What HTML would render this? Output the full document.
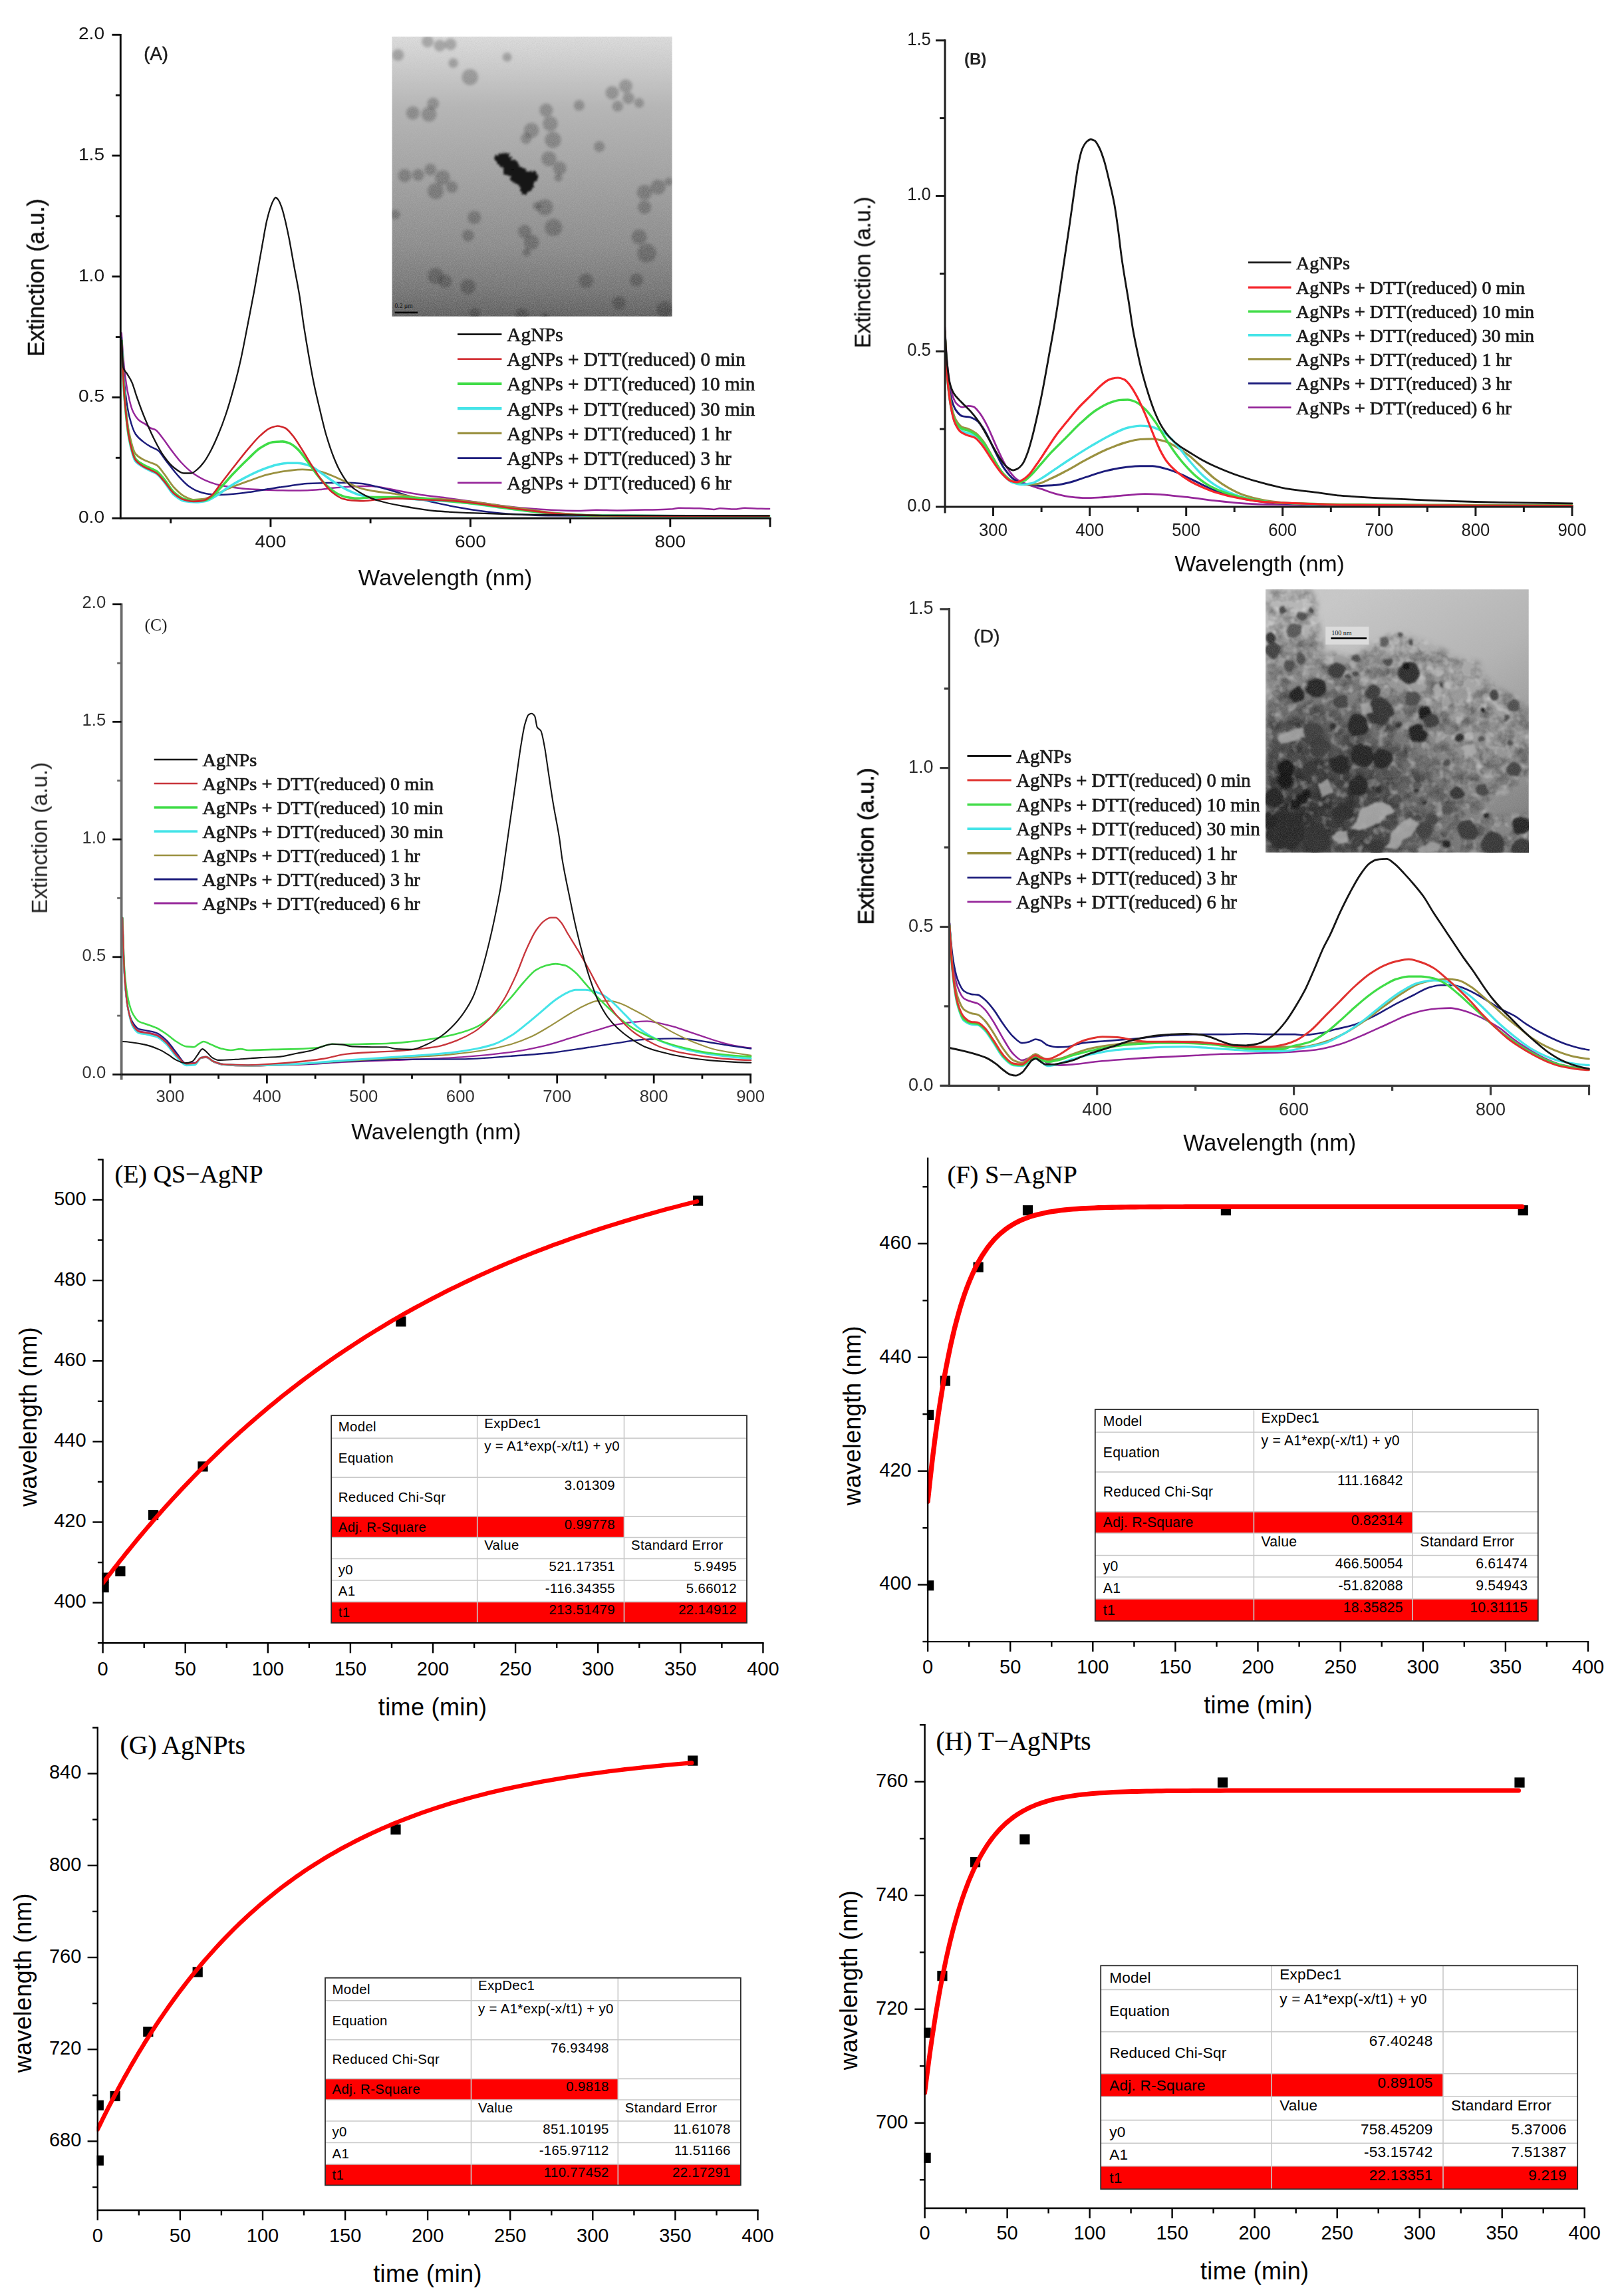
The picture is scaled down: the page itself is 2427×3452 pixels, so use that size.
<!DOCTYPE html>
<html><head><meta charset="utf-8"><title>Figure</title>
<style>html,body{margin:0;padding:0;background:#fff}svg{display:block}</style>
</head><body>
<svg width="2427" height="3452" viewBox="0 0 2427 3452">
<rect width="2427" height="3452" fill="#fff"/>
<defs>
<clipPath id="clA"><rect x="181.3" y="40" width="978" height="745"/></clipPath>
<clipPath id="clB"><rect x="1421" y="40" width="945" height="730"/></clipPath>
<clipPath id="clC"><rect x="182.6" y="890" width="948" height="732"/></clipPath>
<clipPath id="clD"><rect x="1427.4" y="890" width="964" height="748"/></clipPath>
<filter id="soft" x="-2%" y="-2%" width="104%" height="104%"><feGaussianBlur stdDeviation="0.6"/></filter>
</defs>
<g filter="url(#soft)">
<g clip-path="url(#clA)">
<path d="M182.7 500.4C184.2 522.8 185.7 543.1 187.2 556.1C189 572.5 190.9 584.6 192.8 593.3C195.2 604.9 197.7 614.3 200.2 619.3C203.3 625.6 206.4 629.7 209.5 632.3C212.6 634.9 215.7 635.8 218.8 637.9C221.3 639.6 223.7 642.3 226.2 643.5C228.7 644.7 231.2 644.8 233.6 646.1C236.7 647.7 239.8 652.7 242.9 656.5C247.9 662.6 252.9 670.5 257.8 677C262.8 683.4 267.7 690.3 272.7 695.5C278.9 702.1 285.1 708 291.3 712.3C297.5 716.5 303.7 720.1 309.9 722.7C316 725.3 322.2 727.6 328.4 729C335.9 730.7 343.3 731.7 350.7 732.7C358.2 733.7 365.6 734.8 373 735.3C380.5 735.8 387.9 736.1 395.4 736.4C402.8 736.7 410.2 737 417.7 737.2C425.1 737.3 432.5 737.5 440 737.5C447.4 737.5 454.8 737.4 462.3 737.2C469.7 737 477.1 736.3 484.6 735.7C489.5 735.2 494.5 734.3 499.4 733.8C506.9 733.1 514.3 732.4 521.7 732C529.2 731.5 536.6 730.9 544.1 730.9C549 730.9 554 730.9 558.9 730.9C565.1 730.9 571.3 732.4 577.5 733.5C583.7 734.5 589.9 736 596.1 737.2C608.5 739.5 620.9 742 633.3 743.9C647.3 745.9 661.3 747.3 675.3 749.2C688.1 750.9 700.9 752.7 713.7 754.5C726.5 756.3 739.3 758.3 752.1 759.9C764.9 761.5 777.7 763 790.5 764.1C803.3 765.2 816.1 766.3 828.9 766.8C841.7 767.4 854.5 768 867.3 768C877.2 768 887 766.8 896.9 766.8C907.2 766.8 917.5 767.4 927.8 767.4C938.2 767.4 948.5 767 958.8 766.8C969.1 766.6 979.5 766.5 989.8 766.2C997 766 1004.2 765.8 1011.5 765.3C1014.6 765 1017.7 763.7 1020.8 763.7C1025.9 763.7 1031.1 763.9 1036.3 764C1041.4 764.1 1046.6 764.2 1051.7 764.3C1059 764.6 1066.2 765.9 1073.4 765.9C1076.5 765.9 1079.6 764.3 1082.7 764.3C1090 764.3 1097.2 765.6 1104.4 765.6C1109.6 765.6 1114.7 763.7 1119.9 763.7C1126.1 763.7 1132.3 764.5 1138.5 764.7C1144.7 764.8 1150.9 765 1157.1 765" fill="none" stroke="#96289a" stroke-width="2.5" stroke-linejoin="round" stroke-linecap="round"/>
<path d="M182.7 507.8C184.2 536.6 185.7 564.2 187.2 578.4C189.7 602.1 192.1 616.9 194.6 626.8C197.7 639.1 200.8 648.2 203.9 652.8C207.6 658.3 211.3 661 215.1 663.9C218.8 666.9 222.5 669.3 226.2 671.4C229.9 673.5 233.6 674.3 237.4 677C241.7 680 246 688.2 250.4 693.7C255.3 700 260.3 706.7 265.2 712.3C271.4 719.2 277.6 726.5 283.8 730.9C288.8 734.3 293.7 737.3 298.7 739C303.7 740.7 308.6 742.2 313.6 742.8C318.5 743.3 323.5 743.9 328.4 743.9C335.9 743.9 343.3 743.3 350.7 742.8C358.2 742.2 365.6 741.2 373 740.1C383 738.8 392.9 736.9 402.8 735.3C412.7 733.8 422.6 732.2 432.5 730.9C442.4 729.5 452.4 727.7 462.3 727.1C472.2 726.6 482.1 726.2 492 726C501.9 725.8 511.8 725.7 521.7 725.7C529.2 725.7 536.6 726.4 544.1 727.1C551.5 727.9 558.9 729.9 566.4 731.6C573.8 733.3 581.2 735.4 588.7 737.5C597.3 740 606 743.3 614.7 745.7C628.5 749.6 642.3 753 656 756.1C668.8 758.9 681.7 761.6 694.5 763.8C707.3 766 720.1 768.1 732.9 769.5C745.7 771 758.5 772.3 771.3 773C790.5 774.1 809.7 775.2 828.9 775.3C867.3 775.5 905.8 775.7 944.2 775.7C1015 775.7 1085.8 775.7 1156.6 775.7" fill="none" stroke="#1f1f7c" stroke-width="2.5" stroke-linejoin="round" stroke-linecap="round"/>
<path d="M182.7 511.5C184.2 544.5 185.7 576.2 187.2 593.3C189.7 621.8 192.1 641.3 194.6 652.8C197.7 667.2 200.8 678.8 203.9 682.5C207.6 687 211.3 688.7 215.1 690.7C218.8 692.7 222.5 694 226.2 695.5C229.3 696.8 232.4 697.4 235.5 699.3C239.2 701.4 242.9 707.6 246.7 712.3C251.6 718.5 256.6 727.4 261.5 732.7C266.5 738 271.4 743.1 276.4 745.7C281.4 748.3 286.3 751.3 291.3 751.3C296.2 751.3 301.2 750.8 306.1 750.2C311.1 749.6 316 746.9 321 745C328.4 742 335.9 737.7 343.3 734.6C353.2 730.4 363.1 726.9 373 723.4C383 719.9 392.9 715.8 402.8 713.4C412.7 711 422.6 708.9 432.5 707.8C440 707 447.4 705.9 454.8 705.9C462.3 705.9 469.7 706.8 477.1 707.8C484.6 708.8 492 712.4 499.4 715.2C506.9 718.1 514.3 722.1 521.7 725.3C529.2 728.5 536.6 732.6 544.1 734.6C551.5 736.6 558.9 737.9 566.4 739C576.3 740.6 586.2 741.4 596.1 742.8C608.5 744.5 620.9 747.6 633.3 748.7C647.3 749.9 661.3 750.1 675.3 751.1C688.1 752 700.9 753.4 713.7 754.9C726.5 756.4 739.3 758.6 752.1 760.3C764.9 762 777.7 763.6 790.5 765.3C803.3 767 816.1 769.5 828.9 770.7C841.7 771.9 854.5 772.6 867.3 773.4C880.1 774.1 892.9 775.2 905.8 775.3C944.2 775.6 982.6 775.7 1021 775.7C1066.2 775.7 1111.4 775.7 1156.6 775.7" fill="none" stroke="#9a9140" stroke-width="2.8" stroke-linejoin="round" stroke-linecap="round"/>
<path d="M182.7 511.5C184.2 545.8 185.7 578.6 187.2 597C189.7 627.8 192.1 649.7 194.6 662.1C197.7 677.5 200.8 689.9 203.9 693.7C207.6 698.3 211.3 699.6 215.1 701.9C218.8 704.2 222.5 705.9 226.2 707.8C229.3 709.4 232.4 710.2 235.5 712.3C239.2 714.7 242.9 719.8 246.7 724.2C251.6 730 256.6 739.7 261.5 743.9C266.5 748.1 271.4 752.3 276.4 753.2C282.6 754.3 288.8 755 295 755C299.9 755 304.9 754.2 309.9 753.2C314.8 752.2 319.8 748.6 324.7 745.7C330.9 742.1 337.1 736.7 343.3 732.7C350.7 728 358.2 723.7 365.6 719.7C373 715.7 380.5 711.7 387.9 708.6C395.4 705.4 402.8 702.2 410.2 700.4C417.7 698.6 425.1 696.3 432.5 696.3C437.5 696.3 442.4 696.3 447.4 696.3C453.6 696.3 459.8 698.3 466 700.4C472.2 702.4 478.4 708.1 484.6 712.3C490.8 716.4 497 721.3 503.2 725.3C509.4 729.3 515.6 733.5 521.7 736.4C527.9 739.4 534.1 742.2 540.3 743.9C546.5 745.5 552.7 747.2 558.9 747.6C571.3 748.3 583.7 748.2 596.1 748.7C608.5 749.2 620.9 750.5 633.3 751.3C647.3 752.2 661.3 752.7 675.3 753.8C688.1 754.7 700.9 756.1 713.7 757.6C726.5 759.1 739.3 761.3 752.1 763C764.9 764.7 777.7 766.5 790.5 768C803.3 769.4 816.1 770.8 828.9 771.8C841.7 772.9 854.5 774.1 867.3 774.5C880.1 774.9 892.9 775.2 905.8 775.3C944.2 775.5 982.6 775.7 1021 775.7C1066.2 775.7 1111.4 775.7 1156.6 775.7" fill="none" stroke="#45e4e8" stroke-width="3.6" stroke-linejoin="round" stroke-linecap="round"/>
<path d="M182.7 511.5C184.2 546 185.7 578.9 187.2 597C189.7 627.2 192.1 648.5 194.6 660.2C197.7 674.9 200.8 686.1 203.9 690C207.6 694.6 211.3 696.3 215.1 698.5C218.8 700.8 222.5 702.3 226.2 704.1C229.3 705.6 232.4 706.5 235.5 708.6C239.2 711 242.9 716.1 246.7 720.4C251.6 726.3 256.6 735.7 261.5 740.1C266.5 744.6 271.4 748.7 276.4 750.2C281.4 751.7 286.3 753.2 291.3 753.2C296.2 753.2 301.2 752.9 306.1 752.4C309.9 752.1 313.6 749.8 317.3 747.6C322.2 744.6 327.2 737.9 332.2 732.7C338.4 726.2 344.5 718.8 350.7 712.3C358.2 704.5 365.6 697 373 690C379.2 684.1 385.4 677 391.6 673.2C397.8 669.5 404 665.2 410.2 664.7C415.2 664.2 420.1 663.9 425.1 663.9C428.8 663.9 432.5 665.5 436.2 666.9C440 668.4 443.7 671.7 447.4 675.1C452.4 679.6 457.3 687.2 462.3 693.7C467.2 700.2 472.2 708 477.1 714.1C482.1 720.3 487.1 726.4 492 730.9C497 735.3 501.9 739.5 506.9 742C511.8 744.5 516.8 746.7 521.7 747.6C526.7 748.5 531.7 749.4 536.6 749.4C544.1 749.4 551.5 747.6 558.9 747.6C571.3 747.6 583.7 747.6 596.1 747.6C608.5 747.6 620.9 748.6 633.3 749.4C647.3 750.4 661.3 752 675.3 753.4C688.1 754.6 700.9 755.7 713.7 757.2C726.5 758.7 739.3 760.9 752.1 762.6C764.9 764.3 777.7 766.1 790.5 767.6C803.3 769.1 816.1 770.8 828.9 771.8C841.7 772.8 854.5 773.6 867.3 774.1C880.1 774.6 892.9 775.2 905.8 775.3C944.2 775.6 982.6 775.7 1021 775.7C1066.2 775.7 1111.4 775.7 1156.6 775.7" fill="none" stroke="#3fdc46" stroke-width="3.6" stroke-linejoin="round" stroke-linecap="round"/>
<path d="M182.7 511.5C184.2 546 185.7 578.9 187.2 597C189.7 627.2 192.1 648 194.6 660.2C197.7 675.5 200.8 687.6 203.9 691.8C207.6 696.9 211.3 698.8 215.1 701.1C218.8 703.4 222.5 704.8 226.2 706.7C229.3 708.3 232.4 709.4 235.5 711.5C239.2 714.1 242.9 719.2 246.7 723.4C251.6 729.1 256.6 737.9 261.5 742C266.5 746.1 271.4 749.9 276.4 751.3C281.4 752.7 286.3 753.9 291.3 753.9C296.2 753.9 301.2 753.3 306.1 752.4C309.9 751.8 313.6 748.7 317.3 745.7C322.2 741.8 327.2 733.5 332.2 727.1C338.4 719.2 344.5 710.9 350.7 703C358.2 693.5 365.6 683.8 373 675.1C379.2 667.9 385.4 660.1 391.6 654.6C396.6 650.3 401.5 645.4 406.5 643.5C410.2 642.1 413.9 640.5 417.7 640.5C421.4 640.5 425.1 641.9 428.8 643.5C432.5 645.1 436.2 650.2 440 654.6C444.9 660.5 449.9 669.2 454.8 677C459.8 684.7 464.7 693.4 469.7 701.1C474.7 708.8 479.6 717 484.6 723.4C489.5 729.8 494.5 736.2 499.4 740.1C504.4 744.1 509.4 747.9 514.3 749.4C519.3 750.9 524.2 752 529.2 752.4C534.1 752.8 539.1 753.2 544.1 753.2C551.5 753.2 558.9 751.8 566.4 751.3C576.3 750.6 586.2 749.4 596.1 749.4C608.5 749.4 620.9 750.8 633.3 751.3C647.3 751.8 661.3 751.9 675.3 752.6C688.1 753.2 700.9 755 713.7 756.5C726.5 758 739.3 760.1 752.1 761.8C764.9 763.6 777.7 765.2 790.5 766.8C803.3 768.4 816.1 770.3 828.9 771.4C841.7 772.6 854.5 773.6 867.3 774.1C880.1 774.7 892.9 775.2 905.8 775.3C944.2 775.6 982.6 775.7 1021 775.7C1066.2 775.7 1111.4 775.7 1156.6 775.7" fill="none" stroke="#d0262c" stroke-width="2.6" stroke-linejoin="round" stroke-linecap="round"/>
<path d="M183.1 511.5C183.8 528.7 184.6 549.8 185.3 552.4C187.2 558.9 189 558.5 190.9 561.7C193.4 565.9 195.8 569.2 198.3 574.7C200.8 580.2 203.3 590 205.8 597C209.5 607.6 213.2 617.7 216.9 626.8C221.9 638.9 226.8 650.5 231.8 660.2C236.7 670 241.7 679.5 246.7 686.2C251.6 693 256.6 699.2 261.5 703C266.5 706.7 271.4 711.5 276.4 711.5C280.1 711.5 283.8 711.5 287.5 711.5C290.6 711.5 293.7 708.1 296.8 705.6C299.9 703.1 303 699.6 306.1 695.5C309.9 690.7 313.6 684 317.3 677C321 669.9 324.7 661.7 328.4 652.8C332.2 643.9 335.9 634.1 339.6 623C343.3 612 347 599.4 350.7 585.9C354.5 572.4 358.2 557.8 361.9 541.3C365.6 524.7 369.3 504.5 373 485.5C376.1 469.7 379.2 454.1 382.3 437.2C384.9 423 387.5 407.4 390.1 392.6C391.9 382.7 393.6 372.4 395.4 362.8C397.2 352.6 399.1 341.2 400.9 333.1C402.8 325 404.6 318.1 406.5 312.6C408 308.2 409.5 303.9 411 301.5C412.2 299.5 413.4 297 414.7 297C415.9 297 417.2 298.8 418.4 300.4C420 302.4 421.6 306.4 423.2 310.8C425.1 315.8 427 323.6 428.8 331.2C430.8 339.4 432.8 349.1 434.8 359.1C437.2 371.6 439.7 386.4 442.2 400C444.9 414.9 447.6 427.7 450.4 444.6C452.5 457.6 454.6 475.5 456.7 489.2C459.2 505.3 461.6 519.6 464.1 533.8C466.6 548.1 469.1 562.6 471.6 574.7C474.7 589.9 477.8 602.6 480.9 615.6C484 628.6 487.1 642.1 490.1 652.8C493.9 665.6 497.6 676.9 501.3 686.2C505 695.6 508.7 704 512.5 710.4C516.8 717.9 521.1 724.7 525.5 729C530.4 733.9 535.4 737.2 540.3 740.1C546.5 743.9 552.7 747.1 558.9 749.4C565.1 751.8 571.3 753.5 577.5 755C589.9 758.1 602.3 760.3 614.7 762.5C627.1 764.6 639.5 767 651.9 768C672.5 769.8 693.1 770.6 713.7 771.4C739.3 772.5 764.9 773.4 790.5 773.7C828.9 774.3 867.3 774.8 905.8 774.9C989.4 775.1 1073 775.3 1156.6 775.3" fill="none" stroke="#141414" stroke-width="2.3" stroke-linejoin="round" stroke-linecap="round"/>
</g>
<line x1="181.3" y1="50.9" x2="181.3" y2="780.7" stroke="#111" stroke-width="2.9"/>
<line x1="181.3" y1="779.2" x2="1159.5" y2="779.2" stroke="#111" stroke-width="2.9"/>
<line x1="406.9" y1="779.2" x2="406.9" y2="792.2" stroke="#111" stroke-width="2.9"/>
<text x="0" y="0" font-family="'Liberation Sans',Arial,sans-serif" font-size="26" text-anchor="middle" fill="#161616" transform="translate(406.9 822.6) scale(1.08 1)">400</text>
<line x1="707.4" y1="779.2" x2="707.4" y2="792.2" stroke="#111" stroke-width="2.9"/>
<text x="0" y="0" font-family="'Liberation Sans',Arial,sans-serif" font-size="26" text-anchor="middle" fill="#161616" transform="translate(707.4 822.6) scale(1.08 1)">600</text>
<line x1="1007.8" y1="779.2" x2="1007.8" y2="792.2" stroke="#111" stroke-width="2.9"/>
<text x="0" y="0" font-family="'Liberation Sans',Arial,sans-serif" font-size="26" text-anchor="middle" fill="#161616" transform="translate(1007.8 822.6) scale(1.08 1)">800</text>
<line x1="1158" y1="779.2" x2="1158" y2="792.2" stroke="#111" stroke-width="2.9"/>
<line x1="256.7" y1="779.2" x2="256.7" y2="786.7" stroke="#111" stroke-width="2.9"/>
<line x1="557.1" y1="779.2" x2="557.1" y2="786.7" stroke="#111" stroke-width="2.9"/>
<line x1="857.6" y1="779.2" x2="857.6" y2="786.7" stroke="#111" stroke-width="2.9"/>
<line x1="168.4" y1="779.2" x2="181.3" y2="779.2" stroke="#111" stroke-width="2.9"/>
<text x="0" y="0" font-family="'Liberation Sans',Arial,sans-serif" font-size="26" text-anchor="end" fill="#161616" transform="translate(157 785.9) scale(1.08 1)">0.0</text>
<line x1="168.4" y1="597.5" x2="181.3" y2="597.5" stroke="#111" stroke-width="2.9"/>
<text x="0" y="0" font-family="'Liberation Sans',Arial,sans-serif" font-size="26" text-anchor="end" fill="#161616" transform="translate(157 604.2) scale(1.08 1)">0.5</text>
<line x1="168.4" y1="415.8" x2="181.3" y2="415.8" stroke="#111" stroke-width="2.9"/>
<text x="0" y="0" font-family="'Liberation Sans',Arial,sans-serif" font-size="26" text-anchor="end" fill="#161616" transform="translate(157 422.5) scale(1.08 1)">1.0</text>
<line x1="168.4" y1="234" x2="181.3" y2="234" stroke="#111" stroke-width="2.9"/>
<text x="0" y="0" font-family="'Liberation Sans',Arial,sans-serif" font-size="26" text-anchor="end" fill="#161616" transform="translate(157 240.7) scale(1.08 1)">1.5</text>
<line x1="168.4" y1="52.3" x2="181.3" y2="52.3" stroke="#111" stroke-width="2.9"/>
<text x="0" y="0" font-family="'Liberation Sans',Arial,sans-serif" font-size="26" text-anchor="end" fill="#161616" transform="translate(157 59) scale(1.08 1)">2.0</text>
<line x1="173.9" y1="688.3" x2="181.3" y2="688.3" stroke="#111" stroke-width="2.9"/>
<line x1="173.9" y1="506.6" x2="181.3" y2="506.6" stroke="#111" stroke-width="2.9"/>
<line x1="173.9" y1="324.9" x2="181.3" y2="324.9" stroke="#111" stroke-width="2.9"/>
<line x1="173.9" y1="143.2" x2="181.3" y2="143.2" stroke="#111" stroke-width="2.9"/>
<text x="216.3" y="90.2" font-family="'Liberation Sans',Arial,sans-serif" font-size="27.5" text-anchor="start" fill="#1a1a1a" stroke="#1a1a1a" stroke-width="0.5">(A)</text>
<text x="53.4" y="417.4" font-family="'Liberation Sans',Arial,sans-serif" font-size="34.2" text-anchor="middle" fill="#111" transform="rotate(-90 53.4 417.4)" dy="0.36em" stroke="#111" stroke-width="0.5">Extinction (a.u.)</text>
<text x="0" y="0" font-family="'Liberation Sans',Arial,sans-serif" font-size="33.2" text-anchor="middle" fill="#111" transform="translate(669.4 879.8) scale(1.04 1)">Wavelength (nm)</text>
<line x1="688" y1="502.6" x2="754.4" y2="502.6" stroke="#141414" stroke-width="2.6"/>
<text x="762.3" y="513" font-family="'Liberation Serif','Times New Roman',serif" font-size="29.2" text-anchor="start" fill="#1a1a1a" stroke="#1a1a1a" stroke-width="0.7">AgNPs</text>
<line x1="688" y1="539.8" x2="754.4" y2="539.8" stroke="#d0262c" stroke-width="2.6"/>
<text x="762.3" y="550.2" font-family="'Liberation Serif','Times New Roman',serif" font-size="29.2" text-anchor="start" fill="#1a1a1a" stroke="#1a1a1a" stroke-width="0.7">AgNPs + DTT(reduced) 0 min</text>
<line x1="688" y1="577" x2="754.4" y2="577" stroke="#3fdc46" stroke-width="4.2"/>
<text x="762.3" y="587.4" font-family="'Liberation Serif','Times New Roman',serif" font-size="29.2" text-anchor="start" fill="#1a1a1a" stroke="#1a1a1a" stroke-width="0.7">AgNPs + DTT(reduced) 10 min</text>
<line x1="688" y1="614.2" x2="754.4" y2="614.2" stroke="#45e4e8" stroke-width="4.2"/>
<text x="762.3" y="624.6" font-family="'Liberation Serif','Times New Roman',serif" font-size="29.2" text-anchor="start" fill="#1a1a1a" stroke="#1a1a1a" stroke-width="0.7">AgNPs + DTT(reduced) 30 min</text>
<line x1="688" y1="651.4" x2="754.4" y2="651.4" stroke="#9a9140" stroke-width="3.2"/>
<text x="762.3" y="661.8" font-family="'Liberation Serif','Times New Roman',serif" font-size="29.2" text-anchor="start" fill="#1a1a1a" stroke="#1a1a1a" stroke-width="0.7">AgNPs + DTT(reduced) 1 hr</text>
<line x1="688" y1="688.6" x2="754.4" y2="688.6" stroke="#1f1f7c" stroke-width="2.8"/>
<text x="762.3" y="699" font-family="'Liberation Serif','Times New Roman',serif" font-size="29.2" text-anchor="start" fill="#1a1a1a" stroke="#1a1a1a" stroke-width="0.7">AgNPs + DTT(reduced) 3 hr</text>
<line x1="688" y1="725.8" x2="754.4" y2="725.8" stroke="#96289a" stroke-width="2.8"/>
<text x="762.3" y="736.2" font-family="'Liberation Serif','Times New Roman',serif" font-size="29.2" text-anchor="start" fill="#1a1a1a" stroke="#1a1a1a" stroke-width="0.7">AgNPs + DTT(reduced) 6 hr</text>
</g>
<g filter="url(#soft)">
<g clip-path="url(#clB)">
<path d="M1420.9 492.5C1422.1 516.1 1423.4 538.2 1424.6 550.1C1426.5 567.9 1428.3 580.4 1430.2 587.3C1432.7 596.5 1435.1 603.2 1437.6 605.9C1440.7 609.3 1443.8 612.2 1446.9 612.2C1450 612.2 1453.1 610.3 1456.2 610.3C1458.7 610.3 1461.2 610.8 1463.6 611.4C1466.7 612.2 1469.8 616.9 1472.9 620.7C1476.7 625.4 1480.4 632.3 1484.1 639.3C1489 648.8 1494 662.3 1499 672.8C1503.9 683.3 1508.9 695.1 1513.8 702.5C1518.8 710 1523.7 716.9 1528.7 720.4C1533.7 723.9 1538.6 725.8 1543.6 727.8C1551 730.8 1558.4 732.8 1565.9 735.2C1573.3 737.7 1580.7 740.8 1588.2 742.7C1595.6 744.5 1603 746.4 1610.5 747.1C1617.9 747.9 1625.4 748.6 1632.8 748.6C1640.2 748.6 1647.7 748.2 1655.1 747.9C1662.5 747.5 1670 746.6 1677.4 746C1684.8 745.4 1692.3 744.7 1699.7 744.2C1707.1 743.6 1714.6 742.7 1722 742.7C1729.4 742.7 1736.9 743 1744.3 743.4C1751.7 743.8 1759.2 744.9 1766.6 745.7C1774.1 746.4 1781.5 747 1788.9 747.9C1801.3 749.3 1813.7 751.3 1826.1 752.7C1838.5 754.1 1850.9 755.6 1863.3 756.4C1875.7 757.3 1888.1 758 1900.4 758.3C1925.2 758.9 1950 758.8 1974.8 759.4C1988.5 759.7 2002.1 761 2015.8 761.1C2035.1 761.1 2054.5 761.1 2073.8 761.2C2122.2 761.2 2170.5 761.3 2218.9 761.3C2267.2 761.4 2315.6 761.4 2364 761.4" fill="none" stroke="#96289a" stroke-width="2.8" stroke-linejoin="round" stroke-linecap="round"/>
<path d="M1420.9 498.1C1422.1 524.3 1423.4 549 1424.6 561.3C1426.5 579.6 1428.3 591.5 1430.2 598.4C1432.7 607.7 1435.1 613.6 1437.6 617C1440.7 621.3 1443.8 624.8 1446.9 625.6C1450.6 626.5 1454.3 626.3 1458.1 627.1C1461.8 627.8 1465.5 630 1469.2 632.6C1472.9 635.3 1476.7 641.1 1480.4 646.8C1485.3 654.4 1490.3 666.9 1495.2 676.5C1500.2 686.1 1505.2 697.4 1510.1 704.4C1515.1 711.4 1520 718.1 1525 721.1C1531.2 724.8 1537.4 727.7 1543.6 728.6C1551 729.6 1558.4 730.4 1565.9 730.4C1573.3 730.4 1580.7 729.9 1588.2 729.3C1595.6 728.7 1603 726.7 1610.5 724.8C1617.9 723 1625.4 719.8 1632.8 717.4C1642.7 714.2 1652.6 710.4 1662.5 708.1C1672.4 705.8 1682.4 703.7 1692.3 702.5C1699.7 701.7 1707.1 700.7 1714.6 700.7C1720.8 700.7 1727 700.7 1733.2 700.7C1739.4 700.7 1745.6 702.8 1751.7 704.4C1757.9 705.9 1764.1 708.3 1770.3 710.7C1776.5 713.1 1782.7 716.3 1788.9 719.3C1795.1 722.2 1801.3 725.6 1807.5 728.6C1813.7 731.5 1819.9 734.7 1826.1 737.1C1833.5 740 1841 742.5 1848.4 744.5C1858.3 747.3 1868.2 750 1878.1 751.6C1891.8 753.8 1905.4 755.6 1919 756.4C1937.6 757.6 1956.2 758 1974.8 758.7C1988.5 759.2 2002.1 760 2015.8 760.1C2035.1 760.3 2054.5 760.3 2073.8 760.3C2122.2 760.5 2170.5 760.6 2218.9 760.7C2267.2 760.8 2315.6 760.8 2364 760.9" fill="none" stroke="#1f1f7c" stroke-width="3.0" stroke-linejoin="round" stroke-linecap="round"/>
<path d="M1420.9 498.8C1422.4 529.5 1423.9 557.7 1425.4 572.4C1427.3 592 1429.3 605.1 1431.3 613.3C1433.4 622 1435.5 628.4 1437.6 631.9C1440.7 637.1 1443.8 640.9 1446.9 642.3C1450 643.7 1453.1 643.8 1456.2 644.9C1459.9 646.3 1463.6 648.4 1467.4 651.2C1471.1 654 1474.8 658.6 1478.5 663.5C1483.5 670 1488.4 680.4 1493.4 688.4C1498.3 696.4 1503.3 706.6 1508.3 711.8C1513.8 717.7 1519.4 722.7 1525 724.8C1529.9 726.7 1534.9 728.6 1539.9 728.6C1546 728.6 1552.2 728.2 1558.4 727.8C1565.9 727.3 1573.3 722.5 1580.7 719.3C1588.2 716 1595.6 712 1603 708.1C1613 702.9 1622.9 696.6 1632.8 691.4C1642.7 686.1 1652.6 680.8 1662.5 676.5C1672.4 672.3 1682.4 668 1692.3 665.4C1699.7 663.3 1707.1 661 1714.6 660.5C1720.8 660.1 1727 659.8 1733.2 659.8C1739.4 659.8 1745.6 661.7 1751.7 663.5C1757.9 665.3 1764.1 669.2 1770.3 672.8C1776.5 676.4 1782.7 680.9 1788.9 685.8C1795.1 690.7 1801.3 697 1807.5 702.5C1813.7 708.1 1819.9 714.5 1826.1 719.3C1833.5 725 1841 730 1848.4 734.1C1855.8 738.2 1863.3 742.1 1870.7 744.5C1880.6 747.8 1890.5 750.3 1900.4 752C1912.8 754 1925.2 755.7 1937.6 756.4C1950 757.2 1962.4 757.7 1974.8 757.9C1988.5 758.1 2002.1 758.2 2015.8 758.3C2035.1 758.4 2054.5 758.5 2073.8 758.6C2122.2 758.9 2170.5 759.2 2218.9 759.4C2267.2 759.5 2315.6 759.7 2364 759.8" fill="none" stroke="#9a9140" stroke-width="3.2" stroke-linejoin="round" stroke-linecap="round"/>
<path d="M1420.9 499.9C1422.4 532.7 1423.9 563 1425.4 578C1427.3 598 1429.3 610.1 1431.3 618.9C1433.4 628.2 1435.5 636 1437.6 639.3C1440.7 644.2 1443.8 647.3 1446.9 648.6C1450 650 1453.1 650.2 1456.2 651.2C1459.9 652.5 1463.6 653.8 1467.4 656.1C1471.1 658.3 1474.8 662.7 1478.5 667.2C1483.5 673.3 1488.4 683.6 1493.4 691.4C1498.3 699.1 1503.3 708.5 1508.3 713.7C1513.2 718.9 1518.2 723.8 1523.1 725.6C1527.5 727.1 1531.8 728.6 1536.1 728.6C1541.1 728.6 1546 727.7 1551 726.7C1556 725.7 1560.9 722.1 1565.9 719.3C1573.3 715 1580.7 709.3 1588.2 704.4C1595.6 699.4 1603 694.3 1610.5 689.5C1620.4 683.1 1630.3 676.8 1640.2 670.9C1650.1 665.1 1660 659 1670 654.2C1678.6 650 1687.3 645 1696 643C1702.2 641.6 1708.4 640.1 1714.6 640.1C1719.5 640.1 1724.5 640.6 1729.4 641.2C1734.4 641.8 1739.4 644.3 1744.3 646.8C1749.3 649.2 1754.2 653.5 1759.2 657.9C1764.1 662.4 1769.1 668.8 1774.1 674.6C1779 680.5 1784 687.4 1788.9 693.2C1795.1 700.5 1801.3 707.9 1807.5 713.7C1813.7 719.4 1819.9 724.6 1826.1 728.6C1833.5 733.3 1841 737.4 1848.4 740.4C1858.3 744.5 1868.2 748.2 1878.1 750.1C1891.8 752.8 1905.4 754.8 1919 755.7C1937.6 756.9 1956.2 757.2 1974.8 757.9C1988.5 758.5 2002.1 759.6 2015.8 759.7C2035.1 759.8 2054.5 759.8 2073.8 759.9C2122.2 760.1 2170.5 760.3 2218.9 760.4C2267.2 760.5 2315.6 760.6 2364 760.6" fill="none" stroke="#45e4e8" stroke-width="3.4" stroke-linejoin="round" stroke-linecap="round"/>
<path d="M1420.9 499.9C1422.4 531.8 1423.9 561.3 1425.4 576.1C1427.3 596 1429.3 608.8 1431.3 617C1433.4 625.7 1435.5 632.4 1437.6 635.6C1440.7 640.4 1443.8 643.6 1446.9 644.9C1450 646.3 1453.1 646.4 1456.2 647.5C1459.9 648.9 1463.6 650.8 1467.4 653.5C1471.1 656.1 1474.8 660.6 1478.5 665.4C1483.5 671.7 1488.4 681.8 1493.4 689.5C1498.3 697.2 1503.3 706.4 1508.3 711.8C1512.6 716.5 1516.9 721.2 1521.3 723C1524.4 724.2 1527.5 725.6 1530.6 725.6C1533.7 725.6 1536.8 724.3 1539.9 723C1543.6 721.4 1547.3 717.2 1551 713.7C1556 709 1560.9 702.5 1565.9 697C1570.8 691.4 1575.8 685.5 1580.7 680.2C1588.2 672.3 1595.6 665.4 1603 657.9C1610.5 650.5 1617.9 642.4 1625.4 635.6C1632.8 628.9 1640.2 621.9 1647.7 617C1655.1 612.2 1662.5 607.6 1670 605.1C1674.9 603.5 1679.9 601.7 1684.8 601.4C1688.6 601.2 1692.3 601 1696 601C1699.7 601 1703.4 602.6 1707.1 604C1712.1 605.9 1717.1 610.5 1722 615.2C1727 619.8 1731.9 626.8 1736.9 633.8C1741.8 640.8 1746.8 650.2 1751.7 657.9C1756.7 665.7 1761.7 673.5 1766.6 680.2C1771.6 687 1776.5 693.3 1781.5 698.8C1787.7 705.7 1793.9 712.3 1800.1 717.4C1806.3 722.5 1812.5 727.1 1818.7 730.4C1827.3 735.1 1836 738.8 1844.7 741.6C1857.1 745.5 1869.5 748.7 1881.9 750.9C1894.3 753 1906.6 755 1919 755.7C1937.6 756.7 1956.2 757 1974.8 757.5C1988.5 758 2002.1 758.6 2015.8 758.7C2035.1 758.9 2054.5 759 2073.8 759.1C2122.2 759.3 2170.5 759.6 2218.9 759.7C2267.2 759.9 2315.6 760 2364 760" fill="none" stroke="#3fdc46" stroke-width="3.4" stroke-linejoin="round" stroke-linecap="round"/>
<path d="M1420.9 498.1C1422.1 527.1 1423.4 554.4 1424.6 568.7C1426.5 590.2 1428.3 603.4 1430.2 613.3C1432 623.2 1433.9 631.4 1435.8 635.6C1438.9 642.7 1442 647.5 1445.1 649.7C1448.2 652 1451.3 653 1454.3 654.2C1458.1 655.7 1461.8 656.1 1465.5 657.9C1469.2 659.8 1472.9 664.7 1476.7 669.1C1481.6 675 1486.6 684.3 1491.5 691.4C1496.5 698.5 1501.4 706.6 1506.4 711.8C1510.7 716.4 1515.1 721.6 1519.4 723C1522.5 723.9 1525.6 724.8 1528.7 724.8C1531.8 724.8 1534.9 722.8 1538 721.1C1541.1 719.5 1544.2 716.8 1547.3 713.7C1551 710 1554.7 704 1558.4 698.8C1563.4 691.8 1568.4 683.9 1573.3 676.5C1578.3 669.1 1583.2 661 1588.2 654.2C1593.1 647.4 1598.1 641.7 1603 635.6C1609.2 628 1615.4 620.1 1621.6 613.3C1627.8 606.5 1634 600.9 1640.2 594.7C1645.2 589.8 1650.1 584 1655.1 579.9C1659.4 576.3 1663.8 571.9 1668.1 570.6C1672.4 569.2 1676.8 568 1681.1 568C1684.2 568 1687.3 569.2 1690.4 570.6C1693.5 571.9 1696.6 576 1699.7 579.9C1703.4 584.5 1707.1 591.4 1710.9 598.4C1714.6 605.4 1718.3 614 1722 622.6C1725.7 631.2 1729.4 641.5 1733.2 650.5C1736.9 659.5 1740.6 669.3 1744.3 676.5C1748 683.7 1751.7 690.4 1755.5 695.1C1760.4 701.4 1765.4 705.9 1770.3 710C1776.5 715.1 1782.7 719.4 1788.9 723C1795.1 726.6 1801.3 729.5 1807.5 732.3C1813.7 735 1819.9 737.7 1826.1 739.7C1838.5 743.6 1850.9 746.7 1863.3 749C1875.7 751.3 1888.1 753.7 1900.4 754.6C1925.2 756.2 1950 756.6 1974.8 757.5C1988.5 758.1 2002.1 759.1 2015.8 759.2C2035.1 759.4 2054.5 759.4 2073.8 759.5C2122.2 759.7 2170.5 759.9 2218.9 760C2267.2 760.2 2315.6 760.3 2364 760.3" fill="none" stroke="#f5252b" stroke-width="3.2" stroke-linejoin="round" stroke-linecap="round"/>
<path d="M1420.9 496.2C1421.9 514.9 1422.9 532.4 1423.9 542.7C1425.4 558.1 1426.8 570.2 1428.3 576.1C1430.2 583.6 1432 587.8 1433.9 591C1437.6 597.3 1441.3 600 1445.1 604C1450 609.4 1455 613.3 1459.9 618.9C1464.3 623.8 1468.6 629.2 1472.9 635.6C1477.9 642.9 1482.9 653 1487.8 661.6C1492.8 670.3 1497.7 680.4 1502.7 687.7C1506.4 693.1 1510.1 698.9 1513.8 701.8C1516.9 704.2 1520 707 1523.1 707C1525.6 707 1528.1 705.7 1530.6 704.4C1533 703.1 1535.5 700.4 1538 697C1540.5 693.5 1542.9 687 1545.4 680.2C1547.9 673.4 1550.4 663.7 1552.9 654.2C1555.3 644.7 1557.8 633.7 1560.3 622.6C1562.8 611.5 1565.3 599.9 1567.7 587.3C1570.2 574.7 1572.7 560 1575.2 546.4C1577.6 532.8 1580.1 519.7 1582.6 505.5C1585.1 491.3 1587.6 476.5 1590 460.9C1596.2 421.9 1602.4 378.7 1608.6 335.9C1610.7 321.3 1612.8 305.7 1614.9 291.3C1617.2 276 1619.4 257.7 1621.6 246.7C1623.5 237.4 1625.4 228.7 1627.2 224.3C1629.7 218.6 1632.2 214.4 1634.6 212.5C1636.5 211 1638.4 209.5 1640.2 209.5C1642.1 209.5 1643.9 210.4 1645.8 211.3C1648.3 212.7 1650.8 217.7 1653.2 222.5C1655.7 227.3 1658.2 234.9 1660.7 242.9C1663.1 251 1665.6 262.2 1668.1 272.7C1670.6 283.2 1673.1 292.7 1675.5 306.1C1677.4 316.2 1679.3 329.8 1681.1 343.3C1683 356.8 1684.8 374.7 1686.7 387.9C1690.4 414.3 1694.1 433.2 1697.8 457.2C1699.7 469.2 1701.6 483.7 1703.4 494.3C1705.9 508.6 1708.4 520.1 1710.9 531.5C1713.3 542.9 1715.8 553.7 1718.3 563.1C1721.4 574.9 1724.5 585.2 1727.6 594.7C1730.7 604.2 1733.8 613.5 1736.9 620.7C1740.6 629.5 1744.3 637.1 1748 643C1751.7 649 1755.5 654 1759.2 657.9C1764.1 663.2 1769.1 667.3 1774.1 670.9C1779 674.5 1784 677.2 1788.9 680.2C1795.1 684 1801.3 688 1807.5 691.4C1813.7 694.8 1819.9 697.9 1826.1 700.7C1838.5 706.2 1850.9 711.3 1863.3 715.5C1875.7 719.8 1888.1 723.5 1900.4 726.7C1912.8 729.9 1925.2 733.2 1937.6 735.2C1951.7 737.5 1965.9 738.6 1980 740.4C1991.9 742 2003.9 744.1 2015.8 745.2C2035.1 746.9 2054.5 747.9 2073.8 748.9C2098 750.2 2122.2 751.3 2146.3 752.2C2170.5 753.1 2194.7 753.9 2218.9 754.5C2243.1 755.1 2267.2 755.5 2291.4 755.9C2315.6 756.3 2339.8 756.6 2364 756.9" fill="none" stroke="#141414" stroke-width="2.8" stroke-linejoin="round" stroke-linecap="round"/>
</g>
<line x1="1421" y1="59.2" x2="1421" y2="771.5" stroke="#1e1e1e" stroke-width="3"/>
<line x1="1421" y1="762" x2="2365.5" y2="762" stroke="#1e1e1e" stroke-width="3"/>
<line x1="1493.5" y1="762" x2="1493.5" y2="776" stroke="#1e1e1e" stroke-width="3"/>
<text x="0" y="0" font-family="'Liberation Sans',Arial,sans-serif" font-size="28.5" text-anchor="middle" fill="#1c1c1c" transform="translate(1493.5 806.2) scale(0.9 1)">300</text>
<line x1="1638.6" y1="762" x2="1638.6" y2="776" stroke="#1e1e1e" stroke-width="3"/>
<text x="0" y="0" font-family="'Liberation Sans',Arial,sans-serif" font-size="28.5" text-anchor="middle" fill="#1c1c1c" transform="translate(1638.6 806.2) scale(0.9 1)">400</text>
<line x1="1783.7" y1="762" x2="1783.7" y2="776" stroke="#1e1e1e" stroke-width="3"/>
<text x="0" y="0" font-family="'Liberation Sans',Arial,sans-serif" font-size="28.5" text-anchor="middle" fill="#1c1c1c" transform="translate(1783.7 806.2) scale(0.9 1)">500</text>
<line x1="1928.7" y1="762" x2="1928.7" y2="776" stroke="#1e1e1e" stroke-width="3"/>
<text x="0" y="0" font-family="'Liberation Sans',Arial,sans-serif" font-size="28.5" text-anchor="middle" fill="#1c1c1c" transform="translate(1928.7 806.2) scale(0.9 1)">600</text>
<line x1="2073.8" y1="762" x2="2073.8" y2="776" stroke="#1e1e1e" stroke-width="3"/>
<text x="0" y="0" font-family="'Liberation Sans',Arial,sans-serif" font-size="28.5" text-anchor="middle" fill="#1c1c1c" transform="translate(2073.8 806.2) scale(0.9 1)">700</text>
<line x1="2218.9" y1="762" x2="2218.9" y2="776" stroke="#1e1e1e" stroke-width="3"/>
<text x="0" y="0" font-family="'Liberation Sans',Arial,sans-serif" font-size="28.5" text-anchor="middle" fill="#1c1c1c" transform="translate(2218.9 806.2) scale(0.9 1)">800</text>
<line x1="2364" y1="762" x2="2364" y2="776" stroke="#1e1e1e" stroke-width="3"/>
<text x="0" y="0" font-family="'Liberation Sans',Arial,sans-serif" font-size="28.5" text-anchor="middle" fill="#1c1c1c" transform="translate(2364 806.2) scale(0.9 1)">900</text>
<line x1="1566.1" y1="762" x2="1566.1" y2="770" stroke="#1e1e1e" stroke-width="3"/>
<line x1="1711.1" y1="762" x2="1711.1" y2="770" stroke="#1e1e1e" stroke-width="3"/>
<line x1="1856.2" y1="762" x2="1856.2" y2="770" stroke="#1e1e1e" stroke-width="3"/>
<line x1="2001.3" y1="762" x2="2001.3" y2="770" stroke="#1e1e1e" stroke-width="3"/>
<line x1="2146.3" y1="762" x2="2146.3" y2="770" stroke="#1e1e1e" stroke-width="3"/>
<line x1="2291.4" y1="762" x2="2291.4" y2="770" stroke="#1e1e1e" stroke-width="3"/>
<line x1="1407" y1="762" x2="1421" y2="762" stroke="#1e1e1e" stroke-width="3"/>
<text x="0" y="0" font-family="'Liberation Sans',Arial,sans-serif" font-size="28.5" text-anchor="end" fill="#1c1c1c" transform="translate(1399.8 768.8) scale(0.9 1)">0.0</text>
<line x1="1407" y1="528.2" x2="1421" y2="528.2" stroke="#1e1e1e" stroke-width="3"/>
<text x="0" y="0" font-family="'Liberation Sans',Arial,sans-serif" font-size="28.5" text-anchor="end" fill="#1c1c1c" transform="translate(1399.8 535.1) scale(0.9 1)">0.5</text>
<line x1="1407" y1="294.5" x2="1421" y2="294.5" stroke="#1e1e1e" stroke-width="3"/>
<text x="0" y="0" font-family="'Liberation Sans',Arial,sans-serif" font-size="28.5" text-anchor="end" fill="#1c1c1c" transform="translate(1399.8 301.3) scale(0.9 1)">1.0</text>
<line x1="1407" y1="60.8" x2="1421" y2="60.8" stroke="#1e1e1e" stroke-width="3"/>
<text x="0" y="0" font-family="'Liberation Sans',Arial,sans-serif" font-size="28.5" text-anchor="end" fill="#1c1c1c" transform="translate(1399.8 67.6) scale(0.9 1)">1.5</text>
<line x1="1413" y1="645.1" x2="1421" y2="645.1" stroke="#1e1e1e" stroke-width="3"/>
<line x1="1413" y1="411.4" x2="1421" y2="411.4" stroke="#1e1e1e" stroke-width="3"/>
<line x1="1413" y1="177.6" x2="1421" y2="177.6" stroke="#1e1e1e" stroke-width="3"/>
<text x="1450" y="97.4" font-family="'Liberation Sans',Arial,sans-serif" font-size="24" text-anchor="start" fill="#222" font-weight="bold">(B)</text>
<text x="1297.1" y="409.5" font-family="'Liberation Sans',Arial,sans-serif" font-size="32.8" text-anchor="middle" fill="#111" transform="rotate(-90 1297.1 409.5)" dy="0.36em" stroke="#111" stroke-width="0.3">Extinction (a.u.)</text>
<text x="1894.2" y="859.3" font-family="'Liberation Sans',Arial,sans-serif" font-size="33.7" text-anchor="middle" fill="#111">Wavelength (nm)</text>
<line x1="1877" y1="394.6" x2="1941.5" y2="394.6" stroke="#141414" stroke-width="2.8"/>
<text x="1949" y="404.5" font-family="'Liberation Serif','Times New Roman',serif" font-size="28" text-anchor="start" fill="#1a1a1a" stroke="#1a1a1a" stroke-width="0.7">AgNPs</text>
<line x1="1877" y1="432.2" x2="1941.5" y2="432.2" stroke="#f5252b" stroke-width="3.2"/>
<text x="1949" y="442.1" font-family="'Liberation Serif','Times New Roman',serif" font-size="28" text-anchor="start" fill="#1a1a1a" stroke="#1a1a1a" stroke-width="0.7">AgNPs + DTT(reduced) 0 min</text>
<line x1="1877" y1="468.2" x2="1941.5" y2="468.2" stroke="#3fdc46" stroke-width="3.6"/>
<text x="1949" y="478.1" font-family="'Liberation Serif','Times New Roman',serif" font-size="28" text-anchor="start" fill="#1a1a1a" stroke="#1a1a1a" stroke-width="0.7">AgNPs + DTT(reduced) 10 min</text>
<line x1="1877" y1="503.9" x2="1941.5" y2="503.9" stroke="#45e4e8" stroke-width="3.6"/>
<text x="1949" y="513.8" font-family="'Liberation Serif','Times New Roman',serif" font-size="28" text-anchor="start" fill="#1a1a1a" stroke="#1a1a1a" stroke-width="0.7">AgNPs + DTT(reduced) 30 min</text>
<line x1="1877" y1="539.9" x2="1941.5" y2="539.9" stroke="#9a9140" stroke-width="3.2"/>
<text x="1949" y="549.8" font-family="'Liberation Serif','Times New Roman',serif" font-size="28" text-anchor="start" fill="#1a1a1a" stroke="#1a1a1a" stroke-width="0.7">AgNPs + DTT(reduced) 1 hr</text>
<line x1="1877" y1="576.5" x2="1941.5" y2="576.5" stroke="#1f1f7c" stroke-width="3.0"/>
<text x="1949" y="586.4" font-family="'Liberation Serif','Times New Roman',serif" font-size="28" text-anchor="start" fill="#1a1a1a" stroke="#1a1a1a" stroke-width="0.7">AgNPs + DTT(reduced) 3 hr</text>
<line x1="1877" y1="612.6" x2="1941.5" y2="612.6" stroke="#96289a" stroke-width="2.8"/>
<text x="1949" y="622.5" font-family="'Liberation Serif','Times New Roman',serif" font-size="28" text-anchor="start" fill="#1a1a1a" stroke="#1a1a1a" stroke-width="0.7">AgNPs + DTT(reduced) 6 hr</text>
</g>
<g filter="url(#soft)">
<g clip-path="url(#clC)">
<path d="M184.2 1380.9C185.2 1416.1 186.2 1451.6 187.2 1466.4C189 1494 190.9 1509.6 192.8 1518.4C195.2 1530.1 197.7 1537.3 200.2 1541.1C203.3 1545.8 206.4 1549.5 209.5 1550.4C213.2 1551.5 216.9 1551.5 220.6 1552.2C225.6 1553.2 230.5 1554.1 235.5 1555.9C240.5 1557.8 245.4 1562.5 250.4 1567.1C255.3 1571.7 260.3 1580.6 265.2 1585.7C270.2 1590.8 275.2 1598.7 280.1 1598.7C284.4 1598.7 288.8 1598.4 293.1 1598C296.2 1597.6 299.3 1591.6 302.4 1590.9C304.9 1590.3 307.4 1589.8 309.9 1589.8C313.6 1589.8 317.3 1595 321 1596.5C326 1598.5 330.9 1600.5 335.9 1600.9C348.3 1601.9 360.7 1602.4 373 1602.4C385.4 1602.4 397.8 1601.9 410.2 1601.7C422.6 1601.4 435 1601.3 447.4 1600.9C472.2 1600.2 497 1597.6 521.7 1596.5C546.5 1595.4 571.3 1594.8 596.1 1593.9C628.8 1592.6 661.6 1591.4 694.3 1589.3C719.1 1587.7 743.9 1585.2 768.7 1581.9C786 1579.5 803.4 1575.9 820.7 1571.8C833.1 1568.9 845.5 1564.4 857.9 1560.7C870.3 1557 882.7 1553.1 895.1 1549.5C906.2 1546.3 917.4 1542.3 928.6 1540.2C937.2 1538.6 945.9 1537.2 954.6 1536.5C960.8 1536 967 1535.4 973.2 1535.4C979.4 1535.4 985.6 1537.2 991.7 1538.4C999.2 1539.8 1006.6 1541.8 1014.1 1543.9C1021.5 1546.1 1028.9 1548.9 1036.4 1551.4C1043.8 1553.9 1051.2 1556.3 1058.7 1558.8C1066.1 1561.3 1073.5 1564.1 1081 1566.2C1088.4 1568.4 1095.8 1570.5 1103.3 1571.8C1111.9 1573.4 1120.6 1574.8 1129.3 1575.5" fill="none" stroke="#96289a" stroke-width="2.3" stroke-linejoin="round" stroke-linecap="round"/>
<path d="M184.2 1380.1C185.2 1415.3 186.2 1450.9 187.2 1465.6C189 1493.2 190.9 1509.6 192.8 1517.7C195.2 1528.5 197.7 1534.4 200.2 1538.1C203.3 1542.7 206.4 1546.5 209.5 1547.4C213.2 1548.5 216.9 1548.5 220.6 1549.3C225.6 1550.2 230.5 1551.1 235.5 1553C240.5 1554.8 245.4 1559.5 250.4 1564.1C255.3 1568.8 260.3 1576.8 265.2 1582.7C270.2 1588.6 275.2 1599.4 280.1 1599.4C284.4 1599.4 288.8 1599.2 293.1 1598.7C296.2 1598.3 299.3 1590.9 302.4 1590.1C304.9 1589.5 307.4 1589 309.9 1589C313.6 1589 317.3 1594.2 321 1595.7C326 1597.7 330.9 1599.8 335.9 1600.2C348.3 1601.2 360.7 1601.7 373 1601.7C385.4 1601.7 397.8 1601.2 410.2 1600.9C422.6 1600.7 435 1600.5 447.4 1600.2C472.2 1599.5 497 1596.9 521.7 1595.7C546.5 1594.5 571.3 1593 596.1 1592.8C628.8 1592.5 661.6 1592.6 694.3 1592.3C719.1 1592 743.9 1589.5 768.7 1587.8C788.5 1586.4 808.4 1585 828.2 1583C845.5 1581.2 862.9 1578.1 880.2 1575.5C896.3 1573.2 912.4 1570.5 928.6 1568.1C939.7 1566.4 950.9 1564.1 962 1563.3C971.9 1562.5 981.8 1562 991.7 1561.8C999.2 1561.6 1006.6 1561.4 1014.1 1561.4C1021.5 1561.4 1028.9 1562 1036.4 1562.5C1046.3 1563.3 1056.2 1565.4 1066.1 1567C1076 1568.5 1085.9 1570.3 1095.8 1571.8C1107 1573.5 1118.1 1575.1 1129.3 1576.7" fill="none" stroke="#1f1f7c" stroke-width="2.3" stroke-linejoin="round" stroke-linecap="round"/>
<path d="M184.2 1380.9C185.2 1416.1 186.2 1451.6 187.2 1466.4C189 1494 190.9 1509.2 192.8 1518.4C195.2 1530.6 197.7 1538.7 200.2 1542.6C203.3 1547.4 206.4 1551 209.5 1551.9C213.2 1552.9 216.9 1553 220.6 1553.7C225.6 1554.7 230.5 1555.6 235.5 1557.4C240.5 1559.3 245.4 1563.9 250.4 1568.6C255.3 1573.2 260.3 1582.1 265.2 1587.2C270.2 1592.3 275.2 1600.2 280.1 1600.2C284.4 1600.2 288.8 1599.9 293.1 1599.4C296.2 1599.1 299.3 1591.7 302.4 1590.9C304.9 1590.3 307.4 1589.8 309.9 1589.8C313.6 1589.8 317.3 1595 321 1596.5C326 1598.5 330.9 1600.5 335.9 1600.9C348.3 1601.9 360.7 1602.4 373 1602.4C385.4 1602.4 397.8 1602 410.2 1601.7C422.6 1601.3 435 1600.8 447.4 1600.2C472.2 1599 497 1596.5 521.7 1595C546.5 1593.5 571.3 1592.4 596.1 1590.9C622.7 1589.3 649.2 1587.9 675.8 1585.6C694.3 1583.9 712.9 1581.6 731.5 1578.5C743.9 1576.4 756.3 1573.5 768.7 1570C778.6 1567.1 788.5 1563.3 798.4 1558.8C808.4 1554.3 818.3 1548 828.2 1542.1C838.1 1536.2 848 1529.3 857.9 1523.5C865.4 1519.2 872.8 1514.3 880.2 1511.2C886.4 1508.6 892.6 1504.9 898.8 1504.9C905 1504.9 911.2 1504.9 917.4 1504.9C922.4 1504.9 927.3 1507 932.3 1508.6C938.5 1510.6 944.7 1514.1 950.9 1517.2C957.1 1520.3 963.2 1523.7 969.4 1527.2C975.6 1530.7 981.8 1534.7 988 1538.4C995.5 1542.8 1002.9 1547.4 1010.3 1551.4C1016.5 1554.7 1022.7 1557.8 1028.9 1560.7C1036.4 1564.1 1043.8 1567.2 1051.2 1570C1058.7 1572.7 1066.1 1575.6 1073.5 1577.4C1083.4 1579.8 1093.4 1581.4 1103.3 1583C1111.9 1584.4 1120.6 1585.6 1129.3 1586.7" fill="none" stroke="#9a9140" stroke-width="2.1" stroke-linejoin="round" stroke-linecap="round"/>
<path d="M184.2 1380.1C185.2 1415.3 186.2 1450.9 187.2 1465.6C189 1493.2 190.9 1507.9 192.8 1517.7C195.2 1530.7 197.7 1540.1 200.2 1544.1C203.3 1549 206.4 1552.4 209.5 1553.3C213.2 1554.4 216.9 1554.5 220.6 1555.2C225.6 1556.2 230.5 1557.1 235.5 1558.9C240.5 1560.8 245.4 1565.4 250.4 1570.1C255.3 1574.7 260.3 1583.6 265.2 1588.7C270.2 1593.8 275.2 1601.7 280.1 1601.7C284.4 1601.7 288.8 1601.4 293.1 1600.9C296.2 1600.6 299.3 1590.9 302.4 1590.1C304.9 1589.5 307.4 1589 309.9 1589C313.6 1589 317.3 1594.2 321 1595.7C326 1597.7 330.9 1599.8 335.9 1600.2C348.3 1601.2 360.7 1601.7 373 1601.7C385.4 1601.7 397.8 1601.3 410.2 1600.9C422.6 1600.6 435 1600.1 447.4 1599.4C472.2 1598.2 497 1595.6 521.7 1593.9C546.5 1592.1 571.3 1590.8 596.1 1589C622.7 1587.2 649.2 1585.8 675.8 1583C688.2 1581.7 700.5 1579.7 712.9 1577.4C722.9 1575.5 732.8 1573.3 742.7 1570C751.4 1567 760 1562.2 768.7 1557C776.1 1552.5 783.6 1546.1 791 1540.2C798.4 1534.4 805.9 1527.8 813.3 1521.6C820.7 1515.4 828.2 1508.2 835.6 1503C841.8 1498.7 848 1494.5 854.2 1491.9C857.9 1490.3 861.6 1488.2 865.4 1488.2C870.3 1488.2 875.3 1488.2 880.2 1488.2C883.9 1488.2 887.7 1489.2 891.4 1490C896.3 1491.2 901.3 1493.1 906.2 1495.6C911.2 1498.1 916.2 1502.5 921.1 1506.8C927.3 1512 933.5 1519.2 939.7 1525.4C945.9 1531.5 952.1 1538.8 958.3 1543.9C964.5 1549 970.7 1553.3 976.9 1557C983.1 1560.6 989.3 1563.7 995.5 1566.2C1006.6 1570.8 1017.8 1574.6 1028.9 1577.4C1041.3 1580.5 1053.7 1583.1 1066.1 1584.8C1087.2 1587.8 1108.2 1590.5 1129.3 1591.5" fill="none" stroke="#45e4e8" stroke-width="3.0" stroke-linejoin="round" stroke-linecap="round"/>
<path d="M184.2 1380.1C185.2 1412.4 186.2 1445.3 187.2 1458.2C189 1482.3 190.9 1494.5 192.8 1502.8C195.2 1513.8 197.7 1520.8 200.2 1525.1C203.3 1530.5 206.4 1534.6 209.5 1536.2C213.2 1538.2 216.9 1538.7 220.6 1540C225.6 1541.7 230.5 1543.2 235.5 1545.5C240.5 1547.9 245.4 1551.5 250.4 1554.8C255.3 1558.2 260.3 1563 265.2 1566C270.2 1569 275.2 1572.9 280.1 1573.4C283.8 1573.8 287.5 1574.2 291.3 1574.2C293.7 1574.2 296.2 1571.1 298.7 1569.7C301.2 1568.4 303.7 1566 306.1 1566C309.9 1566 313.6 1569 317.3 1570.4C322.2 1572.4 327.2 1575.2 332.2 1576.4C337.1 1577.6 342.1 1579 347 1579C352 1579 356.9 1577.1 361.9 1577.1C365.6 1577.1 369.3 1579 373 1579C385.4 1579 397.8 1578.2 410.2 1577.9C422.6 1577.6 435 1577.5 447.4 1577.1C457.3 1576.8 467.2 1576.3 477.1 1575.3C484.6 1574.5 492 1569.7 499.4 1569.7C504.4 1569.7 509.4 1570.4 514.3 1570.4C524.2 1570.4 534.1 1569.9 544.1 1569.7C556.4 1569.4 568.8 1569.4 581.2 1569C593.6 1568.6 606 1567.2 618.4 1566C631.3 1564.7 644.3 1562.8 657.2 1560.7C667.1 1559 677 1557 686.9 1554.3C696.8 1551.7 706.7 1548.6 716.7 1543.9C725.3 1539.8 734 1532.6 742.7 1525.4C751.4 1518.1 760 1508.8 768.7 1499.3C774.9 1492.5 781.1 1483.8 787.3 1477C793.5 1470.3 799.7 1462.2 805.9 1458.4C810.8 1455.4 815.8 1453 820.7 1451.7C825.7 1450.5 830.7 1449.1 835.6 1449.1C840.6 1449.1 845.5 1450.4 850.5 1451.7C855.4 1453.1 860.4 1457.9 865.4 1462.2C870.3 1466.4 875.3 1473.3 880.2 1478.9C885.2 1484.5 890.1 1490.4 895.1 1495.6C901.3 1502.2 907.5 1508.3 913.7 1514.2C921.1 1521.3 928.6 1528.8 936 1534.6C942.2 1539.5 948.4 1544 954.6 1547.7C960.8 1551.3 967 1554.2 973.2 1557C979.4 1559.7 985.6 1562.2 991.7 1564.4C1004.1 1568.7 1016.5 1572.6 1028.9 1575.5C1041.3 1578.5 1053.7 1581.4 1066.1 1583C1087.2 1585.6 1108.2 1588.2 1129.3 1588.6" fill="none" stroke="#3fdc46" stroke-width="2.6" stroke-linejoin="round" stroke-linecap="round"/>
<path d="M184.2 1380.1C185.2 1415.3 186.2 1450.9 187.2 1465.6C189 1493.2 190.9 1508.5 192.8 1517.7C195.2 1529.9 197.7 1538 200.2 1541.8C203.3 1546.7 206.4 1550.2 209.5 1551.1C213.2 1552.2 216.9 1552.2 220.6 1553C225.6 1554 230.5 1554.8 235.5 1556.7C240.5 1558.6 245.4 1563.2 250.4 1567.8C255.3 1572.5 260.3 1581.3 265.2 1586.4C270.2 1591.5 275.2 1599.4 280.1 1599.4C284.4 1599.4 288.8 1599.2 293.1 1598.7C296.2 1598.3 299.3 1590.9 302.4 1590.1C304.9 1589.5 307.4 1589 309.9 1589C313.6 1589 317.3 1594.2 321 1595.7C326 1597.7 330.9 1599.9 335.9 1600.2C348.3 1601 360.7 1601.3 373 1601.3C385.4 1601.3 397.8 1600.2 410.2 1599.4C422.6 1598.7 435 1597.7 447.4 1596.5C459.8 1595.3 472.2 1593.9 484.6 1592C497 1590.1 509.4 1585.9 521.7 1584.6C534.1 1583.3 546.5 1582.7 558.9 1582C571.3 1581.2 583.7 1580.9 596.1 1580.1C603.5 1579.6 611 1579 618.4 1578.3C631.3 1577 644.3 1575.9 657.2 1573.7C667.1 1571.9 677 1568.2 686.9 1564.4C695.6 1561 704.3 1556.8 712.9 1551.4C720.4 1546.7 727.8 1540.4 735.2 1532.8C742.7 1525.2 750.1 1515 757.5 1503C763.7 1493.1 769.9 1479.7 776.1 1465.9C781.1 1454.8 786 1439.7 791 1428.7C796 1417.7 800.9 1406.1 805.9 1399C810.2 1392.7 814.5 1387 818.9 1384.1C822 1382 825.1 1379.6 828.2 1379.6C830.7 1379.6 833.1 1379.6 835.6 1379.6C838.1 1379.6 840.6 1383.2 843 1385.9C846.8 1390 850.5 1398.4 854.2 1404.5C859.2 1412.7 864.1 1420.3 869.1 1428.7C874 1437.1 879 1445.7 883.9 1454.7C888.9 1463.7 893.9 1473.7 898.8 1482.6C905 1493.7 911.2 1505.5 917.4 1514.2C923.6 1522.9 929.8 1530.1 936 1536.5C942.2 1542.9 948.4 1548.8 954.6 1553.2C960.8 1557.7 967 1561 973.2 1564.4C979.4 1567.8 985.6 1571.3 991.7 1573.7C999.2 1576.5 1006.6 1578.6 1014.1 1580.4C1025.2 1583 1036.4 1585 1047.5 1586.7C1059.9 1588.6 1072.3 1590.5 1084.7 1591.5C1099.6 1592.7 1114.4 1593.8 1129.3 1594.1" fill="none" stroke="#c8343a" stroke-width="2.3" stroke-linejoin="round" stroke-linecap="round"/>
<path d="M184.2 1566C195.1 1566.2 206 1568.3 216.9 1570.4C224.3 1571.9 231.8 1574.7 239.2 1577.9C244.2 1580 249.1 1583.4 254.1 1586.4C257.8 1588.7 261.5 1592.2 265.2 1593.9C269.6 1595.8 273.9 1598.3 278.3 1598.3C282 1598.3 285.7 1597.3 289.4 1595.7C291.9 1594.7 294.4 1589.5 296.8 1586.4C299.3 1583.3 301.8 1577.1 304.3 1577.1C306.8 1577.1 309.2 1580.6 311.7 1582.7C314.2 1584.8 316.7 1588.7 319.1 1590.1C322.2 1591.9 325.3 1593.9 328.4 1593.9C337.1 1593.9 345.8 1593.2 354.5 1592.8C366.9 1592.1 379.2 1590.8 391.6 1590.1C400.3 1589.7 409 1589.6 417.7 1589C427.6 1588.4 437.5 1585.4 447.4 1583.5C454.8 1582 462.3 1581 469.7 1579C474.7 1577.7 479.6 1574.9 484.6 1573.4C489.5 1571.9 494.5 1569.7 499.4 1569.7C504.4 1569.7 509.4 1570 514.3 1570.4C519.3 1570.8 524.2 1573.2 529.2 1573.4C539.1 1573.9 549 1574.2 558.9 1574.2C566.4 1574.2 573.8 1574.2 581.2 1574.2C586.2 1574.2 591.1 1576.8 596.1 1577.1C603.5 1577.6 611 1577.9 618.4 1577.9C626.4 1577.9 634.3 1573.3 642.3 1570C649.7 1566.8 657.2 1562.2 664.6 1557C670.8 1552.5 677 1546.7 683.2 1540.2C688.2 1535 693.1 1528.8 698.1 1521.6C702.4 1515.3 706.7 1508.7 711.1 1499.3C714.2 1492.7 717.3 1483.4 720.4 1473.3C730.9 1439 741.4 1396.2 752 1338.6C755.1 1321.6 758.2 1296.7 761.3 1275.4C763.7 1258.2 766.2 1240.7 768.7 1223.3C771.2 1206 773.7 1188.6 776.1 1171.3C778.6 1153.9 781.1 1134.1 783.6 1119.2C785.4 1108 787.3 1096.1 789.1 1089.5C791 1082.9 792.9 1075.9 794.7 1074.6C796.2 1073.6 797.7 1072.8 799.2 1072.8C800.8 1072.8 802.4 1074.3 804 1076.5C805.3 1078.1 806.5 1091.1 807.7 1093.2C809.6 1096.4 811.4 1095.8 813.3 1098.8C815.2 1101.8 817 1113.2 818.9 1122.9C820.7 1132.7 822.6 1147.9 824.5 1160.1C826.9 1176.4 829.4 1193.5 831.9 1208.4C835 1227.1 838.1 1240.2 841.2 1260.5C842.6 1269.4 843.9 1282.5 845.3 1291.2C846.4 1298.2 847.5 1303.8 848.6 1309.7C851.1 1322.9 853.6 1334.8 856.1 1346.9C859.2 1362.1 862.3 1378 865.4 1391.5C869.1 1407.8 872.8 1422.6 876.5 1436.1C880.2 1449.7 883.9 1462.3 887.7 1473.3C891.4 1484.3 895.1 1495.1 898.8 1503C903.8 1513.6 908.7 1522.3 913.7 1529.1C918.6 1535.9 923.6 1541.1 928.6 1545.8C934.7 1551.6 940.9 1556.5 947.1 1560.7C954.6 1565.7 962 1570.5 969.4 1573.7C976.9 1576.8 984.3 1579.1 991.7 1581.1C1004.1 1584.5 1016.5 1587.3 1028.9 1589.3C1041.3 1591.3 1053.7 1593.1 1066.1 1594.1C1087.2 1595.9 1108.2 1597.5 1129.3 1597.8" fill="none" stroke="#141414" stroke-width="2.1" stroke-linejoin="round" stroke-linecap="round"/>
</g>
<line x1="182.6" y1="907.2" x2="182.6" y2="1623.4" stroke="#6a6a6a" stroke-width="3.8"/>
<line x1="182.6" y1="1615.5" x2="1130.1" y2="1615.5" stroke="#111" stroke-width="2.8"/>
<line x1="255.9" y1="1615.5" x2="255.9" y2="1628.9" stroke="#111" stroke-width="2.8"/>
<text x="255.9" y="1657.2" font-family="'Liberation Sans',Arial,sans-serif" font-size="25.7" text-anchor="middle" fill="#333">300</text>
<line x1="401.4" y1="1615.5" x2="401.4" y2="1628.9" stroke="#111" stroke-width="2.8"/>
<text x="401.4" y="1657.2" font-family="'Liberation Sans',Arial,sans-serif" font-size="25.7" text-anchor="middle" fill="#333">400</text>
<line x1="546.8" y1="1615.5" x2="546.8" y2="1628.9" stroke="#111" stroke-width="2.8"/>
<text x="546.8" y="1657.2" font-family="'Liberation Sans',Arial,sans-serif" font-size="25.7" text-anchor="middle" fill="#333">500</text>
<line x1="692.3" y1="1615.5" x2="692.3" y2="1628.9" stroke="#111" stroke-width="2.8"/>
<text x="692.3" y="1657.2" font-family="'Liberation Sans',Arial,sans-serif" font-size="25.7" text-anchor="middle" fill="#333">600</text>
<line x1="837.7" y1="1615.5" x2="837.7" y2="1628.9" stroke="#111" stroke-width="2.8"/>
<text x="837.7" y="1657.2" font-family="'Liberation Sans',Arial,sans-serif" font-size="25.7" text-anchor="middle" fill="#333">700</text>
<line x1="983.2" y1="1615.5" x2="983.2" y2="1628.9" stroke="#111" stroke-width="2.8"/>
<text x="983.2" y="1657.2" font-family="'Liberation Sans',Arial,sans-serif" font-size="25.7" text-anchor="middle" fill="#333">800</text>
<line x1="1128.6" y1="1615.5" x2="1128.6" y2="1628.9" stroke="#111" stroke-width="2.8"/>
<text x="1128.6" y="1657.2" font-family="'Liberation Sans',Arial,sans-serif" font-size="25.7" text-anchor="middle" fill="#333">900</text>
<line x1="328.6" y1="1615.5" x2="328.6" y2="1621.9" stroke="#111" stroke-width="2.8"/>
<line x1="474.1" y1="1615.5" x2="474.1" y2="1621.9" stroke="#111" stroke-width="2.8"/>
<line x1="619.5" y1="1615.5" x2="619.5" y2="1621.9" stroke="#111" stroke-width="2.8"/>
<line x1="765" y1="1615.5" x2="765" y2="1621.9" stroke="#111" stroke-width="2.8"/>
<line x1="910.5" y1="1615.5" x2="910.5" y2="1621.9" stroke="#111" stroke-width="2.8"/>
<line x1="1055.9" y1="1615.5" x2="1055.9" y2="1621.9" stroke="#111" stroke-width="2.8"/>
<line x1="169.2" y1="1615.5" x2="182.6" y2="1615.5" stroke="#111" stroke-width="2.8"/>
<text x="159.2" y="1621.3" font-family="'Liberation Sans',Arial,sans-serif" font-size="25.7" text-anchor="end" fill="#333">0.0</text>
<line x1="169.2" y1="1438.8" x2="182.6" y2="1438.8" stroke="#111" stroke-width="2.8"/>
<text x="159.2" y="1444.6" font-family="'Liberation Sans',Arial,sans-serif" font-size="25.7" text-anchor="end" fill="#333">0.5</text>
<line x1="169.2" y1="1262" x2="182.6" y2="1262" stroke="#111" stroke-width="2.8"/>
<text x="159.2" y="1267.9" font-family="'Liberation Sans',Arial,sans-serif" font-size="25.7" text-anchor="end" fill="#333">1.0</text>
<line x1="169.2" y1="1085.3" x2="182.6" y2="1085.3" stroke="#111" stroke-width="2.8"/>
<text x="159.2" y="1091.1" font-family="'Liberation Sans',Arial,sans-serif" font-size="25.7" text-anchor="end" fill="#333">1.5</text>
<line x1="169.2" y1="908.6" x2="182.6" y2="908.6" stroke="#111" stroke-width="2.8"/>
<text x="159.2" y="914.4" font-family="'Liberation Sans',Arial,sans-serif" font-size="25.7" text-anchor="end" fill="#333">2.0</text>
<line x1="176.2" y1="1527.1" x2="182.6" y2="1527.1" stroke="#6a6a6a" stroke-width="2.8"/>
<line x1="176.2" y1="1350.4" x2="182.6" y2="1350.4" stroke="#6a6a6a" stroke-width="2.8"/>
<line x1="176.2" y1="1173.7" x2="182.6" y2="1173.7" stroke="#6a6a6a" stroke-width="2.8"/>
<line x1="176.2" y1="997" x2="182.6" y2="997" stroke="#6a6a6a" stroke-width="2.8"/>
<text x="217.5" y="948" font-family="'Liberation Serif','Times New Roman',serif" font-size="25.5" text-anchor="start" fill="#222">(C)</text>
<text x="58.7" y="1259.9" font-family="'Liberation Sans',Arial,sans-serif" font-size="32.8" text-anchor="middle" fill="#222" transform="rotate(-90 58.7 1259.9)" dy="0.36em">Extinction (a.u.)</text>
<text x="655.9" y="1712.5" font-family="'Liberation Sans',Arial,sans-serif" font-size="33.7" text-anchor="middle" fill="#111">Wavelength (nm)</text>
<line x1="231.7" y1="1142" x2="297" y2="1142" stroke="#141414" stroke-width="2.6"/>
<text x="304.6" y="1152" font-family="'Liberation Serif','Times New Roman',serif" font-size="28.3" text-anchor="start" fill="#1a1a1a" stroke="#1a1a1a" stroke-width="0.7">AgNPs</text>
<line x1="231.7" y1="1178" x2="297" y2="1178" stroke="#c8343a" stroke-width="2.6"/>
<text x="304.6" y="1188" font-family="'Liberation Serif','Times New Roman',serif" font-size="28.3" text-anchor="start" fill="#1a1a1a" stroke="#1a1a1a" stroke-width="0.7">AgNPs + DTT(reduced) 0 min</text>
<line x1="231.7" y1="1214" x2="297" y2="1214" stroke="#3fdc46" stroke-width="3.4"/>
<text x="304.6" y="1224" font-family="'Liberation Serif','Times New Roman',serif" font-size="28.3" text-anchor="start" fill="#1a1a1a" stroke="#1a1a1a" stroke-width="0.7">AgNPs + DTT(reduced) 10 min</text>
<line x1="231.7" y1="1250" x2="297" y2="1250" stroke="#45e4e8" stroke-width="3.6"/>
<text x="304.6" y="1260" font-family="'Liberation Serif','Times New Roman',serif" font-size="28.3" text-anchor="start" fill="#1a1a1a" stroke="#1a1a1a" stroke-width="0.7">AgNPs + DTT(reduced) 30 min</text>
<line x1="231.7" y1="1286" x2="297" y2="1286" stroke="#9a9140" stroke-width="2.4"/>
<text x="304.6" y="1296" font-family="'Liberation Serif','Times New Roman',serif" font-size="28.3" text-anchor="start" fill="#1a1a1a" stroke="#1a1a1a" stroke-width="0.7">AgNPs + DTT(reduced) 1 hr</text>
<line x1="231.7" y1="1322" x2="297" y2="1322" stroke="#1f1f7c" stroke-width="2.8"/>
<text x="304.6" y="1332" font-family="'Liberation Serif','Times New Roman',serif" font-size="28.3" text-anchor="start" fill="#1a1a1a" stroke="#1a1a1a" stroke-width="0.7">AgNPs + DTT(reduced) 3 hr</text>
<line x1="231.7" y1="1358" x2="297" y2="1358" stroke="#96289a" stroke-width="2.8"/>
<text x="304.6" y="1368" font-family="'Liberation Serif','Times New Roman',serif" font-size="28.3" text-anchor="start" fill="#1a1a1a" stroke="#1a1a1a" stroke-width="0.7">AgNPs + DTT(reduced) 6 hr</text>
</g>
<g filter="url(#soft)">
<g clip-path="url(#clD)">
<path d="M1427.9 1387.8C1429.5 1412.3 1431.1 1435.5 1432.8 1447.3C1435.2 1465.5 1437.7 1477.8 1440.2 1484.5C1443.3 1492.8 1446.4 1499 1449.5 1501.2C1453.2 1503.8 1456.9 1504.8 1460.6 1506C1463.7 1507.1 1466.8 1507.3 1469.9 1508.6C1473.6 1510.2 1477.4 1514 1481.1 1517.9C1485.4 1522.5 1489.8 1529.7 1494.1 1536.5C1499 1544.3 1504 1554.5 1509 1562.5C1513.9 1570.5 1518.9 1580.1 1523.8 1584.8C1528.2 1589 1532.5 1594.1 1536.8 1594.1C1540.6 1594.1 1544.3 1591.9 1548 1590.4C1551.1 1589.1 1554.2 1585.6 1557.3 1585.6C1559.8 1585.6 1562.2 1588.7 1564.7 1590.4C1568.4 1593 1572.2 1597.9 1575.9 1599C1580.8 1600.4 1585.8 1601.6 1590.7 1601.6C1598.2 1601.6 1605.6 1601 1613 1600.4C1625.4 1599.6 1637.8 1597.2 1650.2 1596C1662.6 1594.8 1675 1593.9 1687.4 1593C1699.8 1592.1 1712.2 1591.1 1724.6 1590.4C1737 1589.7 1749.4 1589.2 1761.7 1588.6C1774.1 1587.9 1786.5 1587.3 1798.9 1586.7C1811.3 1586.1 1823.7 1585.2 1836.1 1584.8C1848.5 1584.5 1860.9 1584.4 1873.3 1584.1C1885.7 1583.8 1898.1 1583.4 1910.4 1583C1922.8 1582.5 1935.2 1581.9 1947.6 1581.1C1957.7 1580.5 1967.8 1579.7 1978 1578.5C1990.3 1576.9 2002.6 1573.6 2014.9 1570C2027.3 1566.4 2039.6 1560.4 2051.9 1555.2C2064.3 1549.9 2076.6 1544 2088.9 1538.5C2098.8 1534.1 2108.7 1528.9 2118.5 1525.6C2125.9 1523.1 2133.3 1520.6 2140.7 1519.3C2148.1 1517.9 2155.5 1516.8 2162.9 1516.3C2169.1 1515.9 2175.2 1515.6 2181.4 1515.6C2187.6 1515.6 2193.7 1517.7 2199.9 1519.3C2206.1 1520.9 2212.2 1523.4 2218.4 1525.9C2224.6 1528.5 2230.7 1531.5 2236.9 1534.8C2243 1538.1 2249.2 1541.7 2255.4 1545.9C2261.5 1550.1 2267.7 1556.1 2273.9 1560.7C2280 1565.3 2286.2 1569.7 2292.4 1573.7C2298.5 1577.6 2304.7 1581.4 2310.9 1584.8C2317 1588.1 2323.2 1591.4 2329.4 1594C2335.5 1596.6 2341.7 1599.3 2347.8 1600.7C2361.7 1603.8 2375.5 1606.8 2389.3 1606.9" fill="none" stroke="#96289a" stroke-width="2.6" stroke-linejoin="round" stroke-linecap="round"/>
<path d="M1427.9 1387.8C1429.5 1409.1 1431.1 1429.3 1432.8 1439.9C1435.2 1456.1 1437.7 1466.8 1440.2 1473.3C1443.3 1481.4 1446.4 1487.8 1449.5 1490C1453.2 1492.7 1456.9 1494.4 1460.6 1494.9C1463.7 1495.3 1466.8 1495.2 1469.9 1495.6C1473.6 1496.1 1477.4 1499.9 1481.1 1503C1485.4 1506.7 1489.8 1512.3 1494.1 1517.9C1499 1524.3 1504 1533.5 1509 1540.2C1513.9 1547 1518.9 1554.3 1523.8 1558.8C1528.2 1562.7 1532.5 1568.1 1536.8 1568.1C1540.6 1568.1 1544.3 1567.1 1548 1566.2C1551.1 1565.5 1554.2 1562.5 1557.3 1562.5C1559.8 1562.5 1562.2 1563.5 1564.7 1564.4C1568.4 1565.7 1572.2 1570.8 1575.9 1571.8C1580.8 1573.2 1585.8 1574.4 1590.7 1574.4C1595.7 1574.4 1600.7 1574.1 1605.6 1573.7C1613 1573.1 1620.5 1569.1 1627.9 1568.1C1637.8 1566.8 1647.7 1566.3 1657.7 1565.5C1667.6 1564.7 1677.5 1564.1 1687.4 1563.3C1697.3 1562.5 1707.2 1561.6 1717.1 1560.7C1729.5 1559.5 1741.9 1557.7 1754.3 1557C1769.2 1556.1 1784.1 1555.1 1798.9 1555.1C1811.3 1555.1 1823.7 1555.1 1836.1 1555.1C1848.5 1555.1 1860.9 1554.3 1873.3 1554.3C1885.7 1554.3 1898.1 1555.1 1910.4 1555.1C1922.8 1555.1 1935.2 1555.1 1947.6 1555.1C1951.6 1555.1 1955.5 1556.3 1959.5 1556.3C1968.1 1556.3 1976.7 1554.7 1985.4 1553.3C1992.8 1552.1 2000.1 1549.6 2007.5 1547.8C2017.4 1545.3 2027.3 1543.5 2037.1 1540.4C2047 1537.2 2056.9 1532.3 2066.7 1527.4C2076.6 1522.6 2086.5 1516 2096.3 1510.8C2106.2 1505.6 2116 1500.9 2125.9 1496C2133.3 1492.3 2140.7 1487 2148.1 1484.9C2154.3 1483.1 2160.4 1481.2 2166.6 1481.2C2172.8 1481.2 2178.9 1481.2 2185.1 1481.2C2191.3 1481.2 2197.4 1484.4 2203.6 1486.7C2209.8 1489 2215.9 1492.6 2222.1 1496C2228.2 1499.3 2234.4 1503.4 2240.6 1507.1C2246.7 1510.8 2252.9 1514.8 2259.1 1518.2C2265.2 1521.5 2271.4 1523.8 2277.6 1527.4C2283.7 1531 2289.9 1536.4 2296.1 1540.4C2302.2 1544.3 2308.4 1548.1 2314.6 1551.5C2320.7 1554.8 2326.9 1557.9 2333.1 1560.7C2340.4 1564.1 2347.8 1567.4 2355.2 1570C2361.4 1572.1 2367.6 1574.1 2373.7 1575.5C2378.9 1576.7 2384.1 1577.7 2389.3 1578.5" fill="none" stroke="#1f1f7c" stroke-width="2.6" stroke-linejoin="round" stroke-linecap="round"/>
<path d="M1427.9 1391.5C1429.5 1419.1 1431.1 1445.4 1432.8 1458.4C1435.2 1478.6 1437.7 1491.9 1440.2 1499.3C1443.3 1508.6 1446.4 1515.4 1449.5 1517.9C1453.2 1520.9 1456.9 1522.4 1460.6 1523.5C1463.7 1524.4 1466.8 1524.4 1469.9 1525.4C1473.6 1526.5 1477.4 1530.8 1481.1 1534.6C1485.4 1539.2 1489.8 1546.6 1494.1 1553.2C1499 1560.8 1504 1570.8 1509 1577.4C1513.9 1584 1518.9 1591.9 1523.8 1594.1C1528.2 1596.1 1532.5 1597.8 1536.8 1597.8C1540.6 1597.8 1544.3 1592.8 1548 1590.4C1551.1 1588.5 1554.2 1584.8 1557.3 1584.8C1559.8 1584.8 1562.2 1587.3 1564.7 1588.6C1568.4 1590.4 1572.2 1594.1 1575.9 1594.1C1580.8 1594.1 1585.8 1593.1 1590.7 1592.3C1598.2 1591 1605.6 1587.3 1613 1584.8C1620.5 1582.4 1627.9 1579.3 1635.4 1577.4C1642.8 1575.5 1650.2 1574.1 1657.7 1572.9C1667.6 1571.4 1677.5 1570 1687.4 1569.2C1699.8 1568.2 1712.2 1567.4 1724.6 1567C1737 1566.6 1749.4 1566.2 1761.7 1566.2C1774.1 1566.2 1786.5 1566.2 1798.9 1566.2C1811.3 1566.2 1823.7 1570.3 1836.1 1571.8C1848.5 1573.3 1860.9 1575.5 1873.3 1575.5C1885.7 1575.5 1898.1 1575.5 1910.4 1575.5C1920.4 1575.5 1930.3 1573.7 1940.2 1573.7C1946.6 1573.7 1953 1573.7 1959.5 1573.7C1970.6 1573.6 1981.7 1569.5 1992.8 1566.3C2002.6 1563.3 2012.5 1558.4 2022.3 1553.3C2032.2 1548.2 2042.1 1541.5 2051.9 1534.8C2061.8 1528.1 2071.7 1519.8 2081.5 1512.6C2090.2 1506.3 2098.8 1499.6 2107.4 1494.1C2116 1488.6 2124.7 1482.3 2133.3 1479.3C2140.7 1476.8 2148.1 1474.7 2155.5 1473.8C2162.9 1472.9 2170.3 1471.9 2177.7 1471.9C2182.6 1471.9 2187.6 1472.8 2192.5 1473.8C2198.7 1475 2204.8 1479.2 2211 1483C2217.2 1486.8 2223.3 1492.6 2229.5 1497.8C2235.6 1503 2241.8 1508.9 2248 1514.5C2254.1 1520 2260.3 1525.9 2266.5 1531.1C2272.6 1536.3 2278.8 1541 2285 1545.9C2291.1 1550.8 2297.3 1556.5 2303.5 1560.7C2310.9 1565.7 2318.3 1570.1 2325.7 1573.7C2333.1 1577.3 2340.4 1580.3 2347.8 1582.9C2354 1585 2360.2 1587.1 2366.3 1588.5C2374 1590.1 2381.6 1591.5 2389.3 1592.1" fill="none" stroke="#9a9140" stroke-width="3.0" stroke-linejoin="round" stroke-linecap="round"/>
<path d="M1427.9 1391.5C1429.5 1422.1 1431.1 1451.1 1432.8 1465.9C1435.2 1488.6 1437.7 1503.6 1440.2 1512.3C1443.3 1523.3 1446.4 1532 1449.5 1534.6C1453.2 1537.8 1456.9 1539.7 1460.6 1540.2C1463.7 1540.6 1466.8 1540.5 1469.9 1541C1473.6 1541.5 1477.4 1545.8 1481.1 1549.5C1485.4 1553.8 1489.8 1561.8 1494.1 1568.1C1499 1575.4 1504 1585.5 1509 1590.4C1513.9 1595.4 1518.9 1600.8 1523.8 1601.6C1528.2 1602.2 1532.5 1602.7 1536.8 1602.7C1540.6 1602.7 1544.3 1598 1548 1596C1551.1 1594.3 1554.2 1591.5 1557.3 1591.5C1559.8 1591.5 1562.2 1594.5 1564.7 1596C1568.4 1598.2 1572.2 1602.7 1575.9 1602.7C1580.8 1602.7 1585.8 1600.9 1590.7 1599.7C1598.2 1597.9 1605.6 1594.4 1613 1592.3C1623 1589.4 1632.9 1587 1642.8 1584.8C1652.7 1582.7 1662.6 1580.4 1672.5 1579.3C1683.7 1578 1694.8 1577.4 1706 1576.7C1718.4 1575.8 1730.8 1574.8 1743.2 1574.4C1755.6 1574.1 1767.9 1573.7 1780.3 1573.7C1792.7 1573.7 1805.1 1574.8 1817.5 1575.5C1829.9 1576.3 1842.3 1577.3 1854.7 1578.1C1867.1 1578.9 1879.5 1580.4 1891.9 1580.4C1904.3 1580.4 1916.6 1580.4 1929 1580.4C1939.2 1580.4 1949.3 1577.4 1959.5 1575.5C1970.6 1573.4 1981.7 1571.5 1992.8 1568.1C2002.6 1565 2012.5 1559 2022.3 1553.3C2032.2 1547.6 2042.1 1540.3 2051.9 1533C2061.8 1525.6 2071.7 1516.4 2081.5 1508.9C2090.2 1502.4 2098.8 1495.5 2107.4 1490.4C2116 1485.4 2124.7 1479.6 2133.3 1477.5C2140.7 1475.7 2148.1 1473.8 2155.5 1473.8C2161.7 1473.8 2167.8 1474.6 2174 1475.6C2180.2 1476.7 2186.3 1481.3 2192.5 1484.9C2198.7 1488.5 2204.8 1493 2211 1497.8C2217.2 1502.7 2223.3 1508.6 2229.5 1514.5C2235.6 1520.3 2241.8 1527.1 2248 1533C2254.1 1538.8 2260.3 1544.4 2266.5 1549.6C2272.6 1554.8 2278.8 1559.8 2285 1564.4C2291.1 1569 2297.3 1573.7 2303.5 1577.4C2310.9 1581.7 2318.3 1585.5 2325.7 1588.5C2333.1 1591.4 2340.4 1594.4 2347.8 1595.8C2361.7 1598.6 2375.5 1601.3 2389.3 1601.4" fill="none" stroke="#45e4e8" stroke-width="3.2" stroke-linejoin="round" stroke-linecap="round"/>
<path d="M1427.9 1391.5C1429.5 1421.2 1431.1 1449.4 1432.8 1464C1435.2 1486.5 1437.7 1501.7 1440.2 1510.5C1443.3 1521.4 1446.4 1530.2 1449.5 1532.8C1453.2 1535.9 1456.9 1537.7 1460.6 1538.4C1463.7 1539 1466.8 1538.9 1469.9 1539.5C1473.6 1540.2 1477.4 1544.1 1481.1 1547.7C1485.4 1551.8 1489.8 1559.9 1494.1 1566.2C1499 1573.5 1504 1583.4 1509 1588.6C1513.9 1593.7 1518.9 1599.7 1523.8 1600.4C1528.2 1601.1 1532.5 1601.6 1536.8 1601.6C1540.6 1601.6 1544.3 1596.3 1548 1594.1C1551.1 1592.3 1554.2 1589.3 1557.3 1589.3C1559.8 1589.3 1562.2 1592 1564.7 1593C1568.4 1594.5 1572.2 1596.7 1575.9 1596.7C1580.8 1596.7 1585.8 1595.2 1590.7 1594.1C1598.2 1592.5 1605.6 1588.8 1613 1586.7C1623 1583.8 1632.9 1581.4 1642.8 1579.3C1652.7 1577.1 1662.6 1575.1 1672.5 1573.7C1683.7 1572.1 1694.8 1570.7 1706 1570C1718.4 1569.1 1730.8 1568.1 1743.2 1568.1C1755.6 1568.1 1767.9 1568.1 1780.3 1568.1C1792.7 1568.1 1805.1 1569.1 1817.5 1570C1829.9 1570.8 1842.3 1573.2 1854.7 1574.4C1867.1 1575.6 1879.5 1577.4 1891.9 1577.4C1904.3 1577.4 1916.6 1577.4 1929 1577.4C1933 1577.4 1937 1574.8 1941 1573.7C1950.8 1570.9 1960.7 1569.8 1970.6 1566.3C1978 1563.6 1985.4 1558.4 1992.8 1553.3C2000.1 1548.2 2007.5 1541.3 2014.9 1534.8C2022.3 1528.4 2029.7 1520.9 2037.1 1514.5C2044.5 1508 2051.9 1501.5 2059.3 1496C2066.7 1490.5 2074.1 1485.4 2081.5 1481.2C2087.7 1477.7 2093.9 1473.7 2100 1471.9C2106.2 1470.2 2112.4 1468.2 2118.5 1468.2C2124.7 1468.2 2130.8 1468.2 2137 1468.2C2143.2 1468.2 2149.3 1469.5 2155.5 1470.8C2161.7 1472.1 2167.8 1475.7 2174 1479.3C2180.2 1482.9 2186.3 1488.9 2192.5 1494.1C2198.7 1499.3 2204.8 1505.2 2211 1510.8C2217.2 1516.3 2223.3 1521.9 2229.5 1527.4C2235.6 1533 2241.8 1538.8 2248 1544.1C2254.1 1549.3 2260.3 1554.3 2266.5 1558.9C2272.6 1563.5 2278.8 1567.8 2285 1571.8C2291.1 1575.8 2297.3 1579.5 2303.5 1582.9C2310.9 1586.9 2318.3 1591 2325.7 1594C2333.1 1597 2340.4 1599.7 2347.8 1601.4C2361.7 1604.5 2375.5 1607.4 2389.3 1608.1" fill="none" stroke="#3fdc46" stroke-width="3.2" stroke-linejoin="round" stroke-linecap="round"/>
<path d="M1427.9 1391.5C1429.5 1420.4 1431.1 1447.6 1432.8 1462.2C1435.2 1484.5 1437.7 1500.4 1440.2 1508.6C1443.3 1518.9 1446.4 1525.8 1449.5 1529.1C1453.2 1532.9 1456.9 1536 1460.6 1536.5C1463.7 1536.9 1466.8 1536.8 1469.9 1537.2C1473.6 1537.8 1477.4 1542.1 1481.1 1545.8C1485.4 1550.1 1489.8 1558 1494.1 1564.4C1499 1571.6 1504 1581.4 1509 1586.7C1513.9 1592 1518.9 1598 1523.8 1599C1528.2 1599.8 1532.5 1600.4 1536.8 1600.4C1540.6 1600.4 1544.3 1594.7 1548 1592.3C1551.1 1590.2 1554.2 1586.7 1557.3 1586.7C1559.8 1586.7 1562.2 1589.8 1564.7 1590.4C1568.4 1591.4 1572.2 1592.3 1575.9 1592.3C1580.8 1592.3 1585.8 1589 1590.7 1586.7C1595.7 1584.4 1600.7 1580.5 1605.6 1577.4C1610.6 1574.3 1615.5 1570.3 1620.5 1568.1C1626.7 1565.3 1632.9 1563.1 1639.1 1561.8C1645.3 1560.4 1651.5 1558.8 1657.7 1558.8C1665.1 1558.8 1672.5 1559.1 1680 1559.6C1687.4 1560 1694.8 1562.2 1702.3 1563.3C1709.7 1564.4 1717.1 1566.2 1724.6 1566.2C1737 1566.2 1749.4 1566.2 1761.7 1566.2C1774.1 1566.2 1786.5 1566.6 1798.9 1567C1811.3 1567.4 1823.7 1568.9 1836.1 1570C1848.5 1571.1 1860.9 1573.7 1873.3 1573.7C1885.7 1573.7 1898.1 1573.7 1910.4 1573.7C1917.9 1573.7 1925.3 1571.7 1932.8 1570C1938 1568.8 1943.2 1566.8 1948.4 1564.4C1955.8 1561 1963.2 1555.5 1970.6 1549.6C1978 1543.7 1985.4 1534.8 1992.8 1527.4C2000.1 1520 2007.5 1512.6 2014.9 1505.2C2022.3 1497.8 2029.7 1489.8 2037.1 1483C2044.5 1476.3 2051.9 1469.6 2059.3 1464.5C2066.7 1459.5 2074.1 1454.7 2081.5 1451.6C2087.7 1449 2093.9 1446.6 2100 1445.3C2106.2 1444 2112.4 1442.3 2118.5 1442.3C2124.7 1442.3 2130.8 1444.8 2137 1446.8C2143.2 1448.7 2149.3 1451.7 2155.5 1455.3C2161.7 1458.9 2167.8 1464.9 2174 1470.1C2180.2 1475.3 2186.3 1480.9 2192.5 1486.7C2198.7 1492.6 2204.8 1498.8 2211 1505.2C2217.2 1511.7 2223.3 1519.1 2229.5 1525.6C2235.6 1532 2241.8 1538.2 2248 1544.1C2254.1 1549.9 2260.3 1555.9 2266.5 1560.7C2272.6 1565.6 2278.8 1569.7 2285 1573.7C2291.1 1577.6 2297.3 1581.4 2303.5 1584.8C2310.9 1588.8 2318.3 1592.9 2325.7 1595.8C2333.1 1598.8 2340.4 1601.8 2347.8 1603.2C2361.7 1606 2375.5 1608.7 2389.3 1608.8" fill="none" stroke="#e0302e" stroke-width="3.0" stroke-linejoin="round" stroke-linecap="round"/>
<path d="M1427.9 1575.5C1433.9 1576.6 1439.8 1577.9 1445.8 1579.3C1452 1580.7 1458.2 1582.3 1464.3 1584.1C1470.5 1585.9 1476.7 1587.7 1482.9 1590.4C1487.9 1592.6 1492.9 1596.1 1497.8 1599.7C1501.5 1602.4 1505.2 1606.2 1509 1609C1512.1 1611.3 1515.2 1614.4 1518.3 1615.3C1521.4 1616.3 1524.4 1617.2 1527.5 1617.2C1530.6 1617.2 1533.7 1614.9 1536.8 1612.7C1539.3 1611 1541.8 1606.5 1544.3 1603.4C1546.8 1600.3 1549.2 1595.8 1551.7 1594.1C1553.6 1592.9 1555.4 1591.5 1557.3 1591.5C1559.8 1591.5 1562.2 1594.5 1564.7 1596C1567.2 1597.5 1569.7 1600.4 1572.2 1600.4C1575.9 1600.4 1579.6 1600.4 1583.3 1600.4C1588.3 1600.4 1593.2 1598.9 1598.2 1597.8C1603.1 1596.8 1608.1 1595.6 1613 1594.1C1619.2 1592.2 1625.4 1589 1631.6 1586.7C1637.8 1584.4 1644 1582.4 1650.2 1580.4C1657.7 1578 1665.1 1576 1672.5 1573.7C1680 1571.3 1687.4 1568.4 1694.8 1566.2C1702.3 1564.1 1709.7 1562.2 1717.1 1560.7C1724.6 1559.2 1732 1557.8 1739.4 1557C1746.9 1556.1 1754.3 1555.4 1761.7 1555.1C1769.2 1554.7 1776.6 1554.3 1784.1 1554.3C1791.5 1554.3 1798.9 1555 1806.4 1555.8C1811.3 1556.4 1816.3 1558 1821.2 1559.6C1826.2 1561.1 1831.1 1563.8 1836.1 1565.5C1842.3 1567.6 1848.5 1570.6 1854.7 1571.1C1860.9 1571.5 1867.1 1571.8 1873.3 1571.8C1878.2 1571.8 1883.2 1570.9 1888.1 1570C1893.1 1569 1898.1 1566.9 1903 1564.4C1908 1561.9 1912.9 1557.7 1917.9 1553.2C1922.8 1548.8 1927.8 1542.9 1932.8 1536.5C1937.7 1530.1 1942.7 1522.2 1947.6 1514.2C1952.6 1506.2 1957.5 1497.9 1962.5 1488.2C1967.4 1478.4 1972.4 1466.1 1977.4 1454.7C1981.6 1445 1985.8 1433.9 1990 1425C1993.4 1417.8 1996.8 1412.4 2000.1 1405.4C2005.1 1395.1 2010 1382.5 2014.9 1372.1C2019.9 1361.6 2024.8 1351.7 2029.7 1342.5C2034.7 1333.3 2039.6 1323.8 2044.5 1316.6C2049.5 1309.4 2054.4 1301.5 2059.3 1298.1C2063 1295.5 2066.7 1293 2070.4 1292.5C2075.4 1291.9 2080.3 1291.4 2085.2 1291.4C2088.9 1291.4 2092.6 1295.3 2096.3 1298.1C2101.3 1301.7 2106.2 1307.7 2111.1 1312.9C2116 1318.1 2121 1323.7 2125.9 1329.5C2130.8 1335.4 2135.8 1341.1 2140.7 1348C2145.6 1355 2150.6 1364.4 2155.5 1372.1C2160.4 1379.8 2165.4 1386.9 2170.3 1394.3C2175.2 1401.7 2180.2 1409.1 2185.1 1416.5C2190 1423.8 2195 1431.6 2199.9 1438.6C2204.8 1445.7 2209.8 1451.9 2214.7 1459C2219.6 1466.1 2224.6 1474.1 2229.5 1481.2C2234.4 1488.3 2239.3 1495.4 2244.3 1501.5C2249.2 1507.6 2254.1 1512.9 2259.1 1518.2C2264 1523.4 2268.9 1528 2273.9 1533C2280 1539.1 2286.2 1545.6 2292.4 1551.5C2298.5 1557.3 2304.7 1562.9 2310.9 1568.1C2317 1573.3 2323.2 1578.7 2329.4 1582.9C2335.5 1587.1 2341.7 1591 2347.8 1594C2354 1597 2360.2 1599.5 2366.3 1601.4C2374 1603.7 2381.6 1605.8 2389.3 1606.9" fill="none" stroke="#141414" stroke-width="2.8" stroke-linejoin="round" stroke-linecap="round"/>
</g>
<line x1="1427.4" y1="914.1" x2="1427.4" y2="1633.9" stroke="#3c3c3c" stroke-width="3.2"/>
<line x1="1427.4" y1="1632.3" x2="2391.1" y2="1632.3" stroke="#3c3c3c" stroke-width="3.2"/>
<line x1="1649.7" y1="1632.3" x2="1649.7" y2="1646.4" stroke="#3c3c3c" stroke-width="3.2"/>
<text x="1649.7" y="1677" font-family="'Liberation Sans',Arial,sans-serif" font-size="27" text-anchor="middle" fill="#2a2a2a">400</text>
<line x1="1945.6" y1="1632.3" x2="1945.6" y2="1646.4" stroke="#3c3c3c" stroke-width="3.2"/>
<text x="1945.6" y="1677" font-family="'Liberation Sans',Arial,sans-serif" font-size="27" text-anchor="middle" fill="#2a2a2a">600</text>
<line x1="2241.5" y1="1632.3" x2="2241.5" y2="1646.4" stroke="#3c3c3c" stroke-width="3.2"/>
<text x="2241.5" y="1677" font-family="'Liberation Sans',Arial,sans-serif" font-size="27" text-anchor="middle" fill="#2a2a2a">800</text>
<line x1="2389.5" y1="1632.3" x2="2389.5" y2="1646.4" stroke="#3c3c3c" stroke-width="3.2"/>
<line x1="1501.8" y1="1632.3" x2="1501.8" y2="1639.9" stroke="#3c3c3c" stroke-width="3.2"/>
<line x1="1797.7" y1="1632.3" x2="1797.7" y2="1639.9" stroke="#3c3c3c" stroke-width="3.2"/>
<line x1="2093.6" y1="1632.3" x2="2093.6" y2="1639.9" stroke="#3c3c3c" stroke-width="3.2"/>
<line x1="1413.3" y1="1632.3" x2="1427.4" y2="1632.3" stroke="#3c3c3c" stroke-width="3.2"/>
<text x="1403.6" y="1639.7" font-family="'Liberation Sans',Arial,sans-serif" font-size="27" text-anchor="end" fill="#2a2a2a">0.0</text>
<line x1="1413.3" y1="1393.5" x2="1427.4" y2="1393.5" stroke="#3c3c3c" stroke-width="3.2"/>
<text x="1403.6" y="1400.8" font-family="'Liberation Sans',Arial,sans-serif" font-size="27" text-anchor="end" fill="#2a2a2a">0.5</text>
<line x1="1413.3" y1="1154.6" x2="1427.4" y2="1154.6" stroke="#3c3c3c" stroke-width="3.2"/>
<text x="1403.6" y="1162" font-family="'Liberation Sans',Arial,sans-serif" font-size="27" text-anchor="end" fill="#2a2a2a">1.0</text>
<line x1="1413.3" y1="915.8" x2="1427.4" y2="915.8" stroke="#3c3c3c" stroke-width="3.2"/>
<text x="1403.6" y="923.1" font-family="'Liberation Sans',Arial,sans-serif" font-size="27" text-anchor="end" fill="#2a2a2a">1.5</text>
<line x1="1419.8" y1="1512.9" x2="1427.4" y2="1512.9" stroke="#3c3c3c" stroke-width="3.2"/>
<line x1="1419.8" y1="1274" x2="1427.4" y2="1274" stroke="#3c3c3c" stroke-width="3.2"/>
<line x1="1419.8" y1="1035.2" x2="1427.4" y2="1035.2" stroke="#3c3c3c" stroke-width="3.2"/>
<text x="1464" y="965.8" font-family="'Liberation Sans',Arial,sans-serif" font-size="28.5" text-anchor="start" fill="#222" stroke="#222" stroke-width="0.4">(D)</text>
<text x="1300.8" y="1272.3" font-family="'Liberation Sans',Arial,sans-serif" font-size="34" text-anchor="middle" fill="#111" transform="rotate(-90 1300.8 1272.3)" dy="0.36em" stroke="#111" stroke-width="0.8">Extinction (a.u.)</text>
<text x="1909.2" y="1730" font-family="'Liberation Sans',Arial,sans-serif" font-size="34.3" text-anchor="middle" fill="#111">Wavelength (nm)</text>
<line x1="1454.5" y1="1136.6" x2="1520.7" y2="1136.6" stroke="#141414" stroke-width="3"/>
<text x="1528.2" y="1146.8" font-family="'Liberation Serif','Times New Roman',serif" font-size="28.7" text-anchor="start" fill="#1a1a1a" stroke="#1a1a1a" stroke-width="0.7">AgNPs</text>
<line x1="1454.5" y1="1173.1" x2="1520.7" y2="1173.1" stroke="#e0302e" stroke-width="3"/>
<text x="1528.2" y="1183.3" font-family="'Liberation Serif','Times New Roman',serif" font-size="28.7" text-anchor="start" fill="#1a1a1a" stroke="#1a1a1a" stroke-width="0.7">AgNPs + DTT(reduced) 0 min</text>
<line x1="1454.5" y1="1209.7" x2="1520.7" y2="1209.7" stroke="#3fdc46" stroke-width="3.6"/>
<text x="1528.2" y="1219.9" font-family="'Liberation Serif','Times New Roman',serif" font-size="28.7" text-anchor="start" fill="#1a1a1a" stroke="#1a1a1a" stroke-width="0.7">AgNPs + DTT(reduced) 10 min</text>
<line x1="1454.5" y1="1246.2" x2="1520.7" y2="1246.2" stroke="#45e4e8" stroke-width="3.8"/>
<text x="1528.2" y="1256.4" font-family="'Liberation Serif','Times New Roman',serif" font-size="28.7" text-anchor="start" fill="#1a1a1a" stroke="#1a1a1a" stroke-width="0.7">AgNPs + DTT(reduced) 30 min</text>
<line x1="1454.5" y1="1282.8" x2="1520.7" y2="1282.8" stroke="#9a9140" stroke-width="3.4"/>
<text x="1528.2" y="1293" font-family="'Liberation Serif','Times New Roman',serif" font-size="28.7" text-anchor="start" fill="#1a1a1a" stroke="#1a1a1a" stroke-width="0.7">AgNPs + DTT(reduced) 1 hr</text>
<line x1="1454.5" y1="1319.3" x2="1520.7" y2="1319.3" stroke="#1f1f7c" stroke-width="2.8"/>
<text x="1528.2" y="1329.5" font-family="'Liberation Serif','Times New Roman',serif" font-size="28.7" text-anchor="start" fill="#1a1a1a" stroke="#1a1a1a" stroke-width="0.7">AgNPs + DTT(reduced) 3 hr</text>
<line x1="1454.5" y1="1355.9" x2="1520.7" y2="1355.9" stroke="#96289a" stroke-width="2.8"/>
<text x="1528.2" y="1366.1" font-family="'Liberation Serif','Times New Roman',serif" font-size="28.7" text-anchor="start" fill="#1a1a1a" stroke="#1a1a1a" stroke-width="0.7">AgNPs + DTT(reduced) 6 hr</text>
</g>
<defs>
<linearGradient id="gA" x1="0" y1="0" x2="0" y2="1"><stop offset="0" stop-color="#dedede"/><stop offset="0.1" stop-color="#cecece"/><stop offset="0.25" stop-color="#b5b5b5"/><stop offset="0.5" stop-color="#a0a0a0"/><stop offset="0.75" stop-color="#898989"/><stop offset="0.9" stop-color="#727272"/><stop offset="1" stop-color="#5a5a5a"/></linearGradient>
<filter id="bl2" x="-20%" y="-20%" width="140%" height="140%"><feGaussianBlur stdDeviation="1.6"/></filter>
<filter id="bl3" x="-30%" y="-30%" width="160%" height="160%"><feGaussianBlur stdDeviation="2.3"/></filter>
<filter id="bl4" x="-30%" y="-30%" width="160%" height="160%"><feGaussianBlur stdDeviation="3.5"/></filter>
<filter id="grain" x="0" y="0" width="100%" height="100%"><feTurbulence type="fractalNoise" baseFrequency="0.9" numOctaves="2" seed="3" result="n"/><feColorMatrix type="matrix" values="0 0 0 0 0.5  0 0 0 0 0.5  0 0 0 0 0.5  0.9 0 0 0 -0.28"/></filter>
<filter id="wobA" x="-20%" y="-20%" width="140%" height="140%"><feTurbulence type="fractalNoise" baseFrequency="0.25" numOctaves="2" seed="4" result="t"/><feDisplacementMap in="SourceGraphic" in2="t" scale="7" xChannelSelector="R" yChannelSelector="G"/><feGaussianBlur stdDeviation="1.5"/></filter>
<clipPath id="cpA"><rect x="589.6" y="55.1" width="421" height="420.6"/></clipPath>
<clipPath id="cpD"><rect x="1903.1" y="886.2" width="395.6" height="395.4"/></clipPath>
</defs>
<g clip-path="url(#cpA)">
<rect x="589.6" y="55.1" width="421" height="420.6" fill="url(#gA)"/>
<g filter="url(#bl3)" fill="#000" fill-opacity="0.25">
<circle cx="598.5" cy="82.7" r="8.9"/>
<circle cx="643.1" cy="62.4" r="8.9"/>
<circle cx="661.3" cy="68.5" r="8.9"/>
<circle cx="677.5" cy="66.5" r="8.9"/>
<circle cx="681.6" cy="94.8" r="7.3"/>
<circle cx="762.6" cy="85.9" r="6.9"/>
<circle cx="706.7" cy="115.9" r="12.2"/>
<circle cx="940.9" cy="129.3" r="10.1"/>
<circle cx="920.6" cy="139.4" r="10.1"/>
<circle cx="944.9" cy="147.5" r="8.9"/>
<circle cx="928.7" cy="159.7" r="8.1"/>
<circle cx="961.1" cy="154.8" r="7.3"/>
<circle cx="870.8" cy="158.4" r="8.1"/>
<circle cx="620.8" cy="169.8" r="10.1"/>
<circle cx="645.1" cy="171.8" r="11.3"/>
<circle cx="651.2" cy="155.6" r="8.9"/>
<circle cx="821.3" cy="165.7" r="10.1"/>
<circle cx="827.4" cy="186" r="11.3"/>
<circle cx="799.1" cy="196.1" r="11.3"/>
<circle cx="791" cy="208.3" r="8.1"/>
<circle cx="831.5" cy="210.3" r="12.2"/>
<circle cx="901.2" cy="220.4" r="8.1"/>
<circle cx="825.4" cy="238.7" r="11.3"/>
<circle cx="841.6" cy="252.9" r="10.1"/>
<circle cx="839.6" cy="267" r="6.1"/>
<circle cx="608.6" cy="264.2" r="10.1"/>
<circle cx="628.9" cy="263" r="8.9"/>
<circle cx="647.1" cy="254.9" r="8.9"/>
<circle cx="665.3" cy="267" r="11.3"/>
<circle cx="679.5" cy="281.2" r="8.9"/>
<circle cx="655.2" cy="287.3" r="12.2"/>
<circle cx="969.2" cy="289.3" r="11.3"/>
<circle cx="989.5" cy="281.2" r="11.3"/>
<circle cx="1005.7" cy="273.1" r="6.1"/>
<circle cx="969.2" cy="311.6" r="10.1"/>
<circle cx="594.4" cy="322.5" r="7.3"/>
<circle cx="713.2" cy="327" r="10.1"/>
<circle cx="819.3" cy="311.6" r="12.2"/>
<circle cx="807.2" cy="309.6" r="6.1"/>
<circle cx="832.3" cy="342" r="13"/>
<circle cx="703.8" cy="354.1" r="8.9"/>
<circle cx="788.9" cy="348.1" r="10.1"/>
<circle cx="799.1" cy="364.3" r="11.3"/>
<circle cx="791.8" cy="379.3" r="6.1"/>
<circle cx="961.1" cy="356.2" r="11.3"/>
<circle cx="972.5" cy="380.5" r="14.2"/>
<circle cx="655.2" cy="414.9" r="12.2"/>
<circle cx="669.4" cy="423" r="10.1"/>
<circle cx="703.8" cy="431.1" r="11.3"/>
<circle cx="881.3" cy="422.2" r="10.9"/>
<circle cx="957.1" cy="421" r="10.1"/>
<circle cx="930.7" cy="455.4" r="10.1"/>
<circle cx="999.6" cy="465.6" r="12.2"/>
<circle cx="714" cy="471.7" r="8.1"/>
<circle cx="784.9" cy="473.7" r="10.1"/>
<circle cx="819.3" cy="475.7" r="6.1"/>
</g>
<rect x="589.6" y="55.1" width="421" height="420.6" fill="#fff" filter="url(#grain)" opacity="0.75"/>
<g filter="url(#wobA)" fill="#121212">
<circle cx="757.7" cy="240.7" r="10.9"/>
<circle cx="768.7" cy="252" r="12.2"/>
<circle cx="780.8" cy="264.2" r="13.4"/>
<circle cx="791.8" cy="276.4" r="11.3"/>
<circle cx="799.9" cy="266.2" r="9.3"/>
<circle cx="788.9" cy="285.3" r="6.9"/>
<circle cx="749.6" cy="237.9" r="5.7"/>
<circle cx="762.6" cy="256.9" r="6.5"/>
</g>
<text x="593.5" y="463" font-family="'Liberation Serif','Times New Roman',serif" font-size="9.5" text-anchor="start" fill="#111">0.2 µm</text>
<rect x="593.6" y="468.6" width="34.5" height="2.6" fill="#000"/>
</g>
<defs>
<linearGradient id="gD" x1="0.35" y1="0" x2="0.95" y2="1"><stop offset="0" stop-color="#c8c8c8"/><stop offset="0.4" stop-color="#b4b4b4"/><stop offset="0.75" stop-color="#929292"/><stop offset="1" stop-color="#747474"/></linearGradient>
<radialGradient id="gD2" gradientUnits="userSpaceOnUse" cx="1955" cy="1225" r="290"><stop offset="0" stop-color="#000" stop-opacity="0.72"/><stop offset="0.45" stop-color="#000" stop-opacity="0.5"/><stop offset="0.8" stop-color="#000" stop-opacity="0.15"/><stop offset="1" stop-color="#000" stop-opacity="0"/></radialGradient>
<filter id="bl6" x="-10%" y="-10%" width="120%" height="120%"><feGaussianBlur stdDeviation="5"/></filter>
<filter id="tex" x="0" y="0" width="100%" height="100%"><feTurbulence type="fractalNoise" baseFrequency="0.05" numOctaves="3" seed="11"/><feColorMatrix type="matrix" values="0 0 0 0 0  0 0 0 0 0  0 0 0 0 0  1.7 0 0 0 -0.62"/></filter>
<filter id="tex2" x="0" y="0" width="100%" height="100%"><feTurbulence type="fractalNoise" baseFrequency="0.07" numOctaves="2" seed="5"/><feColorMatrix type="matrix" values="0 0 0 0 1  0 0 0 0 1  0 0 0 0 1  0 1.9 0 0 -0.95"/></filter>
<filter id="wob" x="-5%" y="-5%" width="110%" height="110%"><feTurbulence type="fractalNoise" baseFrequency="0.06" numOctaves="2" seed="8" result="t"/><feDisplacementMap in="SourceGraphic" in2="t" scale="9" xChannelSelector="R" yChannelSelector="G"/><feGaussianBlur stdDeviation="1.4"/></filter>
</defs>
<g clip-path="url(#cpD)">
<rect x="1903.1" y="886.2" width="395.6" height="395.4" fill="url(#gD)"/>
<mask id="mAgg" maskUnits="userSpaceOnUse" x="1890" y="870" width="420" height="420"><path d="M1903.2 886.2L1971.6 886.2L1981.8 906.1L1984.3 941.8L1992 980.1L2037.9 985.2L2068.6 962.2L2104.3 948.2L2129.8 959.7L2160.5 969.9L2188.6 987.8L2224.3 995.4L2231.9 1015.8L2254.9 1036.3L2288.1 1051.6L2300.9 1066.9L2300.9 1176.7L2277.9 1184.3L2252.4 1199.6L2229.4 1217.5L2257.5 1226.4L2300.9 1222.6L2300.9 1283.9L1903.2 1283.9Z" fill="#fff" filter="url(#bl4)"/></mask>
<path d="M1903.2 886.2L1971.6 886.2L1981.8 906.1L1984.3 941.8L1992 980.1L2037.9 985.2L2068.6 962.2L2104.3 948.2L2129.8 959.7L2160.5 969.9L2188.6 987.8L2224.3 995.4L2231.9 1015.8L2254.9 1036.3L2288.1 1051.6L2300.9 1066.9L2300.9 1176.7L2277.9 1184.3L2252.4 1199.6L2229.4 1217.5L2257.5 1226.4L2300.9 1222.6L2300.9 1283.9L1903.2 1283.9Z" fill="#8c8c8c" fill-opacity="0.3" filter="url(#bl4)"/>
<g mask="url(#mAgg)">
<rect x="1903.1" y="886.2" width="395.6" height="395.4" fill="url(#gD2)"/>
<rect x="1903.1" y="886.2" width="395.6" height="395.4" fill="#000" filter="url(#tex)" opacity="0.5"/>
<rect x="1903.1" y="886.2" width="395.6" height="395.4" fill="#fff" filter="url(#tex2)" opacity="0.55"/>
</g>
<g filter="url(#wob)">
<circle cx="2118.4" cy="1012" r="16.6" fill="rgb(33,33,33)" fill-opacity="0.95"/>
<circle cx="2114.5" cy="1000.5" r="5.6" fill="rgb(16,16,16)" fill-opacity="0.95"/>
<circle cx="1979.2" cy="1033.7" r="14.8" fill="rgb(27,27,27)" fill-opacity="0.95"/>
<circle cx="1951.2" cy="1043.9" r="11.2" fill="rgb(24,24,24)" fill-opacity="0.95"/>
<circle cx="2009.9" cy="1008.2" r="12.3" fill="rgb(49,49,49)" fill-opacity="0.95"/>
<circle cx="2075" cy="1069.4" r="19.9" fill="rgb(45,45,45)" fill-opacity="0.95"/>
<circle cx="2063.5" cy="1041.4" r="11.2" fill="rgb(51,51,51)" fill-opacity="0.95"/>
<circle cx="2041.8" cy="1089.9" r="16.3" fill="rgb(30,30,30)" fill-opacity="0.95"/>
<circle cx="2142.6" cy="1072" r="10.2" fill="rgb(16,16,16)" fill-opacity="0.95"/>
<circle cx="2132.4" cy="1102.6" r="13.3" fill="rgb(20,20,20)" fill-opacity="0.95"/>
<circle cx="2152.8" cy="1083.5" r="10.7" fill="rgb(51,51,51)" fill-opacity="0.95"/>
<circle cx="2015" cy="1148.6" r="14.8" fill="rgb(27,27,27)" fill-opacity="0.95"/>
<circle cx="2048.2" cy="1135.8" r="17.4" fill="rgb(30,30,30)" fill-opacity="0.95"/>
<circle cx="2078.8" cy="1140.9" r="14.8" fill="rgb(30,30,30)" fill-opacity="0.95"/>
<circle cx="2043.1" cy="1181.8" r="15.8" fill="rgb(27,27,27)" fill-opacity="0.95"/>
<circle cx="1933.3" cy="1156.2" r="12.3" fill="rgb(15,15,15)" fill-opacity="0.95"/>
<circle cx="1933.3" cy="1174.1" r="11.2" fill="rgb(18,18,18)" fill-opacity="0.95"/>
<circle cx="1957.5" cy="1200.9" r="8.7" fill="rgb(8,8,8)" fill-opacity="0.95"/>
<circle cx="1949.9" cy="1209.8" r="6.6" fill="rgb(8,8,8)" fill-opacity="0.95"/>
<circle cx="1963.9" cy="1193.3" r="6.1" fill="rgb(9,9,9)" fill-opacity="0.95"/>
<circle cx="1915.4" cy="1199.6" r="14.8" fill="rgb(30,30,30)" fill-opacity="0.95"/>
<circle cx="1971.6" cy="1102.6" r="17.4" fill="rgb(57,57,57)" fill-opacity="0.95"/>
<circle cx="1984.3" cy="1123.1" r="14.8" fill="rgb(54,54,54)" fill-opacity="0.95"/>
<circle cx="1969" cy="1156.2" r="10.7" fill="rgb(48,48,48)" fill-opacity="0.95"/>
<circle cx="2020.1" cy="1220.1" r="14.8" fill="rgb(39,39,39)" fill-opacity="0.95"/>
<circle cx="1933.3" cy="1248.1" r="29.4" fill="rgb(33,33,33)" fill-opacity="0.95"/>
<circle cx="1979.2" cy="1260.9" r="21.7" fill="rgb(42,42,42)" fill-opacity="0.95"/>
<circle cx="2206.4" cy="1248.1" r="14.8" fill="rgb(51,51,51)" fill-opacity="0.95"/>
<circle cx="2244.7" cy="1268.6" r="17.4" fill="rgb(48,48,48)" fill-opacity="0.95"/>
<circle cx="2288.1" cy="1240.5" r="13.3" fill="rgb(27,27,27)" fill-opacity="0.95"/>
<circle cx="2175.8" cy="1268.6" r="6.1" fill="rgb(24,24,24)" fill-opacity="0.95"/>
<circle cx="2101.8" cy="1272.4" r="4.3" fill="rgb(24,24,24)" fill-opacity="0.95"/>
<circle cx="2234.5" cy="1226.4" r="3.3" fill="rgb(24,24,24)" fill-opacity="0.95"/>
<circle cx="2141.3" cy="1248.1" r="13.3" fill="rgb(57,57,57)" fill-opacity="0.95"/>
<circle cx="2063.5" cy="1234.1" r="9.7" fill="rgb(42,42,42)" fill-opacity="0.95"/>
<circle cx="2191.1" cy="1193.3" r="9.7" fill="rgb(45,45,45)" fill-opacity="0.95"/>
<circle cx="2229.4" cy="1188.1" r="8.4" fill="rgb(63,63,63)" fill-opacity="0.95"/>
<circle cx="2276.6" cy="1157.5" r="10.7" fill="rgb(60,60,60)" fill-opacity="0.95"/>
<circle cx="2192.4" cy="1109" r="7.1" fill="rgb(33,33,33)" fill-opacity="0.95"/>
<circle cx="2246" cy="1045.2" r="8.4" fill="rgb(57,57,57)" fill-opacity="0.95"/>
<circle cx="2276.6" cy="1061.8" r="9.7" fill="rgb(73,73,73)" fill-opacity="0.95"/>
<circle cx="2229.4" cy="1068.2" r="3.6" fill="rgb(18,18,18)" fill-opacity="0.95"/>
<circle cx="2124.7" cy="1051.6" r="11.2" fill="rgb(69,69,69)" fill-opacity="0.95"/>
<circle cx="1914.1" cy="977.6" r="12.3" fill="rgb(57,57,57)" fill-opacity="0.95"/>
<circle cx="1911.6" cy="959.7" r="7.1" fill="rgb(45,45,45)" fill-opacity="0.95"/>
<circle cx="1946.1" cy="946.9" r="10.7" fill="rgb(79,79,79)" fill-opacity="0.95"/>
<circle cx="1957.5" cy="926.5" r="6.6" fill="rgb(72,72,72)" fill-opacity="0.95"/>
<circle cx="1928.2" cy="916.3" r="5.1" fill="rgb(66,66,66)" fill-opacity="0.95"/>
<circle cx="1971.6" cy="917.6" r="3.6" fill="rgb(63,63,63)" fill-opacity="0.95"/>
<circle cx="2017.5" cy="1054.1" r="10.7" fill="rgb(60,60,60)" fill-opacity="0.95"/>
<circle cx="2175.8" cy="1217.5" r="8.4" fill="rgb(72,72,72)" fill-opacity="0.95"/>
<circle cx="2086.4" cy="994.1" r="6.1" fill="rgb(67,67,67)" fill-opacity="0.95"/>
<circle cx="2040.5" cy="990.3" r="6.1" fill="rgb(67,67,67)" fill-opacity="0.95"/>
<circle cx="2122.2" cy="966.1" r="3.8" fill="rgb(60,60,60)" fill-opacity="0.95"/>
<circle cx="2106.9" cy="953.3" r="3.8" fill="rgb(67,67,67)" fill-opacity="0.95"/>
<circle cx="2081.3" cy="964.8" r="7.7" fill="rgb(84,84,84)" fill-opacity="0.95"/>
<circle cx="2037.9" cy="1012" r="4.6" fill="rgb(60,60,60)" fill-opacity="0.95"/>
<circle cx="2027.7" cy="1017.1" r="3.8" fill="rgb(60,60,60)" fill-opacity="0.95"/>
<circle cx="2166.9" cy="1029.9" r="3.3" fill="rgb(36,36,36)" fill-opacity="0.95"/>
<circle cx="2265.1" cy="1079.7" r="4.1" fill="rgb(67,67,67)" fill-opacity="0.95"/>
<circle cx="2270.2" cy="1117.9" r="4.6" fill="rgb(67,67,67)" fill-opacity="0.95"/>
<circle cx="2226.8" cy="1110.3" r="5.1" fill="rgb(73,73,73)" fill-opacity="0.95"/>
<circle cx="2175.8" cy="1146" r="5.6" fill="rgb(69,69,69)" fill-opacity="0.95"/>
<circle cx="2073.7" cy="1188.1" r="4.1" fill="rgb(36,36,36)" fill-opacity="0.95"/>
<circle cx="2131.1" cy="1189.4" r="3.3" fill="rgb(36,36,36)" fill-opacity="0.95"/>
<circle cx="2140.1" cy="1208.6" r="3.8" fill="rgb(42,42,42)" fill-opacity="0.95"/>
<circle cx="1907.8" cy="1232.8" r="11.5" fill="rgb(27,27,27)" fill-opacity="0.95"/>
<circle cx="2068.6" cy="1273.7" r="11.5" fill="rgb(48,48,48)" fill-opacity="0.95"/>
<circle cx="1956.3" cy="990.3" r="7.7" fill="rgb(72,72,72)" fill-opacity="0.95"/>
<circle cx="1938.4" cy="1000.5" r="8.9" fill="rgb(70,70,70)" fill-opacity="0.95"/>
<circle cx="2004.8" cy="1092.4" r="5.1" fill="rgb(36,36,36)" fill-opacity="0.95"/>
<circle cx="2104.3" cy="1089.9" r="5.6" fill="rgb(42,42,42)" fill-opacity="0.95"/>
<circle cx="2288.1" cy="1276.2" r="15.3" fill="rgb(46,46,46)" fill-opacity="0.95"/>
<circle cx="2152.8" cy="1230.3" r="8.9" fill="rgb(63,63,63)" fill-opacity="0.95"/>
<path d="M2032.8 1245.6L2048.2 1214.9L2078.8 1206L2099.2 1217.5L2073.7 1235.4L2058.4 1245.6Z" fill="rgb(178,178,178)" fill-opacity="0.85"/>
<path d="M2083.9 1276.2L2099.2 1243L2122.2 1227.7L2134.9 1240.5L2114.5 1260.9L2099.2 1276.2Z" fill="rgb(172,172,172)" fill-opacity="0.85"/>
<path d="M1920.5 1107.7L1958.8 1091.1L1963.9 1107.7L1925.6 1119.2Z" fill="rgb(168,168,168)" fill-opacity="0.85"/>
<path d="M2002.2 1258.3L2009.9 1248.1L2025.2 1250.7L2027.7 1266L2012.4 1271.1Z" fill="rgb(168,168,168)" fill-opacity="0.85"/>
<path d="M2132.4 1276.2L2150.3 1266L2168.1 1268.6L2165.6 1281.3L2134.9 1282.6Z" fill="rgb(160,160,160)" fill-opacity="0.85"/>
<path d="M2152.8 1036.3L2163 1028.6L2170.7 1038.8L2160.5 1046.5Z" fill="rgb(172,172,172)" fill-opacity="0.85"/>
<path d="M2180.9 1041.4L2203.9 1031.2L2209 1046.5L2186 1056.7Z" fill="rgb(150,150,150)" fill-opacity="0.85"/>
<path d="M2198.8 1123.1L2216.6 1117.9L2221.7 1133.3L2203.9 1135.8Z" fill="rgb(172,172,172)" fill-opacity="0.85"/>
<path d="M2045.6 1061.8L2058.4 1056.7L2063.5 1072L2048.2 1074.6Z" fill="rgb(165,165,165)" fill-opacity="0.85"/>
<path d="M1981.8 1179.2L1997.1 1171.6L2004.8 1192L1986.9 1199.6Z" fill="rgb(160,160,160)" fill-opacity="0.85"/>
</g>
<rect x="1903.1" y="886.2" width="395.6" height="395.4" fill="#fff" filter="url(#grain)" opacity="0.45"/>
<rect x="1993.3" y="942.3" width="65.1" height="26.8" fill="#dcdcdc"/>
<rect x="2001.4" y="958.3" width="53.6" height="2.8" fill="#000"/>
<text x="2002.2" y="954.6" font-family="'Liberation Serif','Times New Roman',serif" font-size="10" text-anchor="start" fill="#111">100 nm</text>
</g>
<g>
<rect x="148.5" y="2364.5" width="15.2" height="15.2" fill="#000"/>
<rect x="148.5" y="2379" width="15.2" height="15.2" fill="#000"/>
<rect x="173.3" y="2354.8" width="15.2" height="15.2" fill="#000"/>
<rect x="223" y="2270" width="15.2" height="15.2" fill="#000"/>
<rect x="297.4" y="2197.3" width="15.2" height="15.2" fill="#000"/>
<rect x="595.3" y="1979.3" width="15.2" height="15.2" fill="#000"/>
<rect x="1042" y="1797.6" width="15.2" height="15.2" fill="#000"/>
<path d="M154.6 2380.4L154.7 2380.2L155 2379.8L155.5 2379.2L156.1 2378.4L156.8 2377.4L157.7 2376.3L158.7 2375L159.8 2373.5L161 2371.9L162.3 2370.2L163.8 2368.3L165.3 2366.3L167 2364.1L168.8 2361.8L170.6 2359.4L172.6 2356.8L174.7 2354.2L176.9 2351.4L179.1 2348.5L181.5 2345.5L184 2342.4L186.5 2339.2L189.2 2335.8L192 2332.4L194.8 2328.9L197.8 2325.3L200.8 2321.6L203.9 2317.8L207.1 2313.9L210.4 2309.9L213.8 2305.9L217.3 2301.7L220.9 2297.5L224.5 2293.3L228.3 2288.9L232.1 2284.5L236 2280L240 2275.5L244.1 2270.8L248.3 2266.2L252.6 2261.4L256.9 2256.7L261.3 2251.8L265.8 2247L270.4 2242L275.1 2237L279.9 2232L284.7 2227L289.6 2221.9L294.6 2216.8L299.7 2211.6L304.9 2206.4L310.1 2201.2L315.4 2195.9L320.8 2190.7L326.3 2185.4L331.9 2180L337.5 2174.7L343.2 2169.3L349 2164L354.9 2158.6L360.8 2153.2L366.9 2147.8L373 2142.4L379.2 2137L385.4 2131.6L391.7 2126.2L398.2 2120.7L404.6 2115.3L411.2 2109.9L417.8 2104.5L424.5 2099.1L431.3 2093.7L438.2 2088.4L445.1 2083L452.1 2077.6L459.2 2072.3L466.4 2067L473.6 2061.7L480.9 2056.4L488.3 2051.1L495.7 2045.9L503.3 2040.7L510.9 2035.5L518.5 2030.3L526.3 2025.2L534.1 2020.1L542 2015L549.9 2009.9L558 2004.9L566.1 1999.9L574.3 1994.9L582.5 1990L590.8 1985.1L599.2 1980.2L607.7 1975.4L616.2 1970.6L624.8 1965.9L633.5 1961.2L642.2 1956.5L651 1951.9L659.9 1947.3L668.9 1942.7L677.9 1938.2L687 1933.8L696.1 1929.3L705.4 1925L714.7 1920.6L724 1916.3L733.5 1912.1L743 1907.9L752.6 1903.7L762.2 1899.6L771.9 1895.6L781.7 1891.5L791.5 1887.6L801.5 1883.6L811.4 1879.8L821.5 1875.9L831.6 1872.1L841.8 1868.4L852.1 1864.7L862.4 1861.1L872.8 1857.5L883.2 1853.9L893.8 1850.4L904.4 1846.9L915 1843.5L925.7 1840.2L936.5 1836.9L947.4 1833.6L958.3 1830.4L969.3 1827.2L980.4 1824.1L991.5 1821L1002.7 1817.9L1014 1815L1025.3 1812L1036.7 1809.1L1048.1 1806.3" fill="none" stroke="#f00" stroke-width="6.4" stroke-linejoin="round" stroke-linecap="round"/>
<rect x="142.6" y="1743.4" width="10.8" height="724.8" fill="#fff"/>
<line x1="154.6" y1="1742.2" x2="154.6" y2="2471.4" stroke="#000" stroke-width="2.4"/>
<line x1="154.6" y1="2470.2" x2="1148.6" y2="2470.2" stroke="#000" stroke-width="2.4"/>
<line x1="154.6" y1="2470.2" x2="154.6" y2="2485.4" stroke="#000" stroke-width="2.4"/>
<text x="154.6" y="2518.8" font-family="'Liberation Sans',Arial,sans-serif" font-size="29" text-anchor="middle" fill="#000">0</text>
<line x1="278.7" y1="2470.2" x2="278.7" y2="2485.4" stroke="#000" stroke-width="2.4"/>
<text x="278.7" y="2518.8" font-family="'Liberation Sans',Arial,sans-serif" font-size="29" text-anchor="middle" fill="#000">50</text>
<line x1="402.8" y1="2470.2" x2="402.8" y2="2485.4" stroke="#000" stroke-width="2.4"/>
<text x="402.8" y="2518.8" font-family="'Liberation Sans',Arial,sans-serif" font-size="29" text-anchor="middle" fill="#000">100</text>
<line x1="526.9" y1="2470.2" x2="526.9" y2="2485.4" stroke="#000" stroke-width="2.4"/>
<text x="526.9" y="2518.8" font-family="'Liberation Sans',Arial,sans-serif" font-size="29" text-anchor="middle" fill="#000">150</text>
<line x1="651" y1="2470.2" x2="651" y2="2485.4" stroke="#000" stroke-width="2.4"/>
<text x="651" y="2518.8" font-family="'Liberation Sans',Arial,sans-serif" font-size="29" text-anchor="middle" fill="#000">200</text>
<line x1="775.1" y1="2470.2" x2="775.1" y2="2485.4" stroke="#000" stroke-width="2.4"/>
<text x="775.1" y="2518.8" font-family="'Liberation Sans',Arial,sans-serif" font-size="29" text-anchor="middle" fill="#000">250</text>
<line x1="899.2" y1="2470.2" x2="899.2" y2="2485.4" stroke="#000" stroke-width="2.4"/>
<text x="899.2" y="2518.8" font-family="'Liberation Sans',Arial,sans-serif" font-size="29" text-anchor="middle" fill="#000">300</text>
<line x1="1023.3" y1="2470.2" x2="1023.3" y2="2485.4" stroke="#000" stroke-width="2.4"/>
<text x="1023.3" y="2518.8" font-family="'Liberation Sans',Arial,sans-serif" font-size="29" text-anchor="middle" fill="#000">350</text>
<line x1="1147.4" y1="2470.2" x2="1147.4" y2="2485.4" stroke="#000" stroke-width="2.4"/>
<text x="1147.4" y="2518.8" font-family="'Liberation Sans',Arial,sans-serif" font-size="29" text-anchor="middle" fill="#000">400</text>
<line x1="216.7" y1="2470.2" x2="216.7" y2="2477.9" stroke="#000" stroke-width="2.4"/>
<line x1="340.8" y1="2470.2" x2="340.8" y2="2477.9" stroke="#000" stroke-width="2.4"/>
<line x1="464.9" y1="2470.2" x2="464.9" y2="2477.9" stroke="#000" stroke-width="2.4"/>
<line x1="589" y1="2470.2" x2="589" y2="2477.9" stroke="#000" stroke-width="2.4"/>
<line x1="713.1" y1="2470.2" x2="713.1" y2="2477.9" stroke="#000" stroke-width="2.4"/>
<line x1="837.2" y1="2470.2" x2="837.2" y2="2477.9" stroke="#000" stroke-width="2.4"/>
<line x1="961.3" y1="2470.2" x2="961.3" y2="2477.9" stroke="#000" stroke-width="2.4"/>
<line x1="1085.4" y1="2470.2" x2="1085.4" y2="2477.9" stroke="#000" stroke-width="2.4"/>
<line x1="139.4" y1="2409.6" x2="154.6" y2="2409.6" stroke="#000" stroke-width="2.4"/>
<text x="129.6" y="2417.4" font-family="'Liberation Sans',Arial,sans-serif" font-size="29" text-anchor="end" fill="#000">400</text>
<line x1="139.4" y1="2288.5" x2="154.6" y2="2288.5" stroke="#000" stroke-width="2.4"/>
<text x="129.6" y="2296.3" font-family="'Liberation Sans',Arial,sans-serif" font-size="29" text-anchor="end" fill="#000">420</text>
<line x1="139.4" y1="2167.4" x2="154.6" y2="2167.4" stroke="#000" stroke-width="2.4"/>
<text x="129.6" y="2175.1" font-family="'Liberation Sans',Arial,sans-serif" font-size="29" text-anchor="end" fill="#000">440</text>
<line x1="139.4" y1="2046.2" x2="154.6" y2="2046.2" stroke="#000" stroke-width="2.4"/>
<text x="129.6" y="2054" font-family="'Liberation Sans',Arial,sans-serif" font-size="29" text-anchor="end" fill="#000">460</text>
<line x1="139.4" y1="1925.1" x2="154.6" y2="1925.1" stroke="#000" stroke-width="2.4"/>
<text x="129.6" y="1932.9" font-family="'Liberation Sans',Arial,sans-serif" font-size="29" text-anchor="end" fill="#000">480</text>
<line x1="139.4" y1="1804" x2="154.6" y2="1804" stroke="#000" stroke-width="2.4"/>
<text x="129.6" y="1811.7" font-family="'Liberation Sans',Arial,sans-serif" font-size="29" text-anchor="end" fill="#000">500</text>
<line x1="146.9" y1="2470.2" x2="154.6" y2="2470.2" stroke="#000" stroke-width="2.4"/>
<line x1="146.9" y1="2349.1" x2="154.6" y2="2349.1" stroke="#000" stroke-width="2.4"/>
<line x1="146.9" y1="2227.9" x2="154.6" y2="2227.9" stroke="#000" stroke-width="2.4"/>
<line x1="146.9" y1="2106.8" x2="154.6" y2="2106.8" stroke="#000" stroke-width="2.4"/>
<line x1="146.9" y1="1985.7" x2="154.6" y2="1985.7" stroke="#000" stroke-width="2.4"/>
<line x1="146.9" y1="1864.5" x2="154.6" y2="1864.5" stroke="#000" stroke-width="2.4"/>
<line x1="146.9" y1="1743.4" x2="154.6" y2="1743.4" stroke="#000" stroke-width="2.4"/>
<text x="172.5" y="1777.6" font-family="'Liberation Serif','Times New Roman',serif" font-size="38.0" text-anchor="start" fill="#000" stroke="#000" stroke-width="0.2">(E) QS−AgNP</text>
<text x="42.5" y="2130" font-family="'Liberation Sans',Arial,sans-serif" font-size="36" text-anchor="middle" fill="#000" transform="rotate(-90 42.5 2130)" dy="0.36em" letter-spacing="0.27">wavelength (nm)</text>
<text x="650.6" y="2578.5" font-family="'Liberation Sans',Arial,sans-serif" font-size="36" text-anchor="middle" fill="#000" letter-spacing="0.35">time (min)</text>
<rect x="498.2" y="2128.2" width="624.8" height="311.8" fill="#fff"/>
<rect x="498.2" y="2279.9" width="440.3" height="31.6" fill="#fe0000"/>
<rect x="498.2" y="2408.4" width="624.8" height="31.6" fill="#fe0000"/>
<line x1="498.2" y1="2162.4" x2="1123" y2="2162.4" stroke="#c9c9c9" stroke-width="1.6"/>
<line x1="498.2" y1="2221.3" x2="1123" y2="2221.3" stroke="#c9c9c9" stroke-width="1.6"/>
<line x1="498.2" y1="2279.9" x2="1123" y2="2279.9" stroke="#c9c9c9" stroke-width="1.6"/>
<line x1="498.2" y1="2311.5" x2="1123" y2="2311.5" stroke="#c9c9c9" stroke-width="1.6"/>
<line x1="498.2" y1="2343.5" x2="1123" y2="2343.5" stroke="#c9c9c9" stroke-width="1.6"/>
<line x1="498.2" y1="2376" x2="1123" y2="2376" stroke="#c9c9c9" stroke-width="1.6"/>
<line x1="498.2" y1="2408.4" x2="1123" y2="2408.4" stroke="#c9c9c9" stroke-width="1.6"/>
<line x1="717.7" y1="2128.2" x2="717.7" y2="2440" stroke="#c9c9c9" stroke-width="1.6"/>
<line x1="938.5" y1="2128.2" x2="938.5" y2="2440" stroke="#c9c9c9" stroke-width="1.6"/>
<rect x="498.2" y="2128.2" width="624.8" height="311.8" fill="none" stroke="#2a2a2a" stroke-width="1.8"/>
<text x="508.7" y="2152.4" font-family="'Liberation Sans',Arial,sans-serif" font-size="20.4" text-anchor="start" fill="#000" letter-spacing="0.35">Model</text>
<text x="508.7" y="2199" font-family="'Liberation Sans',Arial,sans-serif" font-size="20.4" text-anchor="start" fill="#000" letter-spacing="0.35">Equation</text>
<text x="508.7" y="2257.7" font-family="'Liberation Sans',Arial,sans-serif" font-size="20.4" text-anchor="start" fill="#000" letter-spacing="0.35">Reduced Chi-Sqr</text>
<text x="508.7" y="2302.8" font-family="'Liberation Sans',Arial,sans-serif" font-size="20.4" text-anchor="start" fill="#000" letter-spacing="0.35">Adj. R-Square</text>
<text x="508.7" y="2366.9" font-family="'Liberation Sans',Arial,sans-serif" font-size="20.4" text-anchor="start" fill="#000" letter-spacing="0.35">y0</text>
<text x="508.7" y="2399.3" font-family="'Liberation Sans',Arial,sans-serif" font-size="20.4" text-anchor="start" fill="#000" letter-spacing="0.35">A1</text>
<text x="508.7" y="2431.3" font-family="'Liberation Sans',Arial,sans-serif" font-size="20.4" text-anchor="start" fill="#000" letter-spacing="0.35">t1</text>
<text x="728.2" y="2146.9" font-family="'Liberation Sans',Arial,sans-serif" font-size="20.4" text-anchor="start" fill="#000" letter-spacing="0.35">ExpDec1</text>
<text x="728.2" y="2181.1" font-family="'Liberation Sans',Arial,sans-serif" font-size="20.4" text-anchor="start" fill="#000" letter-spacing="0.35">y = A1*exp(-x/t1) + y0</text>
<text x="925" y="2240" font-family="'Liberation Sans',Arial,sans-serif" font-size="20.4" text-anchor="end" fill="#000" letter-spacing="0.35">3.01309</text>
<text x="925" y="2298.6" font-family="'Liberation Sans',Arial,sans-serif" font-size="20.4" text-anchor="end" fill="#000" letter-spacing="0.35">0.99778</text>
<text x="728.2" y="2330.2" font-family="'Liberation Sans',Arial,sans-serif" font-size="20.4" text-anchor="start" fill="#000" letter-spacing="0.35">Value</text>
<text x="949" y="2330.2" font-family="'Liberation Sans',Arial,sans-serif" font-size="20.4" text-anchor="start" fill="#000" letter-spacing="0.35">Standard Error</text>
<text x="925" y="2362.2" font-family="'Liberation Sans',Arial,sans-serif" font-size="20.4" text-anchor="end" fill="#000" letter-spacing="0.35">521.17351</text>
<text x="1108" y="2362.2" font-family="'Liberation Sans',Arial,sans-serif" font-size="20.4" text-anchor="end" fill="#000" letter-spacing="0.35">5.9495</text>
<text x="925" y="2394.7" font-family="'Liberation Sans',Arial,sans-serif" font-size="20.4" text-anchor="end" fill="#000" letter-spacing="0.35">-116.34355</text>
<text x="1108" y="2394.7" font-family="'Liberation Sans',Arial,sans-serif" font-size="20.4" text-anchor="end" fill="#000" letter-spacing="0.35">5.66012</text>
<text x="925" y="2427.1" font-family="'Liberation Sans',Arial,sans-serif" font-size="20.4" text-anchor="end" fill="#000" letter-spacing="0.35">213.51479</text>
<text x="1108" y="2427.1" font-family="'Liberation Sans',Arial,sans-serif" font-size="20.4" text-anchor="end" fill="#000" letter-spacing="0.35">22.14912</text>
</g>
<g>
<rect x="1389" y="2119.8" width="15.2" height="15.2" fill="#000"/>
<rect x="1389" y="2376.2" width="15.2" height="15.2" fill="#000"/>
<rect x="1413.8" y="2068.5" width="15.2" height="15.2" fill="#000"/>
<rect x="1463.5" y="1897.6" width="15.2" height="15.2" fill="#000"/>
<rect x="1537.9" y="1812.1" width="15.2" height="15.2" fill="#000"/>
<rect x="1835.8" y="1812.1" width="15.2" height="15.2" fill="#000"/>
<rect x="2282.6" y="1812.1" width="15.2" height="15.2" fill="#000"/>
<path d="M1395.1 2257.2L1395.2 2256L1395.5 2253L1396 2248.6L1396.6 2243L1397.3 2236.1L1398.2 2228.2L1399.2 2219.3L1400.3 2209.6L1401.5 2199.2L1402.8 2188.1L1404.3 2176.4L1405.8 2164.2L1407.5 2151.7L1409.3 2138.8L1411.1 2125.8L1413.1 2112.6L1415.2 2099.3L1417.4 2086L1419.6 2072.7L1422 2059.6L1424.5 2046.7L1427.1 2033.9L1429.7 2021.5L1432.5 2009.3L1435.3 1997.5L1438.3 1986L1441.3 1975L1444.4 1964.3L1447.6 1954.1L1450.9 1944.3L1454.3 1935L1457.8 1926.1L1461.4 1917.7L1465 1909.7L1468.8 1902.1L1472.6 1895.1L1476.5 1888.4L1480.6 1882.2L1484.6 1876.3L1488.8 1870.9L1493.1 1865.8L1497.4 1861.1L1501.8 1856.8L1506.4 1852.8L1511 1849.1L1515.6 1845.7L1520.4 1842.6L1525.2 1839.7L1530.1 1837.1L1535.1 1834.7L1540.2 1832.6L1545.4 1830.6L1550.6 1828.8L1556 1827.2L1561.4 1825.8L1566.8 1824.5L1572.4 1823.3L1578 1822.2L1583.7 1821.3L1589.5 1820.5L1595.4 1819.7L1601.4 1819L1607.4 1818.4L1613.5 1817.9L1619.7 1817.5L1625.9 1817L1632.3 1816.7L1638.7 1816.4L1645.2 1816.1L1651.7 1815.8L1658.4 1815.6L1665.1 1815.4L1671.9 1815.3L1678.7 1815.1L1685.7 1815L1692.7 1814.9L1699.7 1814.8L1706.9 1814.7L1714.1 1814.6L1721.4 1814.6L1728.8 1814.5L1736.3 1814.5L1743.8 1814.5L1751.4 1814.4L1759.1 1814.4L1766.8 1814.4L1774.6 1814.4L1782.5 1814.3L1790.5 1814.3L1798.5 1814.3L1806.6 1814.3L1814.8 1814.3L1823 1814.3L1831.4 1814.3L1839.8 1814.3L1848.2 1814.3L1856.7 1814.3L1865.3 1814.3L1874 1814.3L1882.8 1814.3L1891.6 1814.3L1900.5 1814.3L1909.4 1814.3L1918.4 1814.2L1927.5 1814.2L1936.7 1814.2L1945.9 1814.2L1955.2 1814.2L1964.6 1814.2L1974 1814.2L1983.5 1814.2L1993.1 1814.2L2002.8 1814.2L2012.5 1814.2L2022.3 1814.2L2032.1 1814.2L2042 1814.2L2052 1814.2L2062.1 1814.2L2072.2 1814.2L2082.4 1814.2L2092.6 1814.2L2103 1814.2L2113.4 1814.2L2123.8 1814.2L2134.3 1814.2L2144.9 1814.2L2155.6 1814.2L2166.3 1814.2L2177.1 1814.2L2188 1814.2L2198.9 1814.2L2209.9 1814.2L2221 1814.2L2232.1 1814.2L2243.3 1814.2L2254.5 1814.2L2265.9 1814.2L2277.3 1814.2L2288.7 1814.2" fill="none" stroke="#f00" stroke-width="7.4" stroke-linejoin="round" stroke-linecap="round"/>
<rect x="1383.1" y="1741.6" width="10.8" height="724.5" fill="#fff"/>
<line x1="1395.1" y1="1740.4" x2="1395.1" y2="2469.3" stroke="#000" stroke-width="2.4"/>
<line x1="1395.1" y1="2468.1" x2="2389.2" y2="2468.1" stroke="#000" stroke-width="2.4"/>
<line x1="1395.1" y1="2468.1" x2="1395.1" y2="2483.3" stroke="#000" stroke-width="2.4"/>
<text x="1395.1" y="2516.1" font-family="'Liberation Sans',Arial,sans-serif" font-size="29" text-anchor="middle" fill="#000">0</text>
<line x1="1519.2" y1="2468.1" x2="1519.2" y2="2483.3" stroke="#000" stroke-width="2.4"/>
<text x="1519.2" y="2516.1" font-family="'Liberation Sans',Arial,sans-serif" font-size="29" text-anchor="middle" fill="#000">50</text>
<line x1="1643.3" y1="2468.1" x2="1643.3" y2="2483.3" stroke="#000" stroke-width="2.4"/>
<text x="1643.3" y="2516.1" font-family="'Liberation Sans',Arial,sans-serif" font-size="29" text-anchor="middle" fill="#000">100</text>
<line x1="1767.4" y1="2468.1" x2="1767.4" y2="2483.3" stroke="#000" stroke-width="2.4"/>
<text x="1767.4" y="2516.1" font-family="'Liberation Sans',Arial,sans-serif" font-size="29" text-anchor="middle" fill="#000">150</text>
<line x1="1891.5" y1="2468.1" x2="1891.5" y2="2483.3" stroke="#000" stroke-width="2.4"/>
<text x="1891.5" y="2516.1" font-family="'Liberation Sans',Arial,sans-serif" font-size="29" text-anchor="middle" fill="#000">200</text>
<line x1="2015.7" y1="2468.1" x2="2015.7" y2="2483.3" stroke="#000" stroke-width="2.4"/>
<text x="2015.7" y="2516.1" font-family="'Liberation Sans',Arial,sans-serif" font-size="29" text-anchor="middle" fill="#000">250</text>
<line x1="2139.8" y1="2468.1" x2="2139.8" y2="2483.3" stroke="#000" stroke-width="2.4"/>
<text x="2139.8" y="2516.1" font-family="'Liberation Sans',Arial,sans-serif" font-size="29" text-anchor="middle" fill="#000">300</text>
<line x1="2263.9" y1="2468.1" x2="2263.9" y2="2483.3" stroke="#000" stroke-width="2.4"/>
<text x="2263.9" y="2516.1" font-family="'Liberation Sans',Arial,sans-serif" font-size="29" text-anchor="middle" fill="#000">350</text>
<line x1="2388" y1="2468.1" x2="2388" y2="2483.3" stroke="#000" stroke-width="2.4"/>
<text x="2388" y="2516.1" font-family="'Liberation Sans',Arial,sans-serif" font-size="29" text-anchor="middle" fill="#000">400</text>
<line x1="1457.2" y1="2468.1" x2="1457.2" y2="2475.8" stroke="#000" stroke-width="2.4"/>
<line x1="1581.3" y1="2468.1" x2="1581.3" y2="2475.8" stroke="#000" stroke-width="2.4"/>
<line x1="1705.4" y1="2468.1" x2="1705.4" y2="2475.8" stroke="#000" stroke-width="2.4"/>
<line x1="1829.5" y1="2468.1" x2="1829.5" y2="2475.8" stroke="#000" stroke-width="2.4"/>
<line x1="1953.6" y1="2468.1" x2="1953.6" y2="2475.8" stroke="#000" stroke-width="2.4"/>
<line x1="2077.7" y1="2468.1" x2="2077.7" y2="2475.8" stroke="#000" stroke-width="2.4"/>
<line x1="2201.8" y1="2468.1" x2="2201.8" y2="2475.8" stroke="#000" stroke-width="2.4"/>
<line x1="2325.9" y1="2468.1" x2="2325.9" y2="2475.8" stroke="#000" stroke-width="2.4"/>
<line x1="1379.9" y1="2382.6" x2="1395.1" y2="2382.6" stroke="#000" stroke-width="2.4"/>
<text x="1370.7" y="2390.4" font-family="'Liberation Sans',Arial,sans-serif" font-size="29" text-anchor="end" fill="#000">400</text>
<line x1="1379.9" y1="2211.7" x2="1395.1" y2="2211.7" stroke="#000" stroke-width="2.4"/>
<text x="1370.7" y="2219.5" font-family="'Liberation Sans',Arial,sans-serif" font-size="29" text-anchor="end" fill="#000">420</text>
<line x1="1379.9" y1="2040.7" x2="1395.1" y2="2040.7" stroke="#000" stroke-width="2.4"/>
<text x="1370.7" y="2048.5" font-family="'Liberation Sans',Arial,sans-serif" font-size="29" text-anchor="end" fill="#000">440</text>
<line x1="1379.9" y1="1869.8" x2="1395.1" y2="1869.8" stroke="#000" stroke-width="2.4"/>
<text x="1370.7" y="1877.6" font-family="'Liberation Sans',Arial,sans-serif" font-size="29" text-anchor="end" fill="#000">460</text>
<line x1="1387.4" y1="2468.1" x2="1395.1" y2="2468.1" stroke="#000" stroke-width="2.4"/>
<line x1="1387.4" y1="2297.2" x2="1395.1" y2="2297.2" stroke="#000" stroke-width="2.4"/>
<line x1="1387.4" y1="2126.2" x2="1395.1" y2="2126.2" stroke="#000" stroke-width="2.4"/>
<line x1="1387.4" y1="1955.3" x2="1395.1" y2="1955.3" stroke="#000" stroke-width="2.4"/>
<line x1="1387.4" y1="1784.3" x2="1395.1" y2="1784.3" stroke="#000" stroke-width="2.4"/>
<text x="1424.4" y="1778.9" font-family="'Liberation Serif','Times New Roman',serif" font-size="38.4" text-anchor="start" fill="#000" stroke="#000" stroke-width="0.2">(F) S−AgNP</text>
<text x="1281.4" y="2128.4" font-family="'Liberation Sans',Arial,sans-serif" font-size="36" text-anchor="middle" fill="#000" transform="rotate(-90 1281.4 2128.4)" dy="0.36em" letter-spacing="0.27">wavelength (nm)</text>
<text x="1892" y="2576.3" font-family="'Liberation Sans',Arial,sans-serif" font-size="36" text-anchor="middle" fill="#000" letter-spacing="0.35">time (min)</text>
<rect x="1646.8" y="2119" width="666" height="318.1" fill="#fff"/>
<rect x="1646.8" y="2272.9" width="477.3" height="32.1" fill="#fe0000"/>
<rect x="1646.8" y="2404" width="666" height="33.1" fill="#fe0000"/>
<line x1="1646.8" y1="2153.3" x2="2312.8" y2="2153.3" stroke="#c9c9c9" stroke-width="1.6"/>
<line x1="1646.8" y1="2213.1" x2="2312.8" y2="2213.1" stroke="#c9c9c9" stroke-width="1.6"/>
<line x1="1646.8" y1="2272.9" x2="2312.8" y2="2272.9" stroke="#c9c9c9" stroke-width="1.6"/>
<line x1="1646.8" y1="2305" x2="2312.8" y2="2305" stroke="#c9c9c9" stroke-width="1.6"/>
<line x1="1646.8" y1="2338.5" x2="2312.8" y2="2338.5" stroke="#c9c9c9" stroke-width="1.6"/>
<line x1="1646.8" y1="2371" x2="2312.8" y2="2371" stroke="#c9c9c9" stroke-width="1.6"/>
<line x1="1646.8" y1="2404" x2="2312.8" y2="2404" stroke="#c9c9c9" stroke-width="1.6"/>
<line x1="1885.4" y1="2119" x2="1885.4" y2="2437.1" stroke="#c9c9c9" stroke-width="1.6"/>
<line x1="2124.1" y1="2119" x2="2124.1" y2="2437.1" stroke="#c9c9c9" stroke-width="1.6"/>
<rect x="1646.8" y="2119" width="666" height="318.1" fill="none" stroke="#2a2a2a" stroke-width="1.8"/>
<text x="1658.8" y="2143.5" font-family="'Liberation Sans',Arial,sans-serif" font-size="21.2" text-anchor="start" fill="#000" letter-spacing="0.2">Model</text>
<text x="1658.8" y="2190.6" font-family="'Liberation Sans',Arial,sans-serif" font-size="21.2" text-anchor="start" fill="#000" letter-spacing="0.2">Equation</text>
<text x="1658.8" y="2250.4" font-family="'Liberation Sans',Arial,sans-serif" font-size="21.2" text-anchor="start" fill="#000" letter-spacing="0.2">Reduced Chi-Sqr</text>
<text x="1658.8" y="2296.3" font-family="'Liberation Sans',Arial,sans-serif" font-size="21.2" text-anchor="start" fill="#000" letter-spacing="0.2">Adj. R-Square</text>
<text x="1658.8" y="2362.1" font-family="'Liberation Sans',Arial,sans-serif" font-size="21.2" text-anchor="start" fill="#000" letter-spacing="0.2">y0</text>
<text x="1658.8" y="2394.9" font-family="'Liberation Sans',Arial,sans-serif" font-size="21.2" text-anchor="start" fill="#000" letter-spacing="0.2">A1</text>
<text x="1658.8" y="2427.9" font-family="'Liberation Sans',Arial,sans-serif" font-size="21.2" text-anchor="start" fill="#000" letter-spacing="0.2">t1</text>
<text x="1896.6" y="2138.6" font-family="'Liberation Sans',Arial,sans-serif" font-size="21.2" text-anchor="start" fill="#000" letter-spacing="0.2">ExpDec1</text>
<text x="1896.6" y="2172.9" font-family="'Liberation Sans',Arial,sans-serif" font-size="21.2" text-anchor="start" fill="#000" letter-spacing="0.2">y = A1*exp(-x/t1) + y0</text>
<text x="2109.8" y="2232.7" font-family="'Liberation Sans',Arial,sans-serif" font-size="21.2" text-anchor="end" fill="#000" letter-spacing="0.2">111.16842</text>
<text x="2109.8" y="2292.5" font-family="'Liberation Sans',Arial,sans-serif" font-size="21.2" text-anchor="end" fill="#000" letter-spacing="0.2">0.82314</text>
<text x="1896.6" y="2324.6" font-family="'Liberation Sans',Arial,sans-serif" font-size="21.2" text-anchor="start" fill="#000" letter-spacing="0.2">Value</text>
<text x="2135.3" y="2324.6" font-family="'Liberation Sans',Arial,sans-serif" font-size="21.2" text-anchor="start" fill="#000" letter-spacing="0.2">Standard Error</text>
<text x="2109.8" y="2358.1" font-family="'Liberation Sans',Arial,sans-serif" font-size="21.2" text-anchor="end" fill="#000" letter-spacing="0.2">466.50054</text>
<text x="2297.2" y="2358.1" font-family="'Liberation Sans',Arial,sans-serif" font-size="21.2" text-anchor="end" fill="#000" letter-spacing="0.2">6.61474</text>
<text x="2109.8" y="2390.6" font-family="'Liberation Sans',Arial,sans-serif" font-size="21.2" text-anchor="end" fill="#000" letter-spacing="0.2">-51.82088</text>
<text x="2297.2" y="2390.6" font-family="'Liberation Sans',Arial,sans-serif" font-size="21.2" text-anchor="end" fill="#000" letter-spacing="0.2">9.54943</text>
<text x="2109.8" y="2423.6" font-family="'Liberation Sans',Arial,sans-serif" font-size="21.2" text-anchor="end" fill="#000" letter-spacing="0.2">18.35825</text>
<text x="2297.2" y="2423.6" font-family="'Liberation Sans',Arial,sans-serif" font-size="21.2" text-anchor="end" fill="#000" letter-spacing="0.2">10.31115</text>
</g>
<g>
<rect x="140.7" y="3157.7" width="15.2" height="15.2" fill="#000"/>
<rect x="140.7" y="3240.6" width="15.2" height="15.2" fill="#000"/>
<rect x="165.5" y="3143.9" width="15.2" height="15.2" fill="#000"/>
<rect x="215.2" y="3047.1" width="15.2" height="15.2" fill="#000"/>
<rect x="289.6" y="2957.3" width="15.2" height="15.2" fill="#000"/>
<rect x="587.4" y="2743.1" width="15.2" height="15.2" fill="#000"/>
<rect x="1034.1" y="2639.5" width="15.2" height="15.2" fill="#000"/>
<path d="M146.8 3201.6L146.9 3201.4L147.2 3200.7L147.7 3199.8L148.3 3198.5L149 3197L149.9 3195.2L150.9 3193.2L152 3190.9L153.2 3188.5L154.5 3185.7L156 3182.8L157.5 3179.7L159.2 3176.4L161 3172.8L162.8 3169.1L164.8 3165.3L166.9 3161.2L169.1 3157L171.3 3152.7L173.7 3148.2L176.2 3143.5L178.7 3138.7L181.4 3133.8L184.2 3128.8L187 3123.6L190 3118.3L193 3113L196.1 3107.5L199.3 3101.9L202.6 3096.3L206 3090.5L209.5 3084.7L213.1 3078.8L216.7 3072.8L220.5 3066.8L224.3 3060.8L228.2 3054.6L232.2 3048.5L236.3 3042.3L240.5 3036L244.8 3029.8L249.1 3023.5L253.5 3017.2L258 3010.8L262.6 3004.5L267.3 2998.1L272.1 2991.8L276.9 2985.5L281.8 2979.1L286.8 2972.8L291.9 2966.5L297.1 2960.2L302.3 2953.9L307.6 2947.7L313 2941.5L318.5 2935.3L324.1 2929.1L329.7 2923L335.4 2917L341.2 2911L347.1 2905L353 2899.1L359 2893.2L365.2 2887.4L371.3 2881.6L377.6 2875.9L383.9 2870.3L390.3 2864.7L396.8 2859.2L403.4 2853.7L410 2848.4L416.7 2843L423.5 2837.8L430.4 2832.6L437.3 2827.6L444.3 2822.5L451.4 2817.6L458.5 2812.7L465.8 2807.9L473.1 2803.2L480.5 2798.6L487.9 2794L495.4 2789.6L503 2785.2L510.7 2780.8L518.4 2776.6L526.3 2772.5L534.1 2768.4L542.1 2764.4L550.1 2760.5L558.2 2756.6L566.4 2752.9L574.7 2749.2L583 2745.6L591.4 2742L599.8 2738.6L608.4 2735.2L617 2731.9L625.6 2728.7L634.4 2725.6L643.2 2722.5L652.1 2719.5L661 2716.6L670 2713.7L679.1 2710.9L688.3 2708.2L697.5 2705.6L706.8 2703L716.2 2700.5L725.6 2698.1L735.1 2695.7L744.7 2693.4L754.3 2691.1L764 2689L773.8 2686.8L783.7 2684.8L793.6 2682.8L803.6 2680.8L813.6 2678.9L823.7 2677.1L833.9 2675.3L844.2 2673.6L854.5 2671.9L864.9 2670.3L875.4 2668.7L885.9 2667.2L896.5 2665.8L907.1 2664.3L917.9 2662.9L928.7 2661.6L939.5 2660.3L950.4 2659.1L961.4 2657.9L972.5 2656.7L983.6 2655.6L994.8 2654.5L1006.1 2653.4L1017.4 2652.4L1028.8 2651.4L1040.2 2650.5" fill="none" stroke="#f00" stroke-width="6.4" stroke-linejoin="round" stroke-linecap="round"/>
<rect x="134.8" y="2597.5" width="10.8" height="723.5" fill="#fff"/>
<line x1="146.8" y1="2596.3" x2="146.8" y2="3324.2" stroke="#000" stroke-width="2.4"/>
<line x1="146.8" y1="3323" x2="1140.7" y2="3323" stroke="#000" stroke-width="2.4"/>
<line x1="146.8" y1="3323" x2="146.8" y2="3338.2" stroke="#000" stroke-width="2.4"/>
<text x="146.8" y="3371.4" font-family="'Liberation Sans',Arial,sans-serif" font-size="29" text-anchor="middle" fill="#000">0</text>
<line x1="270.9" y1="3323" x2="270.9" y2="3338.2" stroke="#000" stroke-width="2.4"/>
<text x="270.9" y="3371.4" font-family="'Liberation Sans',Arial,sans-serif" font-size="29" text-anchor="middle" fill="#000">50</text>
<line x1="395" y1="3323" x2="395" y2="3338.2" stroke="#000" stroke-width="2.4"/>
<text x="395" y="3371.4" font-family="'Liberation Sans',Arial,sans-serif" font-size="29" text-anchor="middle" fill="#000">100</text>
<line x1="519.1" y1="3323" x2="519.1" y2="3338.2" stroke="#000" stroke-width="2.4"/>
<text x="519.1" y="3371.4" font-family="'Liberation Sans',Arial,sans-serif" font-size="29" text-anchor="middle" fill="#000">150</text>
<line x1="643.1" y1="3323" x2="643.1" y2="3338.2" stroke="#000" stroke-width="2.4"/>
<text x="643.1" y="3371.4" font-family="'Liberation Sans',Arial,sans-serif" font-size="29" text-anchor="middle" fill="#000">200</text>
<line x1="767.2" y1="3323" x2="767.2" y2="3338.2" stroke="#000" stroke-width="2.4"/>
<text x="767.2" y="3371.4" font-family="'Liberation Sans',Arial,sans-serif" font-size="29" text-anchor="middle" fill="#000">250</text>
<line x1="891.3" y1="3323" x2="891.3" y2="3338.2" stroke="#000" stroke-width="2.4"/>
<text x="891.3" y="3371.4" font-family="'Liberation Sans',Arial,sans-serif" font-size="29" text-anchor="middle" fill="#000">300</text>
<line x1="1015.4" y1="3323" x2="1015.4" y2="3338.2" stroke="#000" stroke-width="2.4"/>
<text x="1015.4" y="3371.4" font-family="'Liberation Sans',Arial,sans-serif" font-size="29" text-anchor="middle" fill="#000">350</text>
<line x1="1139.5" y1="3323" x2="1139.5" y2="3338.2" stroke="#000" stroke-width="2.4"/>
<text x="1139.5" y="3371.4" font-family="'Liberation Sans',Arial,sans-serif" font-size="29" text-anchor="middle" fill="#000">400</text>
<line x1="208.8" y1="3323" x2="208.8" y2="3330.7" stroke="#000" stroke-width="2.4"/>
<line x1="332.9" y1="3323" x2="332.9" y2="3330.7" stroke="#000" stroke-width="2.4"/>
<line x1="457" y1="3323" x2="457" y2="3330.7" stroke="#000" stroke-width="2.4"/>
<line x1="581.1" y1="3323" x2="581.1" y2="3330.7" stroke="#000" stroke-width="2.4"/>
<line x1="705.2" y1="3323" x2="705.2" y2="3330.7" stroke="#000" stroke-width="2.4"/>
<line x1="829.3" y1="3323" x2="829.3" y2="3330.7" stroke="#000" stroke-width="2.4"/>
<line x1="953.4" y1="3323" x2="953.4" y2="3330.7" stroke="#000" stroke-width="2.4"/>
<line x1="1077.5" y1="3323" x2="1077.5" y2="3330.7" stroke="#000" stroke-width="2.4"/>
<line x1="131.6" y1="3219.4" x2="146.8" y2="3219.4" stroke="#000" stroke-width="2.4"/>
<text x="122.3" y="3227.1" font-family="'Liberation Sans',Arial,sans-serif" font-size="29" text-anchor="end" fill="#000">680</text>
<line x1="131.6" y1="3081.2" x2="146.8" y2="3081.2" stroke="#000" stroke-width="2.4"/>
<text x="122.3" y="3088.9" font-family="'Liberation Sans',Arial,sans-serif" font-size="29" text-anchor="end" fill="#000">720</text>
<line x1="131.6" y1="2943" x2="146.8" y2="2943" stroke="#000" stroke-width="2.4"/>
<text x="122.3" y="2950.8" font-family="'Liberation Sans',Arial,sans-serif" font-size="29" text-anchor="end" fill="#000">760</text>
<line x1="131.6" y1="2804.8" x2="146.8" y2="2804.8" stroke="#000" stroke-width="2.4"/>
<text x="122.3" y="2812.6" font-family="'Liberation Sans',Arial,sans-serif" font-size="29" text-anchor="end" fill="#000">800</text>
<line x1="131.6" y1="2666.6" x2="146.8" y2="2666.6" stroke="#000" stroke-width="2.4"/>
<text x="122.3" y="2674.4" font-family="'Liberation Sans',Arial,sans-serif" font-size="29" text-anchor="end" fill="#000">840</text>
<line x1="139.1" y1="3288.5" x2="146.8" y2="3288.5" stroke="#000" stroke-width="2.4"/>
<line x1="139.1" y1="3150.3" x2="146.8" y2="3150.3" stroke="#000" stroke-width="2.4"/>
<line x1="139.1" y1="3012.1" x2="146.8" y2="3012.1" stroke="#000" stroke-width="2.4"/>
<line x1="139.1" y1="2873.9" x2="146.8" y2="2873.9" stroke="#000" stroke-width="2.4"/>
<line x1="139.1" y1="2735.7" x2="146.8" y2="2735.7" stroke="#000" stroke-width="2.4"/>
<line x1="139.1" y1="2597.5" x2="146.8" y2="2597.5" stroke="#000" stroke-width="2.4"/>
<text x="180.5" y="2636.6" font-family="'Liberation Serif','Times New Roman',serif" font-size="39.7" text-anchor="start" fill="#000" stroke="#000" stroke-width="0.2">(G) AgNPts</text>
<text x="33.6" y="2981.2" font-family="'Liberation Sans',Arial,sans-serif" font-size="36" text-anchor="middle" fill="#000" transform="rotate(-90 33.6 2981.2)" dy="0.36em" letter-spacing="0.27">wavelength (nm)</text>
<text x="643" y="3431" font-family="'Liberation Sans',Arial,sans-serif" font-size="36" text-anchor="middle" fill="#000" letter-spacing="0.35">time (min)</text>
<rect x="489" y="2973.7" width="624.8" height="311.8" fill="#fff"/>
<rect x="489" y="3125.4" width="440.3" height="31.6" fill="#fe0000"/>
<rect x="489" y="3253.9" width="624.8" height="31.6" fill="#fe0000"/>
<line x1="489" y1="3007.9" x2="1113.8" y2="3007.9" stroke="#c9c9c9" stroke-width="1.6"/>
<line x1="489" y1="3066.8" x2="1113.8" y2="3066.8" stroke="#c9c9c9" stroke-width="1.6"/>
<line x1="489" y1="3125.4" x2="1113.8" y2="3125.4" stroke="#c9c9c9" stroke-width="1.6"/>
<line x1="489" y1="3157" x2="1113.8" y2="3157" stroke="#c9c9c9" stroke-width="1.6"/>
<line x1="489" y1="3189" x2="1113.8" y2="3189" stroke="#c9c9c9" stroke-width="1.6"/>
<line x1="489" y1="3221.5" x2="1113.8" y2="3221.5" stroke="#c9c9c9" stroke-width="1.6"/>
<line x1="489" y1="3253.9" x2="1113.8" y2="3253.9" stroke="#c9c9c9" stroke-width="1.6"/>
<line x1="708.5" y1="2973.7" x2="708.5" y2="3285.5" stroke="#c9c9c9" stroke-width="1.6"/>
<line x1="929.3" y1="2973.7" x2="929.3" y2="3285.5" stroke="#c9c9c9" stroke-width="1.6"/>
<rect x="489" y="2973.7" width="624.8" height="311.8" fill="none" stroke="#2a2a2a" stroke-width="1.8"/>
<text x="499.5" y="2997.9" font-family="'Liberation Sans',Arial,sans-serif" font-size="20.4" text-anchor="start" fill="#000" letter-spacing="0.35">Model</text>
<text x="499.5" y="3044.5" font-family="'Liberation Sans',Arial,sans-serif" font-size="20.4" text-anchor="start" fill="#000" letter-spacing="0.35">Equation</text>
<text x="499.5" y="3103.2" font-family="'Liberation Sans',Arial,sans-serif" font-size="20.4" text-anchor="start" fill="#000" letter-spacing="0.35">Reduced Chi-Sqr</text>
<text x="499.5" y="3148.3" font-family="'Liberation Sans',Arial,sans-serif" font-size="20.4" text-anchor="start" fill="#000" letter-spacing="0.35">Adj. R-Square</text>
<text x="499.5" y="3212.4" font-family="'Liberation Sans',Arial,sans-serif" font-size="20.4" text-anchor="start" fill="#000" letter-spacing="0.35">y0</text>
<text x="499.5" y="3244.8" font-family="'Liberation Sans',Arial,sans-serif" font-size="20.4" text-anchor="start" fill="#000" letter-spacing="0.35">A1</text>
<text x="499.5" y="3276.8" font-family="'Liberation Sans',Arial,sans-serif" font-size="20.4" text-anchor="start" fill="#000" letter-spacing="0.35">t1</text>
<text x="719" y="2992.4" font-family="'Liberation Sans',Arial,sans-serif" font-size="20.4" text-anchor="start" fill="#000" letter-spacing="0.35">ExpDec1</text>
<text x="719" y="3026.6" font-family="'Liberation Sans',Arial,sans-serif" font-size="20.4" text-anchor="start" fill="#000" letter-spacing="0.35">y = A1*exp(-x/t1) + y0</text>
<text x="915.8" y="3085.5" font-family="'Liberation Sans',Arial,sans-serif" font-size="20.4" text-anchor="end" fill="#000" letter-spacing="0.35">76.93498</text>
<text x="915.8" y="3144.1" font-family="'Liberation Sans',Arial,sans-serif" font-size="20.4" text-anchor="end" fill="#000" letter-spacing="0.35">0.9818</text>
<text x="719" y="3175.7" font-family="'Liberation Sans',Arial,sans-serif" font-size="20.4" text-anchor="start" fill="#000" letter-spacing="0.35">Value</text>
<text x="939.8" y="3175.7" font-family="'Liberation Sans',Arial,sans-serif" font-size="20.4" text-anchor="start" fill="#000" letter-spacing="0.35">Standard Error</text>
<text x="915.8" y="3207.7" font-family="'Liberation Sans',Arial,sans-serif" font-size="20.4" text-anchor="end" fill="#000" letter-spacing="0.35">851.10195</text>
<text x="1098.8" y="3207.7" font-family="'Liberation Sans',Arial,sans-serif" font-size="20.4" text-anchor="end" fill="#000" letter-spacing="0.35">11.61078</text>
<text x="915.8" y="3240.2" font-family="'Liberation Sans',Arial,sans-serif" font-size="20.4" text-anchor="end" fill="#000" letter-spacing="0.35">-165.97112</text>
<text x="1098.8" y="3240.2" font-family="'Liberation Sans',Arial,sans-serif" font-size="20.4" text-anchor="end" fill="#000" letter-spacing="0.35">11.51166</text>
<text x="915.8" y="3272.6" font-family="'Liberation Sans',Arial,sans-serif" font-size="20.4" text-anchor="end" fill="#000" letter-spacing="0.35">110.77452</text>
<text x="1098.8" y="3272.6" font-family="'Liberation Sans',Arial,sans-serif" font-size="20.4" text-anchor="end" fill="#000" letter-spacing="0.35">22.17291</text>
</g>
<g>
<rect x="1384.5" y="3048.6" width="15.2" height="15.2" fill="#000"/>
<rect x="1384.5" y="3236.7" width="15.2" height="15.2" fill="#000"/>
<rect x="1409.3" y="2963.1" width="15.2" height="15.2" fill="#000"/>
<rect x="1458.9" y="2792.1" width="15.2" height="15.2" fill="#000"/>
<rect x="1533.3" y="2757.9" width="15.2" height="15.2" fill="#000"/>
<rect x="1830.9" y="2672.4" width="15.2" height="15.2" fill="#000"/>
<rect x="2277.4" y="2672.4" width="15.2" height="15.2" fill="#000"/>
<path d="M1390.6 3146.5L1390.7 3145.5L1391 3143L1391.5 3139.2L1392.1 3134.4L1392.8 3128.5L1393.7 3121.7L1394.7 3114.1L1395.8 3105.7L1397 3096.6L1398.3 3086.9L1399.8 3076.6L1401.3 3065.9L1403 3054.7L1404.8 3043.2L1406.6 3031.5L1408.6 3019.5L1410.7 3007.3L1412.8 2995.1L1415.1 2982.8L1417.5 2970.5L1420 2958.2L1422.5 2946.1L1425.2 2934.1L1427.9 2922.2L1430.8 2910.6L1433.7 2899.2L1436.8 2888.1L1439.9 2877.2L1443.1 2866.7L1446.4 2856.5L1449.8 2846.7L1453.3 2837.2L1456.8 2828L1460.5 2819.3L1464.2 2810.9L1468.1 2802.9L1472 2795.2L1476 2788L1480.1 2781.1L1484.2 2774.6L1488.5 2768.4L1492.8 2762.6L1497.3 2757.1L1501.8 2752L1506.4 2747.2L1511 2742.7L1515.8 2738.5L1520.6 2734.6L1525.5 2730.9L1530.5 2727.5L1535.6 2724.4L1540.8 2721.5L1546 2718.8L1551.3 2716.4L1556.7 2714.1L1562.2 2712L1567.8 2710.1L1573.4 2708.3L1579.1 2706.7L1584.9 2705.2L1590.8 2703.9L1596.7 2702.7L1602.7 2701.6L1608.8 2700.6L1615 2699.7L1621.2 2698.8L1627.6 2698.1L1634 2697.4L1640.5 2696.8L1647 2696.3L1653.6 2695.8L1660.4 2695.4L1667.1 2695L1674 2694.6L1680.9 2694.3L1687.9 2694L1695 2693.8L1702.2 2693.6L1709.4 2693.4L1716.7 2693.2L1724.1 2693.1L1731.5 2692.9L1739 2692.8L1746.6 2692.7L1754.3 2692.6L1762 2692.6L1769.8 2692.5L1777.7 2692.4L1785.7 2692.4L1793.7 2692.3L1801.8 2692.3L1810 2692.2L1818.2 2692.2L1826.5 2692.2L1834.9 2692.2L1843.3 2692.1L1851.9 2692.1L1860.5 2692.1L1869.1 2692.1L1877.9 2692.1L1886.7 2692.1L1895.5 2692.1L1904.5 2692.1L1913.5 2692.1L1922.6 2692.1L1931.8 2692.1L1941 2692L1950.3 2692L1959.6 2692L1969.1 2692L1978.6 2692L1988.1 2692L1997.8 2692L2007.5 2692L2017.2 2692L2027.1 2692L2037 2692L2047 2692L2057 2692L2067.1 2692L2077.3 2692L2087.6 2692L2097.9 2692L2108.3 2692L2118.7 2692L2129.2 2692L2139.8 2692L2150.5 2692L2161.2 2692L2172 2692L2182.8 2692L2193.8 2692L2204.7 2692L2215.8 2692L2226.9 2692L2238.1 2692L2249.3 2692L2260.7 2692L2272 2692L2283.5 2692" fill="none" stroke="#f00" stroke-width="7.0" stroke-linejoin="round" stroke-linecap="round"/>
<rect x="1378.6" y="2593.3" width="10.8" height="724.7" fill="#fff"/>
<line x1="1390.6" y1="2592.1" x2="1390.6" y2="3321.2" stroke="#000" stroke-width="2.4"/>
<line x1="1390.6" y1="3320" x2="2383.9" y2="3320" stroke="#000" stroke-width="2.4"/>
<line x1="1390.6" y1="3320" x2="1390.6" y2="3335.2" stroke="#000" stroke-width="2.4"/>
<text x="1390.6" y="3367.1" font-family="'Liberation Sans',Arial,sans-serif" font-size="29" text-anchor="middle" fill="#000">0</text>
<line x1="1514.6" y1="3320" x2="1514.6" y2="3335.2" stroke="#000" stroke-width="2.4"/>
<text x="1514.6" y="3367.1" font-family="'Liberation Sans',Arial,sans-serif" font-size="29" text-anchor="middle" fill="#000">50</text>
<line x1="1638.6" y1="3320" x2="1638.6" y2="3335.2" stroke="#000" stroke-width="2.4"/>
<text x="1638.6" y="3367.1" font-family="'Liberation Sans',Arial,sans-serif" font-size="29" text-anchor="middle" fill="#000">100</text>
<line x1="1762.6" y1="3320" x2="1762.6" y2="3335.2" stroke="#000" stroke-width="2.4"/>
<text x="1762.6" y="3367.1" font-family="'Liberation Sans',Arial,sans-serif" font-size="29" text-anchor="middle" fill="#000">150</text>
<line x1="1886.6" y1="3320" x2="1886.6" y2="3335.2" stroke="#000" stroke-width="2.4"/>
<text x="1886.6" y="3367.1" font-family="'Liberation Sans',Arial,sans-serif" font-size="29" text-anchor="middle" fill="#000">200</text>
<line x1="2010.7" y1="3320" x2="2010.7" y2="3335.2" stroke="#000" stroke-width="2.4"/>
<text x="2010.7" y="3367.1" font-family="'Liberation Sans',Arial,sans-serif" font-size="29" text-anchor="middle" fill="#000">250</text>
<line x1="2134.7" y1="3320" x2="2134.7" y2="3335.2" stroke="#000" stroke-width="2.4"/>
<text x="2134.7" y="3367.1" font-family="'Liberation Sans',Arial,sans-serif" font-size="29" text-anchor="middle" fill="#000">300</text>
<line x1="2258.7" y1="3320" x2="2258.7" y2="3335.2" stroke="#000" stroke-width="2.4"/>
<text x="2258.7" y="3367.1" font-family="'Liberation Sans',Arial,sans-serif" font-size="29" text-anchor="middle" fill="#000">350</text>
<line x1="2382.7" y1="3320" x2="2382.7" y2="3335.2" stroke="#000" stroke-width="2.4"/>
<text x="2382.7" y="3367.1" font-family="'Liberation Sans',Arial,sans-serif" font-size="29" text-anchor="middle" fill="#000">400</text>
<line x1="1452.6" y1="3320" x2="1452.6" y2="3327.7" stroke="#000" stroke-width="2.4"/>
<line x1="1576.6" y1="3320" x2="1576.6" y2="3327.7" stroke="#000" stroke-width="2.4"/>
<line x1="1700.6" y1="3320" x2="1700.6" y2="3327.7" stroke="#000" stroke-width="2.4"/>
<line x1="1824.6" y1="3320" x2="1824.6" y2="3327.7" stroke="#000" stroke-width="2.4"/>
<line x1="1948.7" y1="3320" x2="1948.7" y2="3327.7" stroke="#000" stroke-width="2.4"/>
<line x1="2072.7" y1="3320" x2="2072.7" y2="3327.7" stroke="#000" stroke-width="2.4"/>
<line x1="2196.7" y1="3320" x2="2196.7" y2="3327.7" stroke="#000" stroke-width="2.4"/>
<line x1="2320.7" y1="3320" x2="2320.7" y2="3327.7" stroke="#000" stroke-width="2.4"/>
<line x1="1375.4" y1="3191.8" x2="1390.6" y2="3191.8" stroke="#000" stroke-width="2.4"/>
<text x="1365.4" y="3199.5" font-family="'Liberation Sans',Arial,sans-serif" font-size="29" text-anchor="end" fill="#000">700</text>
<line x1="1375.4" y1="3020.8" x2="1390.6" y2="3020.8" stroke="#000" stroke-width="2.4"/>
<text x="1365.4" y="3028.6" font-family="'Liberation Sans',Arial,sans-serif" font-size="29" text-anchor="end" fill="#000">720</text>
<line x1="1375.4" y1="2849.8" x2="1390.6" y2="2849.8" stroke="#000" stroke-width="2.4"/>
<text x="1365.4" y="2857.6" font-family="'Liberation Sans',Arial,sans-serif" font-size="29" text-anchor="end" fill="#000">740</text>
<line x1="1375.4" y1="2678.8" x2="1390.6" y2="2678.8" stroke="#000" stroke-width="2.4"/>
<text x="1365.4" y="2686.6" font-family="'Liberation Sans',Arial,sans-serif" font-size="29" text-anchor="end" fill="#000">760</text>
<line x1="1382.9" y1="3277.3" x2="1390.6" y2="3277.3" stroke="#000" stroke-width="2.4"/>
<line x1="1382.9" y1="3106.3" x2="1390.6" y2="3106.3" stroke="#000" stroke-width="2.4"/>
<line x1="1382.9" y1="2935.3" x2="1390.6" y2="2935.3" stroke="#000" stroke-width="2.4"/>
<line x1="1382.9" y1="2764.3" x2="1390.6" y2="2764.3" stroke="#000" stroke-width="2.4"/>
<line x1="1382.9" y1="2593.3" x2="1390.6" y2="2593.3" stroke="#000" stroke-width="2.4"/>
<text x="1407.5" y="2631.4" font-family="'Liberation Serif','Times New Roman',serif" font-size="39.1" text-anchor="start" fill="#000" stroke="#000" stroke-width="0.2">(H) T−AgNPts</text>
<text x="1276.1" y="2977.1" font-family="'Liberation Sans',Arial,sans-serif" font-size="36" text-anchor="middle" fill="#000" transform="rotate(-90 1276.1 2977.1)" dy="0.36em" letter-spacing="0.27">wavelength (nm)</text>
<text x="1886.7" y="3427.3" font-family="'Liberation Sans',Arial,sans-serif" font-size="36" text-anchor="middle" fill="#000" letter-spacing="0.35">time (min)</text>
<rect x="1655.2" y="2955.3" width="717" height="336" fill="#fff"/>
<rect x="1655.2" y="3117.7" width="514.8" height="34.6" fill="#fe0000"/>
<rect x="1655.2" y="3256.7" width="717" height="34.6" fill="#fe0000"/>
<line x1="1655.2" y1="2991.4" x2="2372.2" y2="2991.4" stroke="#c9c9c9" stroke-width="1.6"/>
<line x1="1655.2" y1="3054.6" x2="2372.2" y2="3054.6" stroke="#c9c9c9" stroke-width="1.6"/>
<line x1="1655.2" y1="3117.7" x2="2372.2" y2="3117.7" stroke="#c9c9c9" stroke-width="1.6"/>
<line x1="1655.2" y1="3152.3" x2="2372.2" y2="3152.3" stroke="#c9c9c9" stroke-width="1.6"/>
<line x1="1655.2" y1="3187.6" x2="2372.2" y2="3187.6" stroke="#c9c9c9" stroke-width="1.6"/>
<line x1="1655.2" y1="3222.2" x2="2372.2" y2="3222.2" stroke="#c9c9c9" stroke-width="1.6"/>
<line x1="1655.2" y1="3256.7" x2="2372.2" y2="3256.7" stroke="#c9c9c9" stroke-width="1.6"/>
<line x1="1912.2" y1="2955.3" x2="1912.2" y2="3291.3" stroke="#c9c9c9" stroke-width="1.6"/>
<line x1="2170" y1="2955.3" x2="2170" y2="3291.3" stroke="#c9c9c9" stroke-width="1.6"/>
<rect x="1655.2" y="2955.3" width="717" height="336" fill="none" stroke="#2a2a2a" stroke-width="1.8"/>
<text x="1668.2" y="2981.3" font-family="'Liberation Sans',Arial,sans-serif" font-size="22.6" text-anchor="start" fill="#000" letter-spacing="0.2">Model</text>
<text x="1668.2" y="3030.9" font-family="'Liberation Sans',Arial,sans-serif" font-size="22.6" text-anchor="start" fill="#000" letter-spacing="0.2">Equation</text>
<text x="1668.2" y="3094" font-family="'Liberation Sans',Arial,sans-serif" font-size="22.6" text-anchor="start" fill="#000" letter-spacing="0.2">Reduced Chi-Sqr</text>
<text x="1668.2" y="3142.9" font-family="'Liberation Sans',Arial,sans-serif" font-size="22.6" text-anchor="start" fill="#000" letter-spacing="0.2">Adj. R-Square</text>
<text x="1668.2" y="3212.8" font-family="'Liberation Sans',Arial,sans-serif" font-size="22.6" text-anchor="start" fill="#000" letter-spacing="0.2">y0</text>
<text x="1668.2" y="3247.3" font-family="'Liberation Sans',Arial,sans-serif" font-size="22.6" text-anchor="start" fill="#000" letter-spacing="0.2">A1</text>
<text x="1668.2" y="3281.9" font-family="'Liberation Sans',Arial,sans-serif" font-size="22.6" text-anchor="start" fill="#000" letter-spacing="0.2">t1</text>
<text x="1924.2" y="2976.4" font-family="'Liberation Sans',Arial,sans-serif" font-size="22.6" text-anchor="start" fill="#000" letter-spacing="0.2">ExpDec1</text>
<text x="1924.2" y="3012.5" font-family="'Liberation Sans',Arial,sans-serif" font-size="22.6" text-anchor="start" fill="#000" letter-spacing="0.2">y = A1*exp(-x/t1) + y0</text>
<text x="2154.5" y="3075.6" font-family="'Liberation Sans',Arial,sans-serif" font-size="22.6" text-anchor="end" fill="#000" letter-spacing="0.2">67.40248</text>
<text x="2154.5" y="3138.8" font-family="'Liberation Sans',Arial,sans-serif" font-size="22.6" text-anchor="end" fill="#000" letter-spacing="0.2">0.89105</text>
<text x="1924.2" y="3173.3" font-family="'Liberation Sans',Arial,sans-serif" font-size="22.6" text-anchor="start" fill="#000" letter-spacing="0.2">Value</text>
<text x="2182" y="3173.3" font-family="'Liberation Sans',Arial,sans-serif" font-size="22.6" text-anchor="start" fill="#000" letter-spacing="0.2">Standard Error</text>
<text x="2154.5" y="3208.7" font-family="'Liberation Sans',Arial,sans-serif" font-size="22.6" text-anchor="end" fill="#000" letter-spacing="0.2">758.45209</text>
<text x="2355.7" y="3208.7" font-family="'Liberation Sans',Arial,sans-serif" font-size="22.6" text-anchor="end" fill="#000" letter-spacing="0.2">5.37006</text>
<text x="2154.5" y="3243.2" font-family="'Liberation Sans',Arial,sans-serif" font-size="22.6" text-anchor="end" fill="#000" letter-spacing="0.2">-53.15742</text>
<text x="2355.7" y="3243.2" font-family="'Liberation Sans',Arial,sans-serif" font-size="22.6" text-anchor="end" fill="#000" letter-spacing="0.2">7.51387</text>
<text x="2154.5" y="3277.8" font-family="'Liberation Sans',Arial,sans-serif" font-size="22.6" text-anchor="end" fill="#000" letter-spacing="0.2">22.13351</text>
<text x="2355.7" y="3277.8" font-family="'Liberation Sans',Arial,sans-serif" font-size="22.6" text-anchor="end" fill="#000" letter-spacing="0.2">9.219</text>
</g>
</svg>
</body></html>
